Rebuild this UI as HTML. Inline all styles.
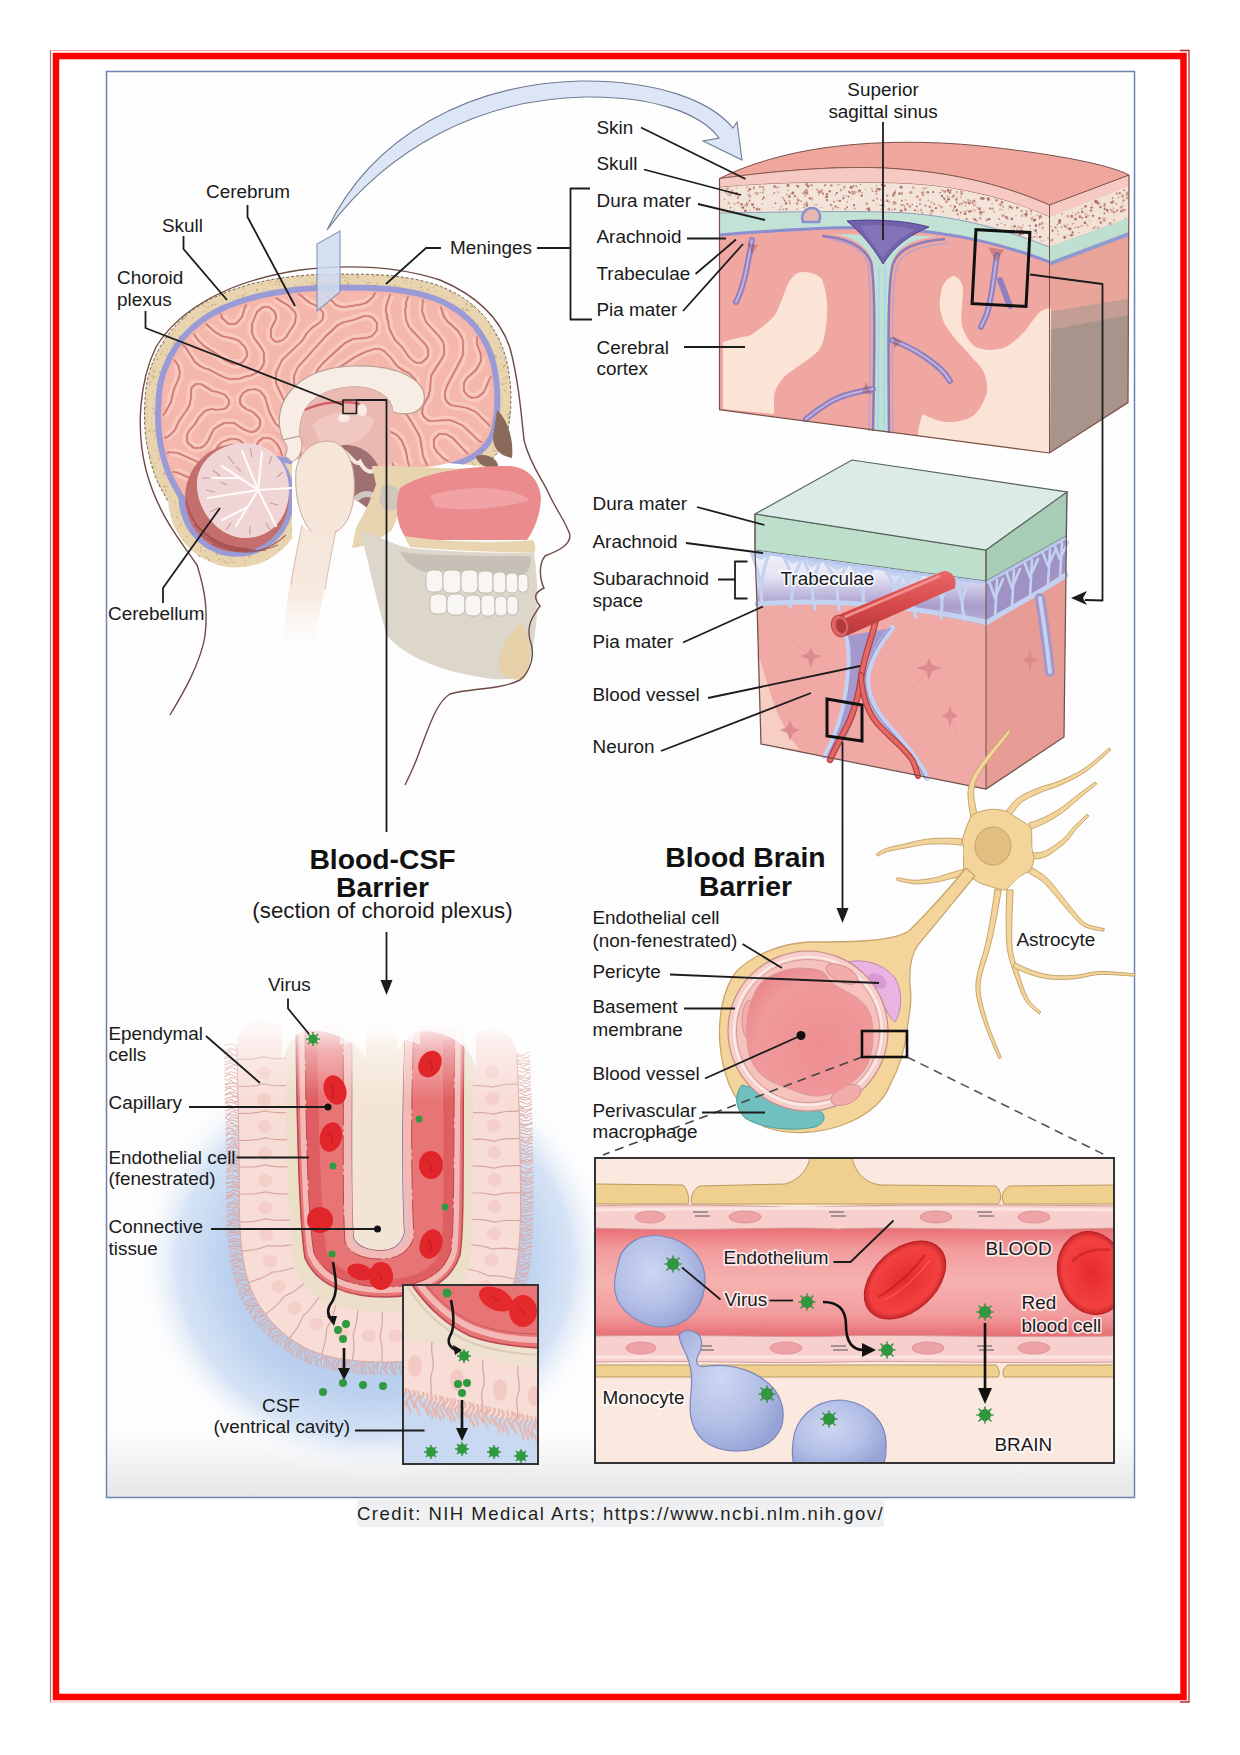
<!DOCTYPE html>
<html><head><meta charset="utf-8">
<style>
html,body{margin:0;padding:0;background:#fff;width:1240px;height:1755px;overflow:hidden}
svg{position:absolute;left:0;top:0}
.l{font-family:"Liberation Sans",sans-serif;font-size:18.9px;fill:#1a1a1a}
.b{font-family:"Liberation Sans",sans-serif;font-weight:bold;font-size:28.3px;fill:#111}
.ln{stroke:#1a1a1a;stroke-width:2;fill:none}
.h{paint-order:stroke;stroke:#fff;stroke-width:3.5px;stroke-opacity:0.75;stroke-linejoin:round}
.cr{position:absolute;left:357px;top:1500px;height:27px;background:#eef0f2;font-family:"Liberation Sans",sans-serif;font-size:18.5px;letter-spacing:1.47px;color:#1e1e1e;line-height:27px;white-space:nowrap}
</style></head><body>
<svg width="1240" height="1755" viewBox="0 0 1240 1755">
<defs>
<linearGradient id="bgG" x1="0" y1="0" x2="0" y2="1">
<stop offset="0" stop-color="#fefefe"/><stop offset="0.955" stop-color="#fdfdfd"/><stop offset="1" stop-color="#e6e6e6"/>
</linearGradient>
</defs>
<!-- frame -->
<path d="M50.5,50.5 L1180,50.5" stroke="#eea0a0" stroke-width="1.2" fill="none"/>
<path d="M1180,50.5 L1189,50.5 L1189,1702 L1180,1702" stroke="#b02a2a" stroke-width="1.3" fill="none"/>
<path d="M50.5,50.5 L50.5,1702" stroke="#a87474" stroke-width="1.2" fill="none"/>
<path d="M50.5,1702 L1180,1702" stroke="#f2c0c0" stroke-width="1" fill="none"/>
<rect x="56" y="56" width="1127.5" height="1641" fill="none" stroke="#f00" stroke-width="6.5"/>
<!-- image box -->
<rect x="106.5" y="71.5" width="1028" height="1426" fill="url(#bgG)" stroke="#6a84b0" stroke-width="1.5"/>
<g id="art">
<!-- head -->
<g id="head">
<path d="M168.2,501.9 L169.0,509.1 L170.5,515.8 L172.6,522.4 L175.3,528.7 L179.3,535.8 L183.2,541.3 L187.7,546.5 L192.7,551.2 L198.4,555.6 L204.2,559.1 L210.3,562.1 L216.6,564.5 L223.2,566.2 L229.9,567.2 L236.7,567.5 L243.5,567.1 L250.2,566.1 L258.0,563.9 L264.3,561.4 L270.7,558.1 L276.3,554.3 L282.6,549.2 L287.6,544.0 L292.0,538.3 L292.0,455.0 L300.0,452.0 L398.0,458.0 L482.9,466.3 L492.5,458.4 L497.1,453.2 L501.1,447.4 L504.0,441.9 L506.6,434.8 L509.5,420.7 L510.7,408.2 L510.9,397.5 L510.5,386.6 L509.4,375.8 L507.6,365.3 L505.0,354.8 L501.6,344.9 L498.5,338.0 L490.8,324.8 L481.5,313.2 L472.4,304.7 L459.8,295.7 L448.1,289.4 L435.8,284.6 L418.8,279.9 L400.4,276.7 L380.2,274.8 L345.3,274.0 L315.6,274.5 L295.3,276.1 L270.5,279.7 L250.9,284.0 L231.9,289.9 L214.0,297.4 L202.0,304.0 L190.3,312.1 L180.1,321.0 L171.1,330.8 L163.6,341.1 L157.0,352.6 L151.7,365.1 L147.9,377.6 L145.4,393.6 L144.4,413.4 L145.0,429.8 L147.0,446.1 L150.5,461.9 L155.3,476.6 L158.8,484.5 Z" fill="#e8d5b0"/>
<g fill="#b89868" opacity="0.6"><circle cx="466.4" cy="304.0" r="1.0"/><circle cx="206.4" cy="557.0" r="0.9"/><circle cx="175.6" cy="330.8" r="0.6"/><circle cx="163.5" cy="473.5" r="0.7"/><circle cx="151.6" cy="428.9" r="0.6"/><circle cx="283.9" cy="540.9" r="0.7"/><circle cx="154.3" cy="431.6" r="1.0"/><circle cx="186.7" cy="536.4" r="0.7"/><circle cx="167.9" cy="336.3" r="1.0"/><circle cx="369.4" cy="282.4" r="1.0"/><circle cx="162.0" cy="345.7" r="0.7"/><circle cx="170.6" cy="496.8" r="0.8"/><circle cx="468.2" cy="310.1" r="0.6"/><circle cx="502.9" cy="427.3" r="0.6"/><circle cx="283.6" cy="285.8" r="0.7"/><circle cx="433.7" cy="287.4" r="0.6"/><circle cx="204.0" cy="305.7" r="0.9"/><circle cx="263.5" cy="290.2" r="0.6"/><circle cx="291.7" cy="530.1" r="0.8"/><circle cx="320.6" cy="275.1" r="1.0"/><circle cx="498.5" cy="425.6" r="1.1"/><circle cx="155.3" cy="462.9" r="0.5"/><circle cx="198.3" cy="555.3" r="0.9"/><circle cx="153.9" cy="371.6" r="1.1"/><circle cx="265.2" cy="288.9" r="0.6"/><circle cx="490.9" cy="327.2" r="0.7"/><circle cx="498.8" cy="367.7" r="0.6"/><circle cx="358.6" cy="275.0" r="0.7"/><circle cx="436.5" cy="290.2" r="0.6"/><circle cx="494.9" cy="356.1" r="1.0"/><circle cx="182.9" cy="319.4" r="0.8"/><circle cx="153.4" cy="370.4" r="0.9"/><circle cx="177.0" cy="334.5" r="0.5"/><circle cx="201.3" cy="547.4" r="1.0"/><circle cx="420.9" cy="287.0" r="0.9"/><circle cx="154.5" cy="364.1" r="0.6"/><circle cx="500.6" cy="415.0" r="1.1"/><circle cx="203.2" cy="311.7" r="0.7"/><circle cx="230.5" cy="559.8" r="0.8"/><circle cx="467.7" cy="310.3" r="1.0"/><circle cx="422.3" cy="289.4" r="0.5"/><circle cx="410.9" cy="283.1" r="0.7"/><circle cx="489.2" cy="459.7" r="0.7"/><circle cx="175.8" cy="505.7" r="0.6"/><circle cx="479.5" cy="312.0" r="1.0"/><circle cx="193.1" cy="317.8" r="0.9"/><circle cx="405.8" cy="281.0" r="0.7"/><circle cx="499.5" cy="347.4" r="0.9"/><circle cx="227.3" cy="562.9" r="0.9"/><circle cx="501.8" cy="350.5" r="0.7"/><circle cx="151.5" cy="418.0" r="0.5"/><circle cx="174.8" cy="342.2" r="0.6"/><circle cx="147.2" cy="399.5" r="0.7"/><circle cx="497.1" cy="439.4" r="1.1"/><circle cx="494.1" cy="450.7" r="1.0"/><circle cx="363.0" cy="281.1" r="0.6"/><circle cx="462.6" cy="308.7" r="0.9"/><circle cx="149.9" cy="455.6" r="1.0"/><circle cx="153.3" cy="408.5" r="1.0"/><circle cx="269.6" cy="283.5" r="0.8"/><circle cx="146.7" cy="407.1" r="1.0"/><circle cx="166.0" cy="354.9" r="1.0"/><circle cx="178.9" cy="519.6" r="0.6"/><circle cx="365.6" cy="275.8" r="0.7"/><circle cx="348.2" cy="281.6" r="0.7"/><circle cx="450.2" cy="291.9" r="0.9"/><circle cx="213.7" cy="560.2" r="0.5"/><circle cx="181.0" cy="524.7" r="0.7"/><circle cx="164.2" cy="486.9" r="0.9"/><circle cx="224.2" cy="561.5" r="1.0"/><circle cx="472.4" cy="462.9" r="0.9"/><circle cx="285.6" cy="283.8" r="0.7"/><circle cx="510.4" cy="386.0" r="1.0"/><circle cx="172.5" cy="334.1" r="0.6"/><circle cx="232.1" cy="562.1" r="0.9"/><circle cx="208.2" cy="306.7" r="0.7"/><circle cx="504.6" cy="391.0" r="0.9"/><circle cx="331.1" cy="280.2" r="1.0"/><circle cx="376.5" cy="283.2" r="0.9"/><circle cx="226.6" cy="557.7" r="0.6"/><circle cx="267.3" cy="559.5" r="0.8"/><circle cx="402.3" cy="277.9" r="0.7"/><circle cx="242.7" cy="295.8" r="1.1"/><circle cx="482.5" cy="458.3" r="0.8"/><circle cx="221.8" cy="300.6" r="0.5"/><circle cx="502.6" cy="369.7" r="0.6"/><circle cx="238.0" cy="296.2" r="0.6"/><circle cx="502.9" cy="421.4" r="0.7"/><circle cx="159.8" cy="486.3" r="1.0"/><circle cx="505.6" cy="383.1" r="0.9"/><circle cx="164.1" cy="473.8" r="1.1"/><circle cx="345.3" cy="280.4" r="0.9"/><circle cx="490.1" cy="333.4" r="0.7"/><circle cx="244.7" cy="293.8" r="0.9"/><circle cx="283.8" cy="532.6" r="0.6"/><circle cx="306.9" cy="281.3" r="0.8"/><circle cx="149.8" cy="382.8" r="0.7"/><circle cx="249.4" cy="556.8" r="1.0"/><circle cx="208.2" cy="302.9" r="0.6"/><circle cx="262.0" cy="284.1" r="0.9"/><circle cx="179.7" cy="336.3" r="1.0"/><circle cx="496.0" cy="356.9" r="1.0"/><circle cx="405.2" cy="278.7" r="0.5"/><circle cx="503.7" cy="379.3" r="0.8"/><circle cx="165.5" cy="490.3" r="0.9"/><circle cx="257.0" cy="289.6" r="1.1"/><circle cx="177.3" cy="528.6" r="0.5"/><circle cx="156.4" cy="469.1" r="0.7"/><circle cx="156.7" cy="450.7" r="0.8"/><circle cx="501.6" cy="398.4" r="0.7"/><circle cx="146.8" cy="414.1" r="0.7"/><circle cx="153.8" cy="466.2" r="1.0"/><circle cx="369.6" cy="283.2" r="0.6"/><circle cx="278.6" cy="549.8" r="0.8"/><circle cx="265.8" cy="551.2" r="0.5"/><circle cx="312.3" cy="283.2" r="0.8"/><circle cx="279.9" cy="281.9" r="0.8"/><circle cx="295.6" cy="285.2" r="0.8"/><circle cx="176.6" cy="517.0" r="0.9"/><circle cx="508.2" cy="417.5" r="0.9"/><circle cx="160.2" cy="471.5" r="0.6"/><circle cx="348.5" cy="284.0" r="0.5"/><circle cx="207.6" cy="307.6" r="0.6"/><circle cx="245.5" cy="561.1" r="0.7"/><circle cx="505.3" cy="428.8" r="0.5"/><circle cx="212.4" cy="305.1" r="1.0"/><circle cx="309.6" cy="277.3" r="0.6"/><circle cx="509.4" cy="414.1" r="1.1"/><circle cx="256.7" cy="290.7" r="0.9"/><circle cx="420.6" cy="283.5" r="0.6"/><circle cx="465.8" cy="307.9" r="0.6"/><circle cx="437.8" cy="286.1" r="0.7"/><circle cx="466.2" cy="310.3" r="0.7"/><circle cx="208.9" cy="559.9" r="1.1"/><circle cx="291.8" cy="537.6" r="0.7"/><circle cx="276.9" cy="281.7" r="0.9"/><circle cx="151.4" cy="382.0" r="0.8"/><circle cx="374.8" cy="276.3" r="0.6"/><circle cx="179.5" cy="526.3" r="0.9"/><circle cx="215.2" cy="304.5" r="0.9"/><circle cx="312.4" cy="275.2" r="0.5"/><circle cx="491.6" cy="327.6" r="0.9"/><circle cx="477.9" cy="325.0" r="1.0"/><circle cx="200.6" cy="550.6" r="0.9"/><circle cx="447.6" cy="297.7" r="0.6"/><circle cx="191.1" cy="325.0" r="0.8"/><circle cx="472.9" cy="306.2" r="1.0"/><circle cx="368.1" cy="279.6" r="0.5"/><circle cx="482.0" cy="454.8" r="1.0"/><circle cx="275.4" cy="284.1" r="0.8"/><circle cx="173.4" cy="343.6" r="1.0"/><circle cx="310.2" cy="282.9" r="0.5"/><circle cx="166.7" cy="486.4" r="0.8"/><circle cx="165.3" cy="485.7" r="0.6"/><circle cx="501.0" cy="364.4" r="0.7"/><circle cx="154.6" cy="437.7" r="0.7"/><circle cx="151.6" cy="423.7" r="0.6"/><circle cx="154.2" cy="412.8" r="0.9"/><circle cx="331.9" cy="276.2" r="0.5"/><circle cx="274.8" cy="542.3" r="0.7"/><circle cx="500.7" cy="357.9" r="0.7"/><circle cx="496.1" cy="335.0" r="1.0"/><circle cx="174.8" cy="502.1" r="0.8"/><circle cx="356.8" cy="276.7" r="1.1"/><circle cx="244.6" cy="563.9" r="0.6"/><circle cx="373.4" cy="276.8" r="0.7"/><circle cx="390.0" cy="285.4" r="0.7"/><circle cx="279.5" cy="284.8" r="0.9"/><circle cx="250.2" cy="284.5" r="0.6"/><circle cx="349.5" cy="279.3" r="0.7"/><circle cx="150.2" cy="384.7" r="0.8"/><circle cx="156.6" cy="376.6" r="0.8"/><circle cx="411.5" cy="287.7" r="0.7"/><circle cx="278.2" cy="279.6" r="0.8"/><circle cx="154.7" cy="398.7" r="0.7"/><circle cx="146.5" cy="407.3" r="0.7"/><circle cx="152.5" cy="391.9" r="0.6"/><circle cx="504.5" cy="360.0" r="0.7"/><circle cx="346.8" cy="276.8" r="0.6"/><circle cx="348.1" cy="283.7" r="1.1"/><circle cx="153.2" cy="467.4" r="0.9"/><circle cx="270.5" cy="281.0" r="1.0"/><circle cx="162.4" cy="351.8" r="0.7"/><circle cx="508.7" cy="394.7" r="0.6"/><circle cx="155.4" cy="435.2" r="0.8"/><circle cx="428.1" cy="289.5" r="0.9"/><circle cx="504.3" cy="365.4" r="1.0"/><circle cx="463.5" cy="309.0" r="0.6"/><circle cx="151.1" cy="367.3" r="0.8"/><circle cx="454.0" cy="297.7" r="0.7"/><circle cx="492.6" cy="457.4" r="0.5"/><circle cx="164.1" cy="343.0" r="1.0"/><circle cx="358.5" cy="277.6" r="1.0"/><circle cx="218.9" cy="559.4" r="0.8"/><circle cx="206.0" cy="311.1" r="0.7"/><circle cx="494.2" cy="443.5" r="0.6"/><circle cx="156.3" cy="384.3" r="0.9"/><circle cx="149.2" cy="431.0" r="0.9"/><circle cx="503.5" cy="366.9" r="0.9"/><circle cx="171.2" cy="516.1" r="0.6"/><circle cx="147.7" cy="445.4" r="0.6"/><circle cx="154.2" cy="450.0" r="0.8"/><circle cx="205.1" cy="550.6" r="0.8"/><circle cx="177.6" cy="512.0" r="0.7"/><circle cx="471.3" cy="306.2" r="1.0"/><circle cx="216.8" cy="554.4" r="1.0"/><circle cx="352.1" cy="277.3" r="0.6"/><circle cx="222.9" cy="559.0" r="0.6"/><circle cx="145.2" cy="409.6" r="0.9"/><circle cx="483.0" cy="464.7" r="0.8"/><circle cx="500.8" cy="370.7" r="0.7"/><circle cx="243.8" cy="289.1" r="0.8"/><circle cx="220.1" cy="559.7" r="0.7"/><circle cx="153.4" cy="377.4" r="1.1"/><circle cx="344.0" cy="277.1" r="1.0"/><circle cx="149.7" cy="441.3" r="0.5"/><circle cx="158.8" cy="459.2" r="0.9"/><circle cx="158.4" cy="455.9" r="0.8"/><circle cx="474.4" cy="464.7" r="1.0"/><circle cx="315.5" cy="284.3" r="1.1"/><circle cx="183.0" cy="539.8" r="0.7"/><circle cx="145.9" cy="420.6" r="0.9"/><circle cx="158.9" cy="484.2" r="1.0"/><circle cx="492.9" cy="447.0" r="0.6"/><circle cx="220.3" cy="564.7" r="0.5"/><circle cx="234.6" cy="562.4" r="0.6"/><circle cx="502.4" cy="384.2" r="1.1"/><circle cx="301.7" cy="277.1" r="1.0"/><circle cx="503.2" cy="434.6" r="0.5"/><circle cx="154.2" cy="377.4" r="0.7"/><circle cx="508.2" cy="422.6" r="0.6"/><circle cx="499.4" cy="423.3" r="0.8"/><circle cx="466.7" cy="310.2" r="1.1"/><circle cx="275.6" cy="543.0" r="0.5"/><circle cx="328.6" cy="277.1" r="0.6"/><circle cx="394.9" cy="285.3" r="1.1"/><circle cx="178.5" cy="323.7" r="0.7"/><circle cx="388.5" cy="276.8" r="0.9"/><circle cx="339.1" cy="282.8" r="0.8"/><circle cx="502.3" cy="420.6" r="0.6"/><circle cx="167.0" cy="348.9" r="0.6"/><circle cx="366.9" cy="283.3" r="0.9"/><circle cx="289.1" cy="523.4" r="0.6"/><circle cx="157.6" cy="359.4" r="0.9"/><circle cx="507.4" cy="414.4" r="0.8"/><circle cx="153.1" cy="375.7" r="0.6"/><circle cx="199.7" cy="556.4" r="1.0"/><circle cx="346.8" cy="278.0" r="0.7"/><circle cx="506.5" cy="377.2" r="1.0"/><circle cx="184.5" cy="317.7" r="1.0"/><circle cx="151.2" cy="375.7" r="0.7"/><circle cx="503.5" cy="420.0" r="0.8"/><circle cx="161.0" cy="353.9" r="1.0"/><circle cx="420.9" cy="289.6" r="0.6"/><circle cx="411.6" cy="278.7" r="0.6"/><circle cx="398.5" cy="287.0" r="0.7"/><circle cx="272.8" cy="545.2" r="0.7"/><circle cx="159.2" cy="372.4" r="0.8"/><circle cx="452.6" cy="294.1" r="0.9"/><circle cx="500.0" cy="416.3" r="0.9"/></g>
<path d="M178.5,498.4 L178.9,504.4 L180.2,511.5 L184.1,522.6 L187.4,529.0 L190.7,533.8 L198.6,542.4 L204.1,546.8 L209.0,549.8 L219.7,554.4 L226.5,556.1 L232.1,556.8 L243.6,556.6 L250.6,555.2 L257.4,553.0 L263.9,549.9 L269.9,546.0 L275.5,541.4 L280.4,536.2 L284.7,530.3 L288.4,523.8 L292.0,514.4 L292.0,479.6 L288.9,471.4 L284.4,463.1 L292.0,464.5 L292.0,455.0 L300.0,452.0 L398.0,458.0 L463.9,464.5 L470.1,461.8 L475.5,458.7 L480.5,455.1 L486.6,449.4 L490.2,444.9 L493.4,439.6 L495.7,434.5 L498.6,422.5 L500.0,410.5 L500.4,400.8 L500.2,390.5 L499.4,380.4 L497.3,367.6 L495.1,358.1 L491.8,348.7 L489.0,342.4 L482.2,330.9 L473.7,320.3 L463.2,310.8 L454.1,304.6 L440.4,297.5 L428.9,293.4 L416.3,290.2 L398.8,287.0 L374.8,285.0 L345.2,284.5 L320.9,284.7 L296.6,286.5 L272.3,290.0 L253.5,294.2 L235.6,299.8 L218.7,306.7 L207.4,313.0 L197.0,320.2 L187.5,328.4 L179.3,337.3 L172.3,346.9 L166.3,357.6 L160.3,372.0 L157.4,383.3 L155.8,394.9 L154.9,413.7 L155.5,429.2 L157.4,444.6 L160.7,459.1 L165.2,472.9 L169.7,482.8 Z" fill="#9a9bd6"/>
<path d="M195.0,505.0 L193.1,505.0 L191.0,504.0 L188.9,502.2 L182.5,493.5 L173.5,477.0 L170.8,470.8 L167.4,460.9 L163.3,443.5 L161.5,428.7 L160.9,413.7 L161.8,395.4 L163.3,384.5 L166.0,374.0 L171.7,360.2 L177.3,350.2 L184.0,341.0 L191.8,332.6 L203.8,322.6 L214.0,316.0 L229.3,308.6 L246.2,302.5 L264.0,297.8 L287.6,293.7 L306.8,291.6 L330.8,290.5 L364.7,290.7 L388.9,292.0 L402.4,293.7 L419.2,297.0 L434.5,301.6 L444.7,306.1 L456.7,313.5 L467.0,322.0 L473.5,329.2 L480.7,339.7 L485.0,348.0 L487.4,353.7 L490.1,362.6 L492.0,371.8 L493.4,381.1 L494.2,390.9 L494.4,400.7 L493.7,412.9 L491.6,427.1 L490.1,432.3 L488.0,437.0 L485.4,441.3 L480.5,447.1 L476.7,450.5 L470.0,455.0 L462.0,458.8 L452.9,461.8 L440.0,465.0 L426.4,467.3 L415.7,468.4 L401.5,469.1 L370.0,468.0 L349.6,470.2 L343.4,470.3 L332.5,468.7 L303.6,460.9 L293.4,458.6 L267.0,454.5 L251.9,451.6 L242.9,451.4 L234.1,454.0 L225.2,458.6 L216.9,465.0 L212.0,470.0 L207.9,476.9 L200.0,498.4 L196.8,503.9 Z" fill="#f5b6ab"/>
<g fill="none" stroke="#fbd5ca" stroke-width="3" stroke-linecap="round" stroke-linejoin="round" opacity="0.65">
<path d="M374,439 L375,438 L381,438 L385,440 L389,444 L392,450 L395,462 L396,464"/>
<path d="M369,463 L367,458 L367,447 L369,443 L374,439"/>
<path d="M229,437 L230,436 L239,437 L244,440 L248,446"/>
<path d="M216,459 L213,455 L213,449 L215,445 L220,440 L226,437 L229,437"/>
<path d="M390,406 L391,405 L401,406 L409,413 L421,432 L424,441 L426,456 L429,462"/>
<path d="M406,464 L406,463 L400,443 L395,437 L384,432 L379,425 L379,416 L381,412 L386,407 L390,406"/>
<path d="M196,387 L194,390 L194,398 L193,399 L192,407 L184,418 L177,432 L168,440 L168,440"/>
<path d="M170,450 L178,450 L202,461 L208,466"/>
<path d="M198,489 L196,487 L189,481 L178,476"/>
<path d="M254,447 L254,444 L256,440 L262,435 L269,435 L275,438 L279,442 L283,449 L284,452"/>
<path d="M298,454 L298,452 L294,445 L273,425 L267,414 L264,402 L261,396 L258,393 L251,392 L245,395 L243,398 L244,404 L248,407 L255,410 L261,416 L263,420 L263,426 L258,433 L252,435 L247,434 L244,433 L234,426 L228,425 L227,426 L224,426 L217,430 L214,434 L209,445 L203,450 L194,451 L190,449 L185,444 L184,442 L184,435 L187,429 L193,422 L197,415 L203,409 L207,407 L221,407 L225,405 L226,403 L226,400 L223,397 L212,394 L201,387 L196,387"/>
<path d="M166,406 L168,402 L170,393 L177,374 L176,367 L175,365"/>
<path d="M373,347 L374,346 L380,346 L386,349 L393,356 L399,364 L411,371 L418,378 L419,381 L419,391 L417,395 L412,400 L410,401 L401,401 L399,400 L392,393 L385,380 L379,374 L374,372 L370,372 L363,375 L356,383 L345,393 L342,393 L341,394 L335,393 L330,389 L328,385 L328,377 L330,373 L338,365 L353,355 L367,348 L373,347"/>
<path d="M446,312 L449,319 L460,329 L464,335 L466,341 L466,354 L463,363 L450,386 L448,392 L448,398 L450,401 L454,403 L463,404 L475,408 L488,420"/>
<path d="M489,387 L486,394 L479,400 L476,400 L475,401 L469,400 L463,395 L461,391 L461,383 L463,379 L466,375 L474,368 L478,361 L478,355 L474,343 L474,338"/>
<path d="M306,297 L312,301 L319,304 L326,312 L326,319 L325,321 L320,326 L315,329 L309,335 L304,343 L284,362 L279,373 L279,383 L289,405 L297,417 L313,433 L325,438 L337,439 L340,438 L344,434 L344,428 L341,425 L324,425 L321,424 L314,420 L308,414 L297,398 L292,387 L291,376 L294,368 L310,349 L325,333 L337,322 L361,314 L368,313 L375,316 L380,323 L379,333 L373,339 L366,340 L365,341 L357,341 L347,345 L336,354 L324,366 L317,377 L317,386 L320,392 L327,399 L340,405 L348,405 L351,403 L357,393 L364,386 L368,384 L374,384 L378,386 L383,392 L383,400 L382,403 L369,416 L367,420 L367,428 L366,429 L365,437 L359,446 L357,451 L357,460 L358,464"/>
<path d="M441,460 L435,454 L431,447 L431,439 L433,435 L439,431 L446,431 L456,437 L461,443 L469,450"/>
<path d="M477,443 L477,443 L464,430 L458,426 L451,423 L429,424 L425,422 L420,416 L419,409 L421,403 L423,401 L427,392 L427,383 L428,382 L429,373 L433,366 L439,359 L442,351 L442,348 L439,341 L424,324 L420,315 L420,302"/>
<path d="M410,300 L409,302 L409,307 L408,308 L408,315 L411,325 L428,343 L431,349 L431,356 L429,360 L424,365 L421,366 L415,365 L407,359 L400,349 L393,342 L387,331 L387,328 L384,319 L383,308 L384,307 L384,302 L386,297"/>
<path d="M377,296 L370,304 L363,307 L359,307 L353,309 L347,309 L346,310 L342,310 L334,307 L323,296"/>
<path d="M210,324 L217,330 L225,334 L235,336 L241,339 L247,345 L250,352 L250,355 L249,356 L249,359 L245,364 L239,367 L234,367 L224,363 L202,348 L196,342 L193,338"/>
<path d="M187,345 L188,346 L194,356 L198,361 L202,364 L229,376 L239,376 L240,375 L250,373 L256,370 L261,363 L261,353 L253,342 L249,333 L249,324 L255,310 L259,306 L263,304 L269,304 L276,309 L278,312 L279,318 L278,319 L278,322 L274,329 L273,334 L274,337 L277,339 L281,338 L284,335 L293,320 L293,315 L287,308 L278,303 L275,301"/>
<path d="M249,307 L247,310 L244,319 L239,325 L235,327 L229,327 L225,325 L220,320 L219,319"/>
<path d="M342,465 L342,463 L339,457 L335,453 L331,451 L322,451"/>
<path d="M375,445 L376,444 L381,444 L386,450 L389,462 L390,464"/>
<path d="M375,463 L372,455 L372,450 L375,445"/>
<path d="M228,443 L229,442 L236,442 L240,444 L242,447"/>
<path d="M221,456 L219,454 L219,450 L224,444 L228,443"/>
<path d="M390,412 L391,411 L398,411 L405,417 L417,437 L421,459 L423,463"/>
<path d="M411,464 L411,460 L410,459 L408,448 L403,437 L396,431 L389,428 L384,422 L384,419 L386,415 L390,412"/>
<path d="M195,381 L193,382 L189,387 L187,404 L178,417 L172,429 L167,434"/>
<path d="M171,455 L174,455 L181,457 L196,464 L205,471"/>
<path d="M200,484 L192,476 L180,470 L176,470"/>
<path d="M259,448 L260,445 L264,441 L269,441 L275,446 L277,451"/>
<path d="M304,456 L304,452 L303,449 L298,441 L277,421 L272,411 L268,397 L266,393 L261,388 L259,387 L248,387 L242,390 L237,397 L237,404 L239,407 L244,411 L251,414 L257,420 L257,425 L253,429 L247,428 L234,420 L224,420 L217,423 L209,431 L206,439 L202,444 L200,445 L195,445 L190,441 L190,435 L191,433 L206,414 L211,412 L224,412 L228,410 L232,405 L232,399 L226,392 L215,389 L204,382 L195,381"/>
<path d="M166,416 L167,415 L173,404 L177,389 L182,378 L182,367 L178,360 L178,360"/>
<path d="M372,353 L373,352 L380,352 L382,353 L389,360 L394,367 L402,373 L408,376 L413,381 L414,388 L413,391 L409,395 L406,396 L402,395 L396,389 L390,377 L382,369 L377,367 L367,367 L362,369 L342,388 L338,388 L334,385 L333,379 L338,372 L359,358 L370,353 L372,353"/>
<path d="M439,309 L439,312 L442,319 L445,323 L451,328 L458,336 L460,340 L461,350 L460,351 L459,358 L451,373 L449,375 L444,386 L442,392 L443,401 L447,406 L451,408 L464,410 L474,414 L487,427"/>
<path d="M488,377 L486,379 L482,390 L476,395 L470,394 L467,391 L466,388 L467,383 L469,380 L478,372 L483,364 L484,358"/>
<path d="M299,297 L305,303 L315,308 L320,313 L320,318 L316,322 L311,325 L305,331 L300,339 L280,358 L275,367 L273,373 L273,383 L275,389 L290,417 L294,422 L312,439 L318,442 L321,442 L326,444 L332,444 L333,445 L340,444 L344,442 L348,438 L350,434 L350,427 L348,423 L344,420 L341,419 L331,419 L330,420 L324,419 L318,416 L312,410 L304,399 L299,390 L297,384 L297,375 L300,369 L328,338 L340,327 L364,319 L369,319 L371,320 L374,324 L374,330 L370,334 L353,336 L346,339 L339,344 L330,352 L316,367 L312,374 L312,377 L311,378 L311,386 L315,395 L323,403 L337,410 L340,410 L341,411 L351,410 L357,405 L363,394 L368,390 L374,390 L378,395 L377,400 L364,413 L362,417 L361,420 L361,430 L359,436 L356,440 L351,451 L351,460 L353,465"/>
<path d="M448,458 L445,456 L437,447 L436,442 L440,437 L446,437 L448,438 L463,453"/>
<path d="M481,438 L468,426 L454,418 L441,417 L440,418 L433,419 L428,417 L425,413 L426,406 L431,398 L433,391 L433,380 L434,379 L434,376 L445,360 L445,358 L447,355 L447,345 L444,338 L428,320 L425,312 L425,304 L425,304"/>
<path d="M404,299 L403,303 L403,319 L404,320 L404,323 L409,332 L425,349 L425,356 L421,360 L417,360 L410,354 L404,345 L395,335 L392,328 L390,315 L389,314 L389,306 L392,297"/>
<path d="M370,296 L367,299 L363,301 L350,303 L349,304 L341,304 L338,303 L331,296"/>
<path d="M206,327 L216,336 L222,339 L237,343 L244,351 L244,356 L243,358 L239,361 L230,360 L206,344 L200,338 L197,334"/>
<path d="M184,350 L184,350 L193,364 L201,370 L203,370 L229,382 L238,382 L239,381 L243,381 L247,379 L250,379 L260,374 L265,368 L267,363 L267,353 L265,350 L265,348 L260,342 L255,333 L255,324 L259,314 L264,310 L269,310 L272,313 L273,319 L268,330 L268,338 L269,340 L274,344 L281,344 L288,339 L296,327 L299,320 L298,312 L290,303 L284,300 L283,299"/>
<path d="M242,309 L241,312 L238,318 L234,321 L229,321 L225,317 L225,316"/>
</g>
<g fill="none" stroke="#cf7a74" stroke-width="1.7" stroke-linecap="round" stroke-linejoin="round">
<path d="M323,454 L318,458 L318,463"/>
<path d="M340,468 L339,463 L337,459 L331,454 L323,454"/>
<path d="M375,442 L376,441 L381,441 L383,442 L387,446 L389,450 L392,462 L394,467"/>
<path d="M373,466 L369,453 L371,445 L375,442"/>
<path d="M228,440 L229,439 L236,439 L239,440 L244,444 L246,448 L246,449"/>
<path d="M220,459 L217,456 L216,450 L218,446 L222,442 L228,440"/>
<path d="M390,409 L391,408 L398,408 L402,410 L407,415 L411,421 L420,437 L423,456 L427,465"/>
<path d="M409,467 L409,464 L408,463 L406,451 L402,441 L397,435 L385,429 L381,422 L382,416 L384,413 L387,410 L390,409"/>
<path d="M196,384 L192,387 L191,390 L191,400 L190,401 L190,404 L187,410 L179,421 L175,430 L169,436 L165,438 L165,438"/>
<path d="M167,453 L168,453 L169,452 L178,453 L200,463 L209,471"/>
<path d="M201,489 L198,485 L190,478 L176,472 L173,472"/>
<path d="M257,450 L257,444 L259,441 L263,438 L269,438 L273,440 L277,444 L280,449 L282,455"/>
<path d="M302,458 L302,458 L301,457 L300,449 L296,443 L275,423 L269,411 L265,397 L260,391 L255,389 L248,390 L243,393 L240,398 L240,403 L242,406 L246,409 L253,412 L259,418 L260,420 L260,426 L257,430 L253,432 L250,432 L243,429 L234,423 L224,423 L214,429 L208,441 L204,446 L200,448 L194,448 L188,443 L187,441 L187,435 L189,431 L195,424 L199,417 L205,411 L211,409 L214,409 L215,410 L224,409 L226,408 L229,404 L229,400 L225,395 L218,392 L212,391 L201,384 L196,384"/>
<path d="M163,415 L165,413 L171,402 L174,389 L179,378 L180,371 L179,370 L179,367 L176,362 L174,360"/>
<path d="M372,350 L373,349 L380,349 L384,351 L391,358 L397,366 L404,371 L409,373 L415,379 L417,384 L417,387 L415,393 L411,397 L409,398 L402,398 L400,397 L394,391 L388,379 L381,372 L373,369 L367,370 L361,373 L346,389 L342,391 L338,391 L332,387 L330,382 L331,377 L340,367 L355,357 L365,352 L372,350"/>
<path d="M441,307 L441,308 L444,317 L447,321 L458,331 L462,338 L463,341 L463,355 L447,386 L445,392 L445,398 L447,402 L451,405 L467,408 L476,412 L490,426"/>
<path d="M491,377 L490,378 L484,392 L478,397 L472,398 L468,396 L464,391 L464,383 L465,381 L467,378 L476,370 L481,361 L481,355 L477,344 L477,337"/>
<path d="M299,294 L300,295 L310,303 L317,306 L323,312 L323,318 L322,320 L318,324 L313,327 L307,333 L302,341 L282,360 L276,373 L276,383 L288,409 L296,420 L314,437 L322,440 L331,441 L332,442 L340,441 L346,436 L347,434 L347,427 L345,424 L341,422 L324,422 L321,421 L316,418 L310,412 L299,396 L294,384 L294,376 L298,367 L326,336 L338,325 L344,322 L354,320 L364,316 L369,316 L373,318 L377,323 L377,330 L372,336 L367,338 L353,339 L345,343 L323,363 L318,369 L314,377 L314,386 L318,394 L328,403 L340,408 L348,408 L352,406 L362,391 L368,387 L374,387 L376,388 L380,393 L381,396 L379,402 L365,417 L363,434 L354,451 L354,460 L356,466 L357,467"/>
<path d="M448,461 L443,458 L437,452 L434,447 L434,439 L439,434 L446,434 L453,438 L464,450 L468,454"/>
<path d="M482,442 L479,441 L462,425 L450,420 L429,421 L424,417 L422,413 L423,406 L429,395 L429,392 L430,391 L431,376 L444,355 L444,345 L443,342 L439,336 L426,322 L422,311 L423,300"/>
<path d="M408,297 L406,302 L406,308 L405,309 L406,320 L409,327 L426,345 L428,349 L428,356 L427,358 L421,363 L417,363 L413,361 L409,357 L402,347 L395,340 L389,328 L388,320 L387,319 L387,314 L386,313 L386,307 L390,295 L390,294"/>
<path d="M375,293 L373,297 L366,303 L359,305 L355,305 L354,306 L349,306 L348,307 L341,307 L336,305 L324,293"/>
<path d="M206,324 L206,324 L215,332 L222,336 L235,339 L239,341 L245,347 L247,352 L247,356 L243,362 L239,364 L233,364 L226,361 L220,356 L204,346 L198,340 L194,334"/>
<path d="M183,345 L186,348 L195,362 L200,366 L206,369 L208,369 L223,377 L229,379 L239,379 L247,376 L250,376 L258,372 L261,369 L264,363 L264,353 L261,347 L254,338 L252,333 L252,324 L257,312 L263,307 L269,307 L274,311 L276,315 L276,319 L271,329 L271,337 L274,341 L277,342 L283,340 L286,337 L295,323 L296,315 L295,312 L289,306 L276,298 L276,298"/>
<path d="M246,305 L245,307 L242,317 L237,323 L235,324 L229,324 L222,318 L221,314"/>
</g>
<path d="M484.2,465.5 L491.8,459.1 L497.1,453.2 L502.3,445.2 L505.4,438.3 L507.7,430.6 L509.5,420.7 L510.7,407.8 L510.9,393.5 L510.2,382.6 L508.3,369.1 L506.0,358.4 L502.7,347.8 L498.5,338.0 L492.9,328.0 L486.2,318.6 L478.7,310.4 L472.4,304.7 L463.2,297.9 L456.2,293.6 L448.6,289.7 L440.6,286.3 L432.1,283.4 L413.9,278.9 L390.6,275.5 L365.1,274.2 L325.4,274.1 L310.3,274.8 L295.3,276.1 L270.5,279.7 L250.5,284.1 L227.7,291.5 L210.2,299.3 L202.0,304.0 L194.4,309.0 L187.2,314.6 L180.5,320.5 L174.4,326.9 L168.7,333.7 L160.9,345.4 L156.8,353.1 L153.2,361.1 L150.2,369.2 L147.9,377.6 L146.3,385.9 L145.1,397.7 L144.5,409.7 L144.6,421.9 L145.4,434.3 L147.0,446.1 L151.6,465.8 L155.3,476.6 L158.5,483.9 L168.1,501.6" fill="none" stroke="#7d6455" stroke-width="1" stroke-dasharray="3 2"/>
<!-- corpus callosum -->
<path d="M283,440 C268,400 300,368 352,366 C398,364 428,380 424,402 C421,414 405,416 393,412 C392,396 373,385 349,387 C317,390 298,407 300,436 Z" fill="#f7ede4" stroke="#b89c90" stroke-width="1.2"/>
<!-- fornix -->
<path d="M300,436 C305,448 300,458 292,462 L285,456 C288,450 288,445 283,440 Z" fill="#f7ede4" stroke="#b89c90" stroke-width="1"/>
<!-- thalamus region -->
<path d="M300,436 C298,407 317,390 349,387 C373,385 392,396 393,412 C386,430 394,450 398,462 L360,466 C345,462 330,458 312,462 Z" fill="#e9b9b2"/>
<path d="M312,425 C330,408 362,408 374,420 C370,442 342,450 320,442 Z" fill="#f2cac4" opacity="0.8"/>
<path d="M305,410 C320,402 345,400 360,404" stroke="#d6606a" stroke-width="2.5" fill="none"/>
<ellipse cx="344" cy="418" rx="6" ry="4" fill="#f8ece4"/>
<ellipse cx="362" cy="410" rx="5" ry="6" fill="#f8ece4"/>
<!-- dark ventricle / midbrain region -->
<path d="M330,448 C350,440 372,448 380,470 C384,490 380,505 372,510 C360,505 350,495 342,480 C336,470 332,460 330,448 Z" fill="#9e7070"/>
<path d="M345,452 C352,458 356,466 360,462 C364,470 370,474 374,470" stroke="#f3e6dc" stroke-width="4" fill="none" stroke-linecap="round"/>
<path d="M355,500 C362,492 372,492 378,500" stroke="#cfc8c2" stroke-width="6" fill="none"/>
<!-- brainstem -->
<defs><linearGradient id="cordG" gradientUnits="userSpaceOnUse" x1="0" y1="530" x2="0" y2="645">
<stop offset="0" stop-color="#f6e6da" stop-opacity="1"/><stop offset="0.55" stop-color="#f6e6da" stop-opacity="0.85"/><stop offset="1" stop-color="#f8eee8" stop-opacity="0"/></linearGradient></defs>
<path d="M296,470 C300,448 318,438 334,442 C350,448 356,470 354,495 C352,515 346,526 336,532 C328,536 318,536 312,532 C302,522 294,500 296,470 Z" fill="#f6e6da" stroke="#c9a898" stroke-width="1"/>
<path d="M302,525 C310,534 325,536 336,530 C330,560 322,600 314,645 L282,645 C286,600 294,560 302,525 Z" fill="url(#cordG)"/>
<path d="M336,530 C332,550 328,570 325,590 M302,525 C298,545 294,565 291,585" fill="none" stroke="#d9bcae" stroke-width="1"/>
<!-- cerebellum -->
<ellipse cx="237" cy="498" rx="52" ry="54" fill="#c46e6e"/>
<g stroke="#9c4a4c" stroke-width="1.1" fill="none" opacity="0.8">
<path d="M186,500 C192,528 212,546 242,551"/><path d="M189,512 C198,533 220,547 248,549"/><path d="M194,524 C208,540 230,550 256,550"/><path d="M200,534 C215,546 240,553 266,550"/><path d="M212,544 C230,552 255,555 278,545"/><path d="M230,550 C250,556 270,550 286,535"/>
</g>
<path d="M197,488 C195,462 218,443 246,443 C274,444 290,466 289,492 C288,518 272,537 247,538 C222,539 199,515 197,488 Z" fill="#efd5d6"/>
<g stroke="#fffaf6" stroke-width="2.2" fill="none" stroke-linecap="round">
<path d="M292,488 L258,490 L222,466"/><path d="M258,490 L236,526"/><path d="M258,490 L262,452"/><path d="M258,490 L208,498"/><path d="M258,490 L276,526"/><path d="M258,490 L242,451"/><path d="M240,478 L212,478"/><path d="M246,508 L222,520"/>
</g>
<g stroke="#c99ea1" stroke-width="1.1" fill="none">
<path d="M213,470 l7,6 M228,456 l6,8 M250,448 l2,9 M272,456 l-3,8 M283,472 l-6,5 M206,490 l9,2 M210,512 l8,-4 M226,530 l5,-7 M250,535 l0,-9 M270,530 l-4,-7 M220,482 l7,3 M236,466 l5,6 M278,505 l-8,-2 M202,478 l8,0"/>
</g>
<!-- skull base beige near brainstem/sphenoid -->
<path d="M372,466 L402,466 L440,468 L520,470 L524,482 L440,478 L410,482 L402,505 L392,530 L370,545 L352,548 L356,528 L368,505 L376,485 Z" fill="#e8d5b0"/>
<path d="M382,486 C395,482 404,490 400,505 C394,515 382,512 379,500 Z" fill="#cfc7bd"/>
<!-- frontal sinus dark -->
<path d="M497,410 C508,420 514,440 512,458 C500,456 490,448 494,430 Z" fill="#8a6a5a"/>
<path d="M476,456 C488,452 500,460 498,469 C486,469 476,463 476,456 Z" fill="#8a6a5a"/>
<!-- nasal cavity pink -->
<path d="M400,488 C420,474 460,466 510,466 C530,468 540,482 541,499 C540,516 534,530 527,540 L408,540 C398,530 393,508 400,488 Z" fill="#eb8b8e"/>
<path d="M430,495 C470,484 510,486 530,500 C505,508 465,512 435,507 Z" fill="#f3a8aa" opacity="0.8"/>
<!-- palate beige -->
<path d="M404,536 C450,543 500,543 533,540 C536,545 536,550 534,553 C500,552 450,551 410,547 Z" fill="#e8d5b0"/>
<!-- jaw gray -->
<path d="M360,530 C378,536 392,544 408,548 C460,553 510,553 534,553 C541,600 536,640 528,668 C520,681 500,681 480,677 C440,671 405,656 387,636 C378,605 370,570 360,530 Z" fill="#ddd6cb"/>
<path d="M400,552 C430,556 480,556 530,556 C532,566 528,574 520,576 C480,572 450,570 425,572 C412,568 404,560 400,552 Z" fill="#bdb6ad" opacity="0.7"/>
<!-- chin bone beige -->
<path d="M522,622 C532,645 532,665 524,679 C506,682 494,673 500,655 C505,640 513,630 522,622 Z" fill="#e5d0a8"/>
<!-- teeth -->
<g fill="#f7f6f2" stroke="#b8b0a5" stroke-width="0.8">
<rect x="426" y="570" width="17" height="22" rx="6"/><rect x="443" y="570" width="18" height="23" rx="6"/><rect x="461" y="570" width="17" height="23" rx="6"/><rect x="478" y="571" width="15" height="22" rx="5"/><rect x="493" y="572" width="13" height="21" rx="5"/><rect x="506" y="573" width="12" height="20" rx="5"/><rect x="518" y="574" width="10" height="18" rx="4"/>
<rect x="430" y="594" width="17" height="20" rx="6"/><rect x="447" y="594" width="18" height="21" rx="6"/><rect x="465" y="595" width="16" height="21" rx="6"/><rect x="481" y="595" width="14" height="21" rx="5"/><rect x="495" y="596" width="12" height="20" rx="5"/><rect x="507" y="596" width="11" height="19" rx="5"/>
</g>
<!-- skin outline -->
<path d="M170,715 C182,695 200,665 205,636 C208,610 205,590 197,565 C180,540 158,515 146,470 C136,430 139,382 156,347 C182,305 235,280 300,270 C350,264 400,267 440,280 C478,296 500,318 510,348 C518,378 521,410 524,440 C530,465 543,480 548,492 C556,510 566,522 570,535 C570,545 560,550 545,556 C538,565 540,580 544,588 C536,592 532,596 540,606 C534,615 526,624 530,640 C536,655 530,672 520,680 C500,690 470,688 450,694 C436,702 428,730 420,750 C415,765 410,775 405,785" fill="none" stroke="#6e4b42" stroke-width="1.4"/>
<!-- transparent plane -->
<path d="M317,244 L340,231 L340,292 L317,311 Z" fill="#cfdcf2" stroke="#7d8db0" stroke-width="1.2" opacity="0.85"/>
<!-- curved arrow (top) -->
<path d="M327,230 C372,135 470,84 580,81 C655,80 710,100 733,128 L737,122 L742,160 L703,141 L719,138 C700,112 650,96 585,97 C480,99 388,148 327,230 Z" fill="#dde6f6" stroke="#6f7b92" stroke-width="1.1"/>

</g>
<!-- topblock -->
<g id="topblock">
<!-- right side face -->
<path d="M1049,205 L1129,175 L1128,402.6 L1049,453 Z" fill="#a9948c"/>
<path d="M1049,205 L1129,175 L1129,299 L1049,312 Z" fill="#e9a49a"/>
<path d="M1049,312 L1129,299 L1129,315 L1049,330 Z" fill="#c9a097" opacity="0.8"/>
<path d="M1049,205 L1129,175 L1129,186 L1049,217 Z" fill="#f6c9c2"/>
<path d="M1049,217 L1129,186 L1129,218 L1049,247 Z" fill="#f2e2d6"/>
<path d="M1049,247 L1129,218 L1129,232 L1049,262 Z" fill="#bde0d0"/>
<path d="M1049,262 L1129,232 L1129,236 L1049,266 Z" fill="#8e9ad0"/>
<!-- front face cortex base (pink) -->
<path d="M719.5,178.6 C780,170 840,166 884,168 C960,172 1010,188 1049.5,205 L1049.5,453 L719.5,409.7 Z" fill="#f1a7a1"/>
<!-- white matter blobs -->
<path d="M723,342 C735,338 745,337 751,335 C765,325 775,318 778,309 C784,295 786,288 789,282 C794,274 798,272 803,272 C812,272 818,275 822,279 C828,295 828,312 826,326 C824,340 822,348 816,353 C806,362 795,368 786,375 C778,383 775,390 774,397 L774,414 L723,409 Z" fill="#fbe3d6"/>
<path d="M942,287 C946,280 950,276 954,276 C960,278 963,284 963,290 C963,302 960,315 962,326 C966,338 972,346 978,348 C988,351 996,350 1003,348 C1012,345 1018,338 1025,331 C1032,322 1036,315 1041,311 C1045,309 1048,308 1051,308 L1050,454 L918,436 C918,430 920,420 923,414 C930,418 940,422 948,422 C958,422 966,420 973,416 C980,410 985,400 987,392 C988,380 984,370 978,364 C970,355 962,346 956,340 C950,332 945,326 943,320 C940,312 939,305 940,298 Z" fill="#fbe3d6"/>
<!-- top surface -->
<path d="M719.5,178.6 C740,168 770,158 800,152 C860,140 930,140 990,147 C1060,155 1110,165 1129,175 L1049.5,205 C1010,188 960,172 884,168 C840,166 780,170 719.5,178.6 Z" fill="#eea69d" stroke="#7a5048" stroke-width="1"/>
<!-- skin band front -->
<path d="M719.5,178.6 C780,170 840,166 884,168 C960,172 1010,188 1049.5,205 L1049.5,217 C1010,200 960,184 884,183 C840,182 780,182 719.5,187.4 Z" fill="#f6c9c2" stroke="#7a5048" stroke-width="0.8"/>
<!-- skull speckled -->
<path d="M719.5,187.4 C780,182 840,182 884,183 C960,184 1010,200 1049.5,217 L1049.5,247 C1010,232 960,214 884,212 C840,211 780,212 719.5,213 Z" fill="#f3e4d9"/>
<g opacity="0.85"><circle cx="976.4" cy="220.8" r="1.2" fill="#c98a80"/><circle cx="859.5" cy="190.8" r="1.5" fill="#b06a62"/><circle cx="942.0" cy="196.0" r="1.2" fill="#9c5a55"/><circle cx="949.5" cy="197.5" r="0.8" fill="#d4a090"/><circle cx="861.7" cy="195.6" r="1.3" fill="#b06a62"/><circle cx="957.7" cy="214.3" r="1.1" fill="#b06a62"/><circle cx="846.6" cy="196.3" r="0.8" fill="#c98a80"/><circle cx="811.3" cy="184.9" r="0.8" fill="#9c5a55"/><circle cx="1022.2" cy="227.3" r="1.1" fill="#d4a090"/><circle cx="988.5" cy="200.0" r="1.2" fill="#c98a80"/><circle cx="1039.0" cy="227.1" r="0.7" fill="#c98a80"/><circle cx="752.5" cy="204.6" r="1.4" fill="#9c5a55"/><circle cx="735.5" cy="194.6" r="0.9" fill="#d4a090"/><circle cx="966.7" cy="219.0" r="0.9" fill="#9c5a55"/><circle cx="779.7" cy="209.6" r="0.8" fill="#b06a62"/><circle cx="725.9" cy="192.2" r="1.2" fill="#d4a090"/><circle cx="1021.5" cy="231.0" r="1.2" fill="#9c5a55"/><circle cx="965.5" cy="205.7" r="0.7" fill="#b06a62"/><circle cx="913.1" cy="187.5" r="1.3" fill="#d4a090"/><circle cx="1029.8" cy="225.7" r="0.9" fill="#9c5a55"/><circle cx="964.3" cy="211.6" r="1.1" fill="#d4a090"/><circle cx="843.4" cy="198.4" r="1.1" fill="#9c5a55"/><circle cx="783.0" cy="209.4" r="1.1" fill="#d4a090"/><circle cx="812.0" cy="185.5" r="1.0" fill="#c98a80"/><circle cx="917.2" cy="196.4" r="1.5" fill="#c98a80"/><circle cx="806.6" cy="201.8" r="0.7" fill="#d4a090"/><circle cx="817.1" cy="208.9" r="0.6" fill="#c98a80"/><circle cx="849.0" cy="191.7" r="1.0" fill="#b06a62"/><circle cx="730.6" cy="207.6" r="0.9" fill="#b06a62"/><circle cx="944.0" cy="198.2" r="1.0" fill="#9c5a55"/><circle cx="1026.1" cy="215.6" r="1.2" fill="#b06a62"/><circle cx="980.1" cy="218.2" r="1.3" fill="#c98a80"/><circle cx="812.6" cy="198.1" r="0.8" fill="#c98a80"/><circle cx="746.8" cy="205.0" r="1.2" fill="#9c5a55"/><circle cx="811.8" cy="199.8" r="0.8" fill="#b06a62"/><circle cx="968.3" cy="200.0" r="1.1" fill="#c98a80"/><circle cx="1017.0" cy="229.4" r="0.9" fill="#c98a80"/><circle cx="806.5" cy="192.9" r="1.4" fill="#9c5a55"/><circle cx="817.4" cy="189.7" r="1.3" fill="#d4a090"/><circle cx="816.3" cy="205.6" r="0.6" fill="#d4a090"/><circle cx="753.9" cy="187.9" r="1.3" fill="#c98a80"/><circle cx="873.4" cy="200.5" r="1.1" fill="#b06a62"/><circle cx="902.4" cy="205.1" r="0.8" fill="#b06a62"/><circle cx="1026.8" cy="212.4" r="1.0" fill="#d4a090"/><circle cx="933.1" cy="192.1" r="1.1" fill="#9c5a55"/><circle cx="905.6" cy="200.0" r="0.9" fill="#d4a090"/><circle cx="959.6" cy="217.8" r="0.6" fill="#c98a80"/><circle cx="822.0" cy="190.1" r="1.1" fill="#c98a80"/><circle cx="774.6" cy="186.5" r="1.3" fill="#9c5a55"/><circle cx="1031.7" cy="238.1" r="1.3" fill="#d4a090"/><circle cx="724.5" cy="199.5" r="0.6" fill="#9c5a55"/><circle cx="840.0" cy="200.9" r="0.9" fill="#9c5a55"/><circle cx="939.9" cy="192.6" r="0.9" fill="#b06a62"/><circle cx="797.0" cy="203.6" r="1.3" fill="#c98a80"/><circle cx="738.0" cy="197.0" r="1.2" fill="#c98a80"/><circle cx="774.3" cy="193.1" r="1.1" fill="#c98a80"/><circle cx="965.2" cy="213.8" r="1.2" fill="#9c5a55"/><circle cx="814.7" cy="204.6" r="0.7" fill="#b06a62"/><circle cx="941.7" cy="189.6" r="0.8" fill="#d4a090"/><circle cx="1018.9" cy="226.9" r="1.4" fill="#d4a090"/><circle cx="895.0" cy="203.1" r="1.5" fill="#b06a62"/><circle cx="894.4" cy="193.3" r="1.3" fill="#9c5a55"/><circle cx="907.4" cy="204.0" r="1.2" fill="#c98a80"/><circle cx="853.7" cy="185.9" r="1.0" fill="#b06a62"/><circle cx="916.8" cy="206.4" r="0.9" fill="#9c5a55"/><circle cx="805.6" cy="190.0" r="1.0" fill="#d4a090"/><circle cx="959.5" cy="205.3" r="0.8" fill="#d4a090"/><circle cx="989.4" cy="219.0" r="1.1" fill="#9c5a55"/><circle cx="960.6" cy="212.6" r="1.1" fill="#b06a62"/><circle cx="760.1" cy="186.8" r="1.2" fill="#c98a80"/><circle cx="1022.0" cy="234.7" r="0.7" fill="#d4a090"/><circle cx="901.2" cy="205.0" r="0.9" fill="#c98a80"/><circle cx="781.2" cy="206.5" r="1.1" fill="#d4a090"/><circle cx="739.5" cy="202.2" r="0.6" fill="#d4a090"/><circle cx="881.6" cy="205.3" r="1.1" fill="#9c5a55"/><circle cx="927.9" cy="192.2" r="1.2" fill="#9c5a55"/><circle cx="979.6" cy="208.8" r="1.5" fill="#9c5a55"/><circle cx="894.5" cy="202.4" r="1.4" fill="#d4a090"/><circle cx="909.6" cy="192.8" r="1.0" fill="#d4a090"/><circle cx="880.9" cy="200.0" r="0.7" fill="#b06a62"/><circle cx="969.3" cy="203.0" r="1.5" fill="#b06a62"/><circle cx="847.2" cy="201.8" r="0.7" fill="#9c5a55"/><circle cx="790.5" cy="194.1" r="0.7" fill="#b06a62"/><circle cx="920.1" cy="199.7" r="1.2" fill="#c98a80"/><circle cx="883.5" cy="205.6" r="1.5" fill="#d4a090"/><circle cx="903.7" cy="205.1" r="0.9" fill="#d4a090"/><circle cx="1034.8" cy="220.0" r="1.4" fill="#9c5a55"/><circle cx="980.4" cy="197.3" r="0.6" fill="#c98a80"/><circle cx="877.4" cy="188.6" r="0.8" fill="#9c5a55"/><circle cx="819.3" cy="192.1" r="1.5" fill="#b06a62"/><circle cx="964.7" cy="202.7" r="0.6" fill="#b06a62"/><circle cx="919.9" cy="204.1" r="1.0" fill="#c98a80"/><circle cx="972.6" cy="203.0" r="1.1" fill="#b06a62"/><circle cx="759.4" cy="209.5" r="0.9" fill="#9c5a55"/><circle cx="957.5" cy="197.1" r="0.6" fill="#b06a62"/><circle cx="1000.0" cy="204.6" r="1.4" fill="#d4a090"/><circle cx="795.0" cy="196.1" r="1.2" fill="#b06a62"/><circle cx="806.6" cy="184.4" r="1.4" fill="#b06a62"/><circle cx="827.0" cy="200.1" r="1.1" fill="#9c5a55"/><circle cx="797.5" cy="197.9" r="0.7" fill="#d4a090"/><circle cx="810.0" cy="198.2" r="1.3" fill="#b06a62"/><circle cx="1044.7" cy="240.2" r="0.8" fill="#d4a090"/><circle cx="726.8" cy="188.8" r="1.3" fill="#c98a80"/><circle cx="942.8" cy="190.7" r="0.8" fill="#9c5a55"/><circle cx="977.0" cy="207.4" r="1.0" fill="#d4a090"/><circle cx="748.3" cy="191.1" r="1.1" fill="#d4a090"/><circle cx="934.2" cy="204.1" r="1.1" fill="#c98a80"/><circle cx="960.9" cy="197.1" r="1.0" fill="#d4a090"/><circle cx="962.2" cy="203.4" r="1.2" fill="#c98a80"/><circle cx="859.0" cy="191.8" r="0.9" fill="#c98a80"/><circle cx="1022.1" cy="215.8" r="1.1" fill="#c98a80"/><circle cx="975.9" cy="202.7" r="0.6" fill="#c98a80"/><circle cx="952.4" cy="197.1" r="0.8" fill="#9c5a55"/><circle cx="956.6" cy="210.3" r="1.5" fill="#b06a62"/><circle cx="789.3" cy="196.5" r="1.3" fill="#9c5a55"/><circle cx="821.0" cy="207.6" r="0.6" fill="#9c5a55"/><circle cx="983.6" cy="212.0" r="1.3" fill="#d4a090"/><circle cx="949.9" cy="192.6" r="1.4" fill="#b06a62"/><circle cx="1042.7" cy="227.8" r="1.3" fill="#c98a80"/><circle cx="921.1" cy="204.2" r="0.7" fill="#d4a090"/><circle cx="798.3" cy="200.1" r="1.2" fill="#b06a62"/><circle cx="973.9" cy="205.4" r="1.0" fill="#d4a090"/><circle cx="1019.6" cy="232.3" r="0.7" fill="#c98a80"/><circle cx="816.8" cy="204.8" r="0.9" fill="#d4a090"/><circle cx="730.0" cy="194.1" r="1.2" fill="#b06a62"/><circle cx="737.9" cy="197.9" r="1.2" fill="#c98a80"/><circle cx="944.7" cy="199.1" r="0.9" fill="#b06a62"/><circle cx="838.2" cy="184.5" r="0.6" fill="#b06a62"/><circle cx="970.3" cy="201.1" r="1.1" fill="#d4a090"/><circle cx="835.6" cy="206.6" r="1.4" fill="#c98a80"/><circle cx="950.6" cy="205.9" r="0.8" fill="#b06a62"/><circle cx="827.0" cy="194.3" r="1.2" fill="#b06a62"/><circle cx="834.0" cy="201.7" r="0.9" fill="#b06a62"/><circle cx="980.7" cy="212.6" r="1.5" fill="#9c5a55"/><circle cx="1034.6" cy="236.5" r="0.7" fill="#b06a62"/><circle cx="806.8" cy="203.4" r="1.4" fill="#c98a80"/><circle cx="745.4" cy="210.8" r="1.3" fill="#9c5a55"/><circle cx="1021.6" cy="211.0" r="1.3" fill="#c98a80"/><circle cx="893.5" cy="203.7" r="1.2" fill="#d4a090"/><circle cx="887.3" cy="200.8" r="1.2" fill="#b06a62"/><circle cx="1011.9" cy="208.2" r="1.2" fill="#d4a090"/><circle cx="867.0" cy="203.7" r="1.2" fill="#b06a62"/><circle cx="956.3" cy="199.5" r="1.3" fill="#b06a62"/><circle cx="1042.1" cy="223.4" r="1.4" fill="#c98a80"/><circle cx="987.0" cy="220.0" r="1.4" fill="#c98a80"/><circle cx="893.2" cy="195.4" r="1.2" fill="#9c5a55"/><circle cx="882.1" cy="184.7" r="1.2" fill="#9c5a55"/><circle cx="989.2" cy="219.2" r="1.1" fill="#9c5a55"/><circle cx="923.0" cy="194.9" r="1.0" fill="#b06a62"/><circle cx="844.1" cy="189.0" r="0.8" fill="#d4a090"/><circle cx="961.6" cy="193.9" r="1.3" fill="#c98a80"/><circle cx="1020.8" cy="228.7" r="0.7" fill="#9c5a55"/><circle cx="805.3" cy="190.8" r="1.4" fill="#d4a090"/><circle cx="1047.9" cy="238.0" r="0.7" fill="#b06a62"/><circle cx="1031.0" cy="211.1" r="1.3" fill="#c98a80"/><circle cx="734.0" cy="193.2" r="0.8" fill="#d4a090"/><circle cx="956.9" cy="202.5" r="1.2" fill="#d4a090"/><circle cx="763.0" cy="187.2" r="1.2" fill="#c98a80"/><circle cx="948.4" cy="199.3" r="1.2" fill="#9c5a55"/><circle cx="909.8" cy="206.4" r="1.4" fill="#c98a80"/><circle cx="788.0" cy="185.6" r="1.4" fill="#9c5a55"/><circle cx="1012.2" cy="218.3" r="0.9" fill="#b06a62"/><circle cx="953.1" cy="210.7" r="0.9" fill="#b06a62"/><circle cx="790.4" cy="203.8" r="0.6" fill="#9c5a55"/><circle cx="776.4" cy="187.3" r="1.3" fill="#d4a090"/><circle cx="831.0" cy="205.0" r="1.3" fill="#c98a80"/><circle cx="845.4" cy="209.1" r="1.4" fill="#d4a090"/><circle cx="823.1" cy="193.7" r="1.1" fill="#b06a62"/><circle cx="981.5" cy="198.5" r="1.3" fill="#9c5a55"/><circle cx="1030.4" cy="228.9" r="0.6" fill="#d4a090"/><circle cx="748.6" cy="189.9" r="0.8" fill="#c98a80"/><circle cx="1035.6" cy="230.6" r="1.3" fill="#9c5a55"/><circle cx="742.8" cy="207.6" r="1.4" fill="#9c5a55"/><circle cx="825.1" cy="185.3" r="1.1" fill="#b06a62"/><circle cx="851.2" cy="187.3" r="1.5" fill="#9c5a55"/><circle cx="992.1" cy="203.8" r="0.8" fill="#c98a80"/><circle cx="741.8" cy="204.3" r="1.3" fill="#b06a62"/><circle cx="888.9" cy="209.2" r="1.4" fill="#c98a80"/><circle cx="786.4" cy="209.2" r="1.1" fill="#b06a62"/><circle cx="732.1" cy="190.9" r="1.4" fill="#d4a090"/><circle cx="989.9" cy="208.6" r="1.1" fill="#b06a62"/><circle cx="772.2" cy="195.6" r="0.6" fill="#d4a090"/><circle cx="980.2" cy="213.9" r="0.8" fill="#d4a090"/><circle cx="862.1" cy="192.4" r="0.7" fill="#b06a62"/><circle cx="1024.4" cy="214.2" r="0.8" fill="#b06a62"/><circle cx="1041.4" cy="241.1" r="0.9" fill="#d4a090"/><circle cx="749.7" cy="196.3" r="1.5" fill="#d4a090"/><circle cx="970.0" cy="211.5" r="1.2" fill="#b06a62"/><circle cx="821.1" cy="191.7" r="1.5" fill="#c98a80"/><circle cx="835.5" cy="194.6" r="0.7" fill="#9c5a55"/><circle cx="981.1" cy="214.5" r="0.9" fill="#c98a80"/><circle cx="854.5" cy="192.5" r="1.2" fill="#b06a62"/><circle cx="914.9" cy="210.3" r="1.0" fill="#9c5a55"/><circle cx="905.8" cy="210.6" r="0.7" fill="#9c5a55"/><circle cx="904.4" cy="206.8" r="0.7" fill="#b06a62"/><circle cx="966.3" cy="202.6" r="1.4" fill="#c98a80"/><circle cx="1039.6" cy="218.8" r="0.7" fill="#9c5a55"/><circle cx="943.1" cy="211.5" r="0.9" fill="#c98a80"/><circle cx="992.5" cy="208.6" r="1.3" fill="#c98a80"/><circle cx="883.6" cy="195.3" r="0.7" fill="#c98a80"/><circle cx="762.1" cy="203.6" r="0.7" fill="#b06a62"/><circle cx="1029.7" cy="236.7" r="1.2" fill="#b06a62"/><circle cx="1008.5" cy="209.1" r="0.6" fill="#c98a80"/><circle cx="905.2" cy="209.2" r="1.2" fill="#b06a62"/><circle cx="1001.2" cy="205.0" r="1.3" fill="#c98a80"/><circle cx="847.1" cy="207.2" r="1.0" fill="#b06a62"/><circle cx="893.9" cy="202.2" r="0.7" fill="#9c5a55"/><circle cx="923.9" cy="188.5" r="1.2" fill="#d4a090"/><circle cx="749.7" cy="210.5" r="0.7" fill="#d4a090"/><circle cx="889.2" cy="201.8" r="1.1" fill="#d4a090"/><circle cx="730.2" cy="195.0" r="1.4" fill="#d4a090"/><circle cx="818.8" cy="194.4" r="0.9" fill="#d4a090"/><circle cx="733.8" cy="210.6" r="0.7" fill="#b06a62"/><circle cx="1036.0" cy="225.6" r="1.3" fill="#9c5a55"/><circle cx="1014.5" cy="226.3" r="1.4" fill="#b06a62"/><circle cx="980.3" cy="208.1" r="1.1" fill="#d4a090"/><circle cx="762.8" cy="192.3" r="0.9" fill="#b06a62"/><circle cx="941.5" cy="207.1" r="1.3" fill="#c98a80"/><circle cx="879.3" cy="204.9" r="0.7" fill="#d4a090"/><circle cx="844.4" cy="187.0" r="1.2" fill="#c98a80"/><circle cx="749.5" cy="200.5" r="0.9" fill="#b06a62"/><circle cx="838.5" cy="184.7" r="1.0" fill="#d4a090"/><circle cx="792.8" cy="193.0" r="1.4" fill="#9c5a55"/><circle cx="787.7" cy="190.2" r="0.8" fill="#b06a62"/><circle cx="971.1" cy="210.9" r="1.2" fill="#c98a80"/><circle cx="923.1" cy="192.6" r="1.3" fill="#d4a090"/><circle cx="801.2" cy="201.2" r="1.0" fill="#c98a80"/><circle cx="839.9" cy="200.9" r="0.9" fill="#9c5a55"/><circle cx="932.2" cy="210.7" r="1.5" fill="#9c5a55"/><circle cx="886.9" cy="195.8" r="0.9" fill="#d4a090"/><circle cx="939.1" cy="205.5" r="0.7" fill="#9c5a55"/><circle cx="789.5" cy="203.2" r="0.7" fill="#c98a80"/><circle cx="894.8" cy="209.2" r="0.9" fill="#9c5a55"/><circle cx="1012.1" cy="207.6" r="0.9" fill="#9c5a55"/><circle cx="810.9" cy="208.1" r="0.7" fill="#c98a80"/><circle cx="866.6" cy="203.6" r="1.4" fill="#d4a090"/><circle cx="722.8" cy="210.5" r="1.1" fill="#b06a62"/><circle cx="959.9" cy="204.2" r="1.1" fill="#c98a80"/><circle cx="778.6" cy="187.6" r="0.6" fill="#9c5a55"/><circle cx="930.8" cy="213.7" r="1.3" fill="#d4a090"/><circle cx="829.7" cy="191.3" r="1.2" fill="#b06a62"/><circle cx="764.0" cy="189.9" r="1.1" fill="#d4a090"/><circle cx="871.7" cy="188.7" r="0.8" fill="#c98a80"/><circle cx="974.9" cy="219.4" r="1.2" fill="#9c5a55"/><circle cx="1026.3" cy="213.9" r="1.2" fill="#9c5a55"/><circle cx="759.6" cy="209.1" r="0.8" fill="#b06a62"/><circle cx="826.6" cy="196.9" r="1.4" fill="#9c5a55"/><circle cx="865.6" cy="189.5" r="0.7" fill="#d4a090"/><circle cx="806.8" cy="190.6" r="1.4" fill="#c98a80"/><circle cx="1033.9" cy="220.6" r="1.0" fill="#9c5a55"/><circle cx="762.7" cy="199.2" r="0.8" fill="#9c5a55"/><circle cx="728.4" cy="188.5" r="0.9" fill="#d4a090"/><circle cx="853.0" cy="193.7" r="1.4" fill="#c98a80"/><circle cx="736.4" cy="193.5" r="1.5" fill="#9c5a55"/><circle cx="1011.7" cy="227.1" r="0.6" fill="#9c5a55"/><circle cx="734.7" cy="203.9" r="1.0" fill="#d4a090"/><circle cx="968.9" cy="211.6" r="1.0" fill="#b06a62"/><circle cx="804.1" cy="204.4" r="1.2" fill="#d4a090"/><circle cx="797.3" cy="209.0" r="0.7" fill="#b06a62"/><circle cx="947.4" cy="196.3" r="0.8" fill="#9c5a55"/><circle cx="1013.2" cy="230.8" r="1.3" fill="#9c5a55"/><circle cx="945.4" cy="200.6" r="0.6" fill="#c98a80"/><circle cx="1010.0" cy="206.8" r="1.4" fill="#b06a62"/><circle cx="901.6" cy="193.5" r="1.5" fill="#c98a80"/><circle cx="740.8" cy="204.8" r="0.7" fill="#9c5a55"/><circle cx="1031.8" cy="220.0" r="0.8" fill="#b06a62"/><circle cx="788.0" cy="185.2" r="1.3" fill="#9c5a55"/><circle cx="876.7" cy="189.0" r="0.7" fill="#9c5a55"/><circle cx="1003.1" cy="215.6" r="1.5" fill="#c98a80"/><circle cx="1007.8" cy="219.0" r="1.0" fill="#c98a80"/><circle cx="988.3" cy="198.7" r="1.5" fill="#9c5a55"/><circle cx="886.5" cy="195.5" r="0.6" fill="#d4a090"/><circle cx="837.6" cy="200.5" r="1.0" fill="#d4a090"/><circle cx="798.8" cy="201.1" r="0.6" fill="#b06a62"/><circle cx="899.3" cy="193.5" r="1.3" fill="#b06a62"/><circle cx="810.5" cy="208.9" r="1.2" fill="#c98a80"/><circle cx="1000.2" cy="209.5" r="1.1" fill="#d4a090"/><circle cx="953.9" cy="196.0" r="1.2" fill="#c98a80"/><circle cx="973.7" cy="218.6" r="0.8" fill="#c98a80"/><circle cx="1001.2" cy="223.6" r="0.6" fill="#9c5a55"/><circle cx="798.0" cy="186.5" r="1.2" fill="#9c5a55"/><circle cx="757.9" cy="194.2" r="0.6" fill="#b06a62"/><circle cx="869.0" cy="210.0" r="1.3" fill="#9c5a55"/><circle cx="950.7" cy="190.4" r="0.9" fill="#9c5a55"/><circle cx="806.9" cy="205.5" r="1.4" fill="#b06a62"/><circle cx="1036.7" cy="236.7" r="1.0" fill="#d4a090"/><circle cx="892.2" cy="209.9" r="0.6" fill="#9c5a55"/><circle cx="956.8" cy="192.2" r="1.2" fill="#d4a090"/><circle cx="789.3" cy="201.5" r="1.3" fill="#d4a090"/><circle cx="926.1" cy="188.0" r="0.9" fill="#d4a090"/><circle cx="972.9" cy="200.9" r="1.0" fill="#c98a80"/><circle cx="746.7" cy="203.0" r="0.9" fill="#c98a80"/><circle cx="925.4" cy="205.6" r="1.1" fill="#b06a62"/><circle cx="856.4" cy="186.3" r="0.9" fill="#b06a62"/><circle cx="728.7" cy="203.1" r="1.4" fill="#d4a090"/><circle cx="763.8" cy="197.6" r="1.1" fill="#9c5a55"/><circle cx="974.4" cy="200.9" r="1.0" fill="#9c5a55"/><circle cx="1039.6" cy="224.4" r="1.1" fill="#b06a62"/><circle cx="737.9" cy="202.7" r="1.2" fill="#c98a80"/><circle cx="895.1" cy="191.0" r="0.9" fill="#c98a80"/><circle cx="808.1" cy="186.2" r="1.4" fill="#b06a62"/><circle cx="1023.2" cy="232.5" r="0.7" fill="#b06a62"/><circle cx="1023.0" cy="233.3" r="1.3" fill="#9c5a55"/><circle cx="1029.4" cy="237.3" r="1.2" fill="#d4a090"/><circle cx="997.4" cy="224.7" r="1.0" fill="#b06a62"/><circle cx="836.9" cy="193.0" r="1.0" fill="#9c5a55"/><circle cx="932.4" cy="211.2" r="1.2" fill="#d4a090"/><circle cx="787.9" cy="185.9" r="0.9" fill="#c98a80"/><circle cx="1032.8" cy="217.3" r="0.9" fill="#d4a090"/><circle cx="872.5" cy="191.1" r="0.8" fill="#b06a62"/><circle cx="1019.9" cy="234.3" r="1.4" fill="#9c5a55"/><circle cx="868.5" cy="208.7" r="1.4" fill="#9c5a55"/><circle cx="756.4" cy="193.3" r="1.3" fill="#9c5a55"/><circle cx="778.1" cy="192.1" r="0.7" fill="#9c5a55"/><circle cx="911.0" cy="192.4" r="1.5" fill="#c98a80"/><circle cx="880.8" cy="209.3" r="0.9" fill="#d4a090"/><circle cx="833.1" cy="208.8" r="1.3" fill="#d4a090"/><circle cx="1034.1" cy="236.9" r="0.7" fill="#b06a62"/><circle cx="866.2" cy="208.9" r="0.7" fill="#c98a80"/><circle cx="936.0" cy="208.2" r="1.1" fill="#9c5a55"/><circle cx="747.1" cy="187.4" r="1.1" fill="#d4a090"/><circle cx="745.7" cy="205.4" r="1.4" fill="#d4a090"/><circle cx="756.0" cy="193.1" r="1.5" fill="#d4a090"/><circle cx="854.6" cy="208.4" r="0.8" fill="#b06a62"/><circle cx="884.7" cy="201.5" r="0.8" fill="#d4a090"/><circle cx="930.6" cy="211.3" r="0.6" fill="#c98a80"/><circle cx="983.3" cy="198.6" r="1.4" fill="#9c5a55"/><circle cx="996.4" cy="200.2" r="1.3" fill="#b06a62"/><circle cx="753.9" cy="207.6" r="1.0" fill="#9c5a55"/><circle cx="877.0" cy="198.5" r="1.3" fill="#d4a090"/><circle cx="1002.0" cy="202.2" r="1.3" fill="#b06a62"/><circle cx="736.6" cy="188.1" r="0.8" fill="#d4a090"/><circle cx="999.1" cy="219.1" r="0.8" fill="#9c5a55"/><circle cx="917.7" cy="211.0" r="0.8" fill="#c98a80"/><circle cx="948.6" cy="199.0" r="1.0" fill="#9c5a55"/><circle cx="840.7" cy="190.6" r="0.9" fill="#d4a090"/><circle cx="974.6" cy="210.4" r="1.2" fill="#d4a090"/><circle cx="946.5" cy="201.7" r="1.4" fill="#c98a80"/><circle cx="849.9" cy="192.7" r="0.9" fill="#9c5a55"/><circle cx="851.6" cy="199.2" r="0.7" fill="#d4a090"/><circle cx="1031.3" cy="213.7" r="0.8" fill="#c98a80"/><circle cx="805.2" cy="196.0" r="1.0" fill="#c98a80"/><circle cx="966.7" cy="210.6" r="0.7" fill="#9c5a55"/><circle cx="782.9" cy="197.8" r="0.8" fill="#9c5a55"/><circle cx="803.7" cy="193.0" r="1.5" fill="#c98a80"/><circle cx="727.9" cy="194.4" r="0.9" fill="#c98a80"/><circle cx="974.8" cy="205.0" r="1.2" fill="#d4a090"/><circle cx="1029.0" cy="233.0" r="1.1" fill="#c98a80"/><circle cx="1041.6" cy="217.2" r="1.1" fill="#d4a090"/><circle cx="784.8" cy="200.8" r="1.0" fill="#b06a62"/><circle cx="748.5" cy="202.8" r="0.8" fill="#c98a80"/><circle cx="920.9" cy="210.1" r="1.3" fill="#d4a090"/><circle cx="843.9" cy="196.0" r="0.7" fill="#b06a62"/><circle cx="901.1" cy="187.2" r="1.4" fill="#9c5a55"/><circle cx="1003.4" cy="207.0" r="0.8" fill="#9c5a55"/><circle cx="954.9" cy="206.7" r="1.2" fill="#9c5a55"/><circle cx="964.8" cy="214.0" r="0.8" fill="#9c5a55"/><circle cx="922.2" cy="212.7" r="1.0" fill="#c98a80"/><circle cx="757.0" cy="208.9" r="1.5" fill="#b06a62"/><circle cx="913.2" cy="187.8" r="1.2" fill="#d4a090"/><circle cx="749.9" cy="189.3" r="1.4" fill="#b06a62"/><circle cx="922.2" cy="193.0" r="1.4" fill="#c98a80"/><circle cx="994.2" cy="211.7" r="1.0" fill="#d4a090"/><circle cx="1006.4" cy="217.2" r="1.5" fill="#b06a62"/><circle cx="1040.9" cy="215.2" r="0.8" fill="#c98a80"/><circle cx="804.1" cy="207.5" r="1.0" fill="#c98a80"/><circle cx="961.5" cy="191.8" r="1.3" fill="#c98a80"/><circle cx="848.6" cy="196.6" r="0.9" fill="#9c5a55"/><circle cx="786.7" cy="194.4" r="0.9" fill="#c98a80"/><circle cx="807.4" cy="194.0" r="1.0" fill="#c98a80"/><circle cx="876.6" cy="193.9" r="0.9" fill="#c98a80"/><circle cx="1036.8" cy="232.8" r="0.9" fill="#d4a090"/><circle cx="876.3" cy="191.2" r="1.4" fill="#c98a80"/><circle cx="901.8" cy="200.6" r="0.9" fill="#9c5a55"/><circle cx="876.4" cy="204.3" r="0.8" fill="#d4a090"/><circle cx="760.1" cy="192.6" r="0.7" fill="#b06a62"/><circle cx="1026.5" cy="210.8" r="1.0" fill="#c98a80"/><circle cx="1040.1" cy="237.0" r="1.3" fill="#9c5a55"/><circle cx="797.0" cy="185.7" r="1.0" fill="#d4a090"/><circle cx="953.4" cy="195.3" r="0.9" fill="#b06a62"/><circle cx="1023.3" cy="224.7" r="0.8" fill="#d4a090"/><circle cx="1037.2" cy="215.5" r="1.0" fill="#d4a090"/><circle cx="931.7" cy="202.6" r="1.1" fill="#d4a090"/><circle cx="879.5" cy="189.3" r="1.4" fill="#9c5a55"/><circle cx="854.5" cy="193.1" r="1.3" fill="#d4a090"/><circle cx="929.8" cy="206.9" r="1.4" fill="#c98a80"/><circle cx="855.7" cy="191.9" r="1.2" fill="#d4a090"/><circle cx="948.1" cy="190.4" r="1.3" fill="#9c5a55"/><circle cx="887.3" cy="195.4" r="1.2" fill="#c98a80"/><circle cx="974.2" cy="198.9" r="0.7" fill="#d4a090"/><circle cx="884.7" cy="185.8" r="1.3" fill="#b06a62"/><circle cx="1035.3" cy="233.6" r="0.6" fill="#c98a80"/><circle cx="783.9" cy="199.2" r="0.8" fill="#c98a80"/><circle cx="831.4" cy="185.4" r="1.2" fill="#b06a62"/><circle cx="1040.0" cy="216.7" r="1.4" fill="#b06a62"/><circle cx="786.0" cy="203.5" r="1.2" fill="#9c5a55"/><circle cx="876.4" cy="185.5" r="0.7" fill="#c98a80"/><circle cx="1016.0" cy="215.7" r="0.7" fill="#d4a090"/><circle cx="838.1" cy="207.5" r="1.1" fill="#c98a80"/><circle cx="1017.3" cy="207.6" r="1.3" fill="#b06a62"/><circle cx="841.0" cy="190.0" r="1.1" fill="#c98a80"/><circle cx="852.5" cy="191.8" r="1.2" fill="#c98a80"/><circle cx="1006.0" cy="217.6" r="0.6" fill="#d4a090"/><circle cx="796.7" cy="185.6" r="0.7" fill="#9c5a55"/><circle cx="775.4" cy="203.2" r="1.0" fill="#b06a62"/><circle cx="1011.8" cy="218.9" r="1.2" fill="#9c5a55"/><circle cx="853.9" cy="205.2" r="1.1" fill="#9c5a55"/><circle cx="1004.9" cy="225.1" r="1.2" fill="#d4a090"/><circle cx="912.3" cy="204.5" r="0.8" fill="#9c5a55"/><circle cx="963.7" cy="201.3" r="0.7" fill="#b06a62"/><circle cx="901.2" cy="210.7" r="1.5" fill="#b06a62"/><circle cx="953.9" cy="208.4" r="1.0" fill="#d4a090"/><circle cx="928.3" cy="200.3" r="0.9" fill="#c98a80"/><circle cx="732.3" cy="193.0" r="0.9" fill="#b06a62"/><circle cx="772.7" cy="207.8" r="0.8" fill="#d4a090"/><circle cx="944.9" cy="191.5" r="1.5" fill="#c98a80"/><circle cx="749.0" cy="194.9" r="1.4" fill="#d4a090"/><circle cx="1002.8" cy="209.9" r="0.7" fill="#c98a80"/><circle cx="860.6" cy="184.6" r="0.6" fill="#9c5a55"/><circle cx="1031.7" cy="218.4" r="1.4" fill="#d4a090"/><circle cx="1085.0" cy="222.8" r="1.4" fill="#9c5a55"/><circle cx="1098.4" cy="203.5" r="1.4" fill="#b06a62"/><circle cx="1110.8" cy="209.5" r="0.8" fill="#9c5a55"/><circle cx="1071.7" cy="216.7" r="1.4" fill="#c98a80"/><circle cx="1119.9" cy="193.2" r="1.0" fill="#9c5a55"/><circle cx="1072.8" cy="223.7" r="1.0" fill="#c98a80"/><circle cx="1121.4" cy="211.3" r="1.4" fill="#b06a62"/><circle cx="1104.3" cy="220.6" r="1.2" fill="#b06a62"/><circle cx="1096.9" cy="201.9" r="1.1" fill="#c98a80"/><circle cx="1089.7" cy="220.9" r="0.8" fill="#d4a090"/><circle cx="1093.9" cy="228.1" r="1.1" fill="#c98a80"/><circle cx="1107.0" cy="210.1" r="1.4" fill="#9c5a55"/><circle cx="1068.3" cy="228.3" r="0.8" fill="#9c5a55"/><circle cx="1100.8" cy="222.6" r="1.3" fill="#b06a62"/><circle cx="1097.3" cy="201.3" r="0.7" fill="#c98a80"/><circle cx="1108.1" cy="212.1" r="1.0" fill="#d4a090"/><circle cx="1113.1" cy="201.4" r="1.3" fill="#c98a80"/><circle cx="1103.7" cy="218.7" r="1.4" fill="#d4a090"/><circle cx="1057.8" cy="231.1" r="0.7" fill="#9c5a55"/><circle cx="1052.4" cy="239.8" r="1.4" fill="#d4a090"/><circle cx="1086.3" cy="216.9" r="1.3" fill="#b06a62"/><circle cx="1127.1" cy="198.1" r="1.2" fill="#c98a80"/><circle cx="1085.5" cy="213.7" r="0.9" fill="#c98a80"/><circle cx="1082.2" cy="211.9" r="1.2" fill="#9c5a55"/><circle cx="1106.1" cy="218.5" r="0.7" fill="#c98a80"/><circle cx="1090.9" cy="210.6" r="1.2" fill="#9c5a55"/><circle cx="1098.5" cy="203.6" r="0.9" fill="#d4a090"/><circle cx="1064.6" cy="236.9" r="1.1" fill="#9c5a55"/><circle cx="1088.0" cy="215.6" r="1.2" fill="#d4a090"/><circle cx="1110.1" cy="223.5" r="1.5" fill="#c98a80"/><circle cx="1104.3" cy="205.5" r="1.0" fill="#b06a62"/><circle cx="1125.3" cy="218.4" r="0.7" fill="#c98a80"/><circle cx="1112.6" cy="202.5" r="0.9" fill="#9c5a55"/><circle cx="1095.6" cy="201.2" r="1.5" fill="#9c5a55"/><circle cx="1078.3" cy="212.6" r="1.0" fill="#c98a80"/><circle cx="1104.4" cy="213.4" r="0.9" fill="#9c5a55"/><circle cx="1104.6" cy="209.1" r="1.1" fill="#9c5a55"/><circle cx="1122.5" cy="206.1" r="0.9" fill="#c98a80"/><circle cx="1070.5" cy="228.8" r="1.4" fill="#c98a80"/><circle cx="1065.5" cy="226.6" r="1.2" fill="#b06a62"/><circle cx="1078.7" cy="226.8" r="1.0" fill="#d4a090"/><circle cx="1093.0" cy="215.7" r="1.3" fill="#b06a62"/><circle cx="1057.2" cy="224.8" r="0.8" fill="#b06a62"/><circle cx="1117.0" cy="193.6" r="1.5" fill="#d4a090"/><circle cx="1095.5" cy="226.8" r="1.0" fill="#d4a090"/><circle cx="1077.8" cy="227.2" r="0.8" fill="#9c5a55"/><circle cx="1064.2" cy="225.3" r="0.9" fill="#c98a80"/><circle cx="1098.3" cy="227.9" r="1.3" fill="#d4a090"/><circle cx="1124.2" cy="190.3" r="0.9" fill="#b06a62"/><circle cx="1051.4" cy="226.5" r="0.6" fill="#9c5a55"/><circle cx="1111.8" cy="210.8" r="1.4" fill="#d4a090"/><circle cx="1072.9" cy="212.8" r="0.8" fill="#d4a090"/><circle cx="1096.6" cy="202.2" r="1.5" fill="#9c5a55"/><circle cx="1061.7" cy="227.2" r="0.8" fill="#9c5a55"/><circle cx="1091.8" cy="204.1" r="0.8" fill="#c98a80"/><circle cx="1075.5" cy="219.0" r="1.5" fill="#b06a62"/><circle cx="1093.6" cy="227.8" r="0.9" fill="#d4a090"/><circle cx="1126.9" cy="193.4" r="0.9" fill="#9c5a55"/><circle cx="1113.4" cy="208.1" r="0.7" fill="#9c5a55"/><circle cx="1055.3" cy="227.5" r="1.0" fill="#b06a62"/><circle cx="1100.5" cy="207.0" r="1.2" fill="#9c5a55"/><circle cx="1067.6" cy="224.7" r="0.9" fill="#d4a090"/><circle cx="1075.2" cy="227.3" r="0.9" fill="#c98a80"/><circle cx="1067.8" cy="216.3" r="1.3" fill="#c98a80"/><circle cx="1064.7" cy="237.7" r="1.4" fill="#b06a62"/><circle cx="1078.3" cy="213.3" r="0.6" fill="#c98a80"/><circle cx="1098.4" cy="200.7" r="0.6" fill="#d4a090"/><circle cx="1078.8" cy="232.6" r="0.8" fill="#d4a090"/><circle cx="1114.1" cy="212.0" r="1.5" fill="#c98a80"/><circle cx="1071.8" cy="216.0" r="1.3" fill="#b06a62"/><circle cx="1111.2" cy="202.5" r="1.1" fill="#9c5a55"/><circle cx="1087.5" cy="225.4" r="1.2" fill="#d4a090"/><circle cx="1092.9" cy="228.6" r="0.6" fill="#d4a090"/><circle cx="1124.6" cy="210.2" r="1.3" fill="#c98a80"/><circle cx="1067.6" cy="235.0" r="0.8" fill="#d4a090"/><circle cx="1059.4" cy="222.7" r="1.4" fill="#b06a62"/><circle cx="1104.6" cy="204.0" r="1.0" fill="#b06a62"/><circle cx="1122.5" cy="196.3" r="1.3" fill="#c98a80"/><circle cx="1127.2" cy="195.1" r="1.3" fill="#d4a090"/><circle cx="1085.6" cy="206.4" r="1.4" fill="#b06a62"/><circle cx="1071.4" cy="235.3" r="1.3" fill="#9c5a55"/><circle cx="1081.7" cy="225.9" r="1.2" fill="#d4a090"/><circle cx="1091.6" cy="207.6" r="1.2" fill="#9c5a55"/><circle cx="1056.8" cy="228.3" r="0.8" fill="#d4a090"/><circle cx="1075.7" cy="214.4" r="0.8" fill="#b06a62"/><circle cx="1116.2" cy="203.8" r="0.8" fill="#9c5a55"/><circle cx="1127.4" cy="192.3" r="0.7" fill="#c98a80"/><circle cx="1051.0" cy="240.5" r="1.2" fill="#d4a090"/><circle cx="1117.3" cy="210.5" r="1.3" fill="#c98a80"/><circle cx="1082.2" cy="218.0" r="1.1" fill="#b06a62"/><circle cx="1058.4" cy="234.6" r="0.7" fill="#c98a80"/><circle cx="1123.6" cy="200.3" r="1.0" fill="#9c5a55"/><circle cx="1112.6" cy="198.2" r="0.9" fill="#b06a62"/><circle cx="1072.6" cy="232.3" r="1.1" fill="#9c5a55"/><circle cx="1114.0" cy="220.1" r="1.2" fill="#d4a090"/><circle cx="1072.9" cy="234.5" r="1.0" fill="#c98a80"/><circle cx="1062.2" cy="214.0" r="1.1" fill="#d4a090"/><circle cx="1122.5" cy="202.7" r="0.6" fill="#c98a80"/><circle cx="1099.4" cy="218.3" r="1.3" fill="#b06a62"/><circle cx="1079.9" cy="216.7" r="1.4" fill="#b06a62"/><circle cx="1104.7" cy="206.8" r="1.0" fill="#c98a80"/><circle cx="1059.8" cy="220.4" r="1.5" fill="#9c5a55"/><circle cx="1121.1" cy="207.3" r="1.2" fill="#c98a80"/><circle cx="1122.6" cy="195.8" r="1.4" fill="#c98a80"/><circle cx="1123.1" cy="209.6" r="1.2" fill="#c98a80"/><circle cx="1082.0" cy="208.9" r="1.1" fill="#d4a090"/><circle cx="1069.6" cy="228.9" r="1.4" fill="#b06a62"/><circle cx="1052.6" cy="230.7" r="1.1" fill="#9c5a55"/><circle cx="1113.8" cy="213.1" r="0.7" fill="#d4a090"/><circle cx="1118.6" cy="197.2" r="0.9" fill="#d4a090"/></g>
<!-- dura teal -->
<path d="M719.5,213 C780,212 840,211 884,212 C960,214 1010,232 1049.5,247 L1049.5,262 C1010,247 960,232 884,228 C840,226 780,230 719.5,235 Z" fill="#c1e2d4" stroke="#7e8fb8" stroke-width="0.8"/>
<path d="M803,222 C800,214 806,208 812,208 C818,208 822,214 819,222 Z" fill="#e8b8b0" stroke="#8a8fd0" stroke-width="2.5"/>
<!-- arachnoid blue/purple line -->
<path d="M719.5,235 C780,230 840,226 884,228 C960,232 1010,247 1049.5,262" fill="none" stroke="#8d8ed0" stroke-width="3"/>
<!-- falx -->
<path d="M832,234 C850,236 866,244 872,260 C876,280 876,330 874,431 L889,433 C888,330 888,280 892,262 C898,246 912,240 936,236 Z" fill="#bfe0d6"/>
<path d="M822,236 C846,238 864,246 871,262 C875,282 875,330 873,431" fill="none" stroke="#8b7cba" stroke-width="2.5"/>
<path d="M889,433 C888,330 888,280 893,264 C899,248 915,242 945,239" fill="none" stroke="#8b7cba" stroke-width="2.5"/>
<path d="M828,239 C848,241 862,250 868,264 C871,282 871,330 869,431" fill="none" stroke="#b59fcf" stroke-width="2" opacity="0.7"/>
<path d="M893,433 C892,330 892,282 897,266 C903,252 918,246 948,243" fill="none" stroke="#b59fcf" stroke-width="2" opacity="0.7"/>
<path d="M879,268 L878,431 M885,268 L884,431" stroke="#a9d3e6" stroke-width="1.4" fill="none"/>
<!-- sinus -->
<path d="M847,221 C870,219 905,220 929,227 C910,235 895,245 883,264 C872,245 860,232 847,221 Z" fill="#7262ac" stroke="#524090" stroke-width="1"/>
<path d="M860,226 C880,224 900,226 915,230 C900,238 890,246 883,258 Z" fill="#8f80c0" opacity="0.6"/>
<!-- meningeal dips -->
<g fill="none" stroke="#8f80c0" stroke-width="6" stroke-linecap="round">
<path d="M752,240 C748,260 745,285 736,302"/>
<path d="M873,389 C855,392 840,396 830,402 C820,408 812,414 806,419"/>
<path d="M892,340 C905,345 915,350 925,357 C938,366 945,372 950,381"/>
<path d="M997,255 C994,275 992,295 988,310 C986,318 983,322 981,327"/>
<path d="M1000,280 C1006,295 1008,302 1010,306"/>
</g>
<g fill="none" stroke="#c6b0dc" stroke-width="2" stroke-linecap="round">
<path d="M752,240 C748,260 745,285 736,302"/>
<path d="M873,389 C855,392 840,396 830,402 C820,408 812,414 806,419"/>
<path d="M892,340 C905,345 915,350 925,357 C938,366 945,372 950,381"/>
<path d="M997,255 C994,275 992,295 988,310 C986,318 983,322 981,327"/>
</g>
<g fill="#8a4040" opacity="0.35">
<path d="M866,382 L872,394 L862,393 Z"/><path d="M893,336 L894,348 L902,342 Z"/><path d="M747,243 L758,245 L752,254 Z"/><path d="M988,247 L1004,250 L996,262 Z"/>
</g>
<!-- outlines -->
<path d="M719.5,178.6 L719.5,409.7 L1049.5,453 L1128,402.6 L1129,175" fill="none" stroke="#7a5048" stroke-width="1.2"/>
<path d="M1049.5,205 L1049.5,453" fill="none" stroke="#7a5048" stroke-width="1"/>
<!-- small box -->
<rect x="974" y="231" width="54" height="74" fill="none" stroke="#111" stroke-width="3" transform="rotate(3 1000 268)"/>
</g>

<!-- midblock -->
<g id="midblock">
<defs>
<linearGradient id="mbSub" x1="0" y1="0" x2="0" y2="1">
<stop offset="0" stop-color="#f2f3fb"/><stop offset="0.35" stop-color="#e4e4f4"/><stop offset="0.75" stop-color="#a89ccb"/><stop offset="1" stop-color="#b9b3dc"/>
</linearGradient>
<linearGradient id="mbVes" x1="0" y1="0" x2="0" y2="1">
<stop offset="0" stop-color="#e86868"/><stop offset="0.5" stop-color="#d84a4a"/><stop offset="1" stop-color="#b83838"/>
</linearGradient>
</defs>
<!-- front face pink -->
<path d="M757,605 C820,600 900,605 986,620 L986,789 L761,744 Z" fill="#f0a9a4"/>
<path d="M757,650 C770,690 775,720 800,750 L761,744 Z" fill="#f8d7cc" opacity="0.8"/>
<!-- right face pink -->
<path d="M986,620 C1010,605 1040,590 1066,572 L1064,737 L986,789 Z" fill="#e89c96"/>
<!-- subarachnoid space front -->
<path d="M755,550 L986,581 L986,625 C900,606 820,600 757,605 Z" fill="url(#mbSub)"/>
<path d="M986,581 L1066,536 L1066,572 C1040,590 1010,605 986,625 Z" fill="#a092c4"/>
<!-- trabeculae network -->
<g fill="none" stroke="#c3d2f1" stroke-width="3.2" stroke-linecap="round">
<path d="M762,604 Q761,595 761,586 M761,586 Q758,570 752,554 M761,586 Q763,570 769,554 M790,607 Q793,595 793,583 M793,583 Q791,570 784,558 M793,583 Q796,570 802,558 M815,609 Q812,598 812,587 M812,587 Q810,573 804,561 M812,587 Q815,573 820,561 M839,610 Q837,598 837,586 M837,586 Q834,575 826,564 M837,586 Q840,575 848,564 M865,612 Q863,603 863,593 M863,593 Q860,580 853,568 M863,593 Q866,580 873,568 M892,615 Q895,603 895,592 M895,592 Q893,581 886,571 M895,592 Q898,581 904,571 M916,617 Q912,605 912,594 M912,594 Q910,584 903,575 M912,594 Q915,584 921,575 M941,618 Q942,609 942,599 M942,599 Q939,588 932,578 M942,599 Q945,588 952,578 M965,620 Q962,611 962,601 M962,601 Q960,591 955,581 M962,601 Q964,591 970,581"/>
<path d="M995,617 L997,580 M995,598 L989,581 M995,598 L1003,579 M1012,607 L1014,570 M1012,588 L1006,571 M1012,588 L1020,569 M1030,596 L1032,560 M1030,577 L1024,561 M1030,577 L1038,559 M1048,584 L1050,550 M1048,566 L1042,551 M1048,566 L1056,549 M1060,577 L1062,543 M1060,559 L1054,544 M1060,559 L1068,542" stroke-width="2.6"/>
<path d="M757,604 C820,599 900,604 986,622" stroke-width="5"/>
<path d="M986,623 C1010,608 1040,593 1066,575" stroke-width="5"/>
</g>
<path d="M749,553 L772,554 L761,560 Z M781,557 L805,558 L793,564 Z M801,560 L823,561 L812,567 Z M823,563 L851,564 L837,570 Z M850,567 L876,568 L863,574 Z M883,570 L907,571 L895,577 Z M900,574 L924,575 L912,581 Z M929,577 L955,578 L942,584 Z M952,580 L973,581 L962,587 Z" fill="#c3d2f1"/>
<!-- dura front band -->
<path d="M755,514 L986,550 L986,581 L755,550 Z" fill="#bfdfcd" stroke="#6e7f78" stroke-width="1"/>
<!-- dura right face -->
<path d="M986,550 L1067,492 L1066,536 L986,581 Z" fill="#a8cdb6" stroke="#6e7f78" stroke-width="1"/>
<!-- dura top -->
<path d="M755,514 L852,460 L1067,492 L986,550 Z" fill="#dcebe5" stroke="#55625c" stroke-width="1.2"/>
<!-- arachnoid line under dura -->
<path d="M755,552 L986,583 L1066,538" fill="none" stroke="#b9c8ee" stroke-width="3"/>
<!-- blood vessels (pia blue sheath) -->
<path d="M846,636 C850,650 849,665 846,690 C843,712 836,735 826,757 L832,760 C850,735 858,712 862,690 C864,672 866,660 876,648 C882,640 888,634 892,628 Z" fill="#a498cc"/>
<g fill="none" stroke-linecap="round">
<path d="M846,636 C850,650 849,665 846,690 C843,712 836,735 824,757" stroke="#c3d1f2" stroke-width="4"/>
<path d="M892,628 C882,640 872,655 868,672 C865,690 872,708 888,726 C902,742 915,755 927,778" stroke="#c3d1f2" stroke-width="6"/>
<path d="M892,628 C882,640 872,655 868,672 C865,690 872,708 888,726 C902,742 915,755 927,778" stroke="#9d90c6" stroke-width="1.5" transform="translate(-2 0)"/>
<path d="M1040,598 C1045,630 1048,655 1050,672" stroke="#a497c8" stroke-width="10"/>
<path d="M1040,598 C1045,630 1048,655 1050,672" stroke="#c3d1f2" stroke-width="4"/>
<path d="M876,618 C874,632 866,650 862,672 C859,695 853,715 846,728 C840,740 834,750 830,760" stroke="#b8403f" stroke-width="6.5"/>
<path d="M876,618 C874,632 866,650 862,672 C859,695 853,715 846,728 C840,740 834,750 830,760" stroke="#e56766" stroke-width="4"/>
<path d="M861,675 C862,695 868,712 877,723 C890,738 905,748 913,761 C916,768 917,772 918,776" stroke="#b8403f" stroke-width="6"/>
<path d="M861,675 C862,695 868,712 877,723 C890,738 905,748 913,761 C916,768 917,772 918,776" stroke="#e56766" stroke-width="3.6"/>
</g>
<!-- horizontal vessel -->
<path d="M836,616 L941,572 C950,568 958,578 955,588 L846,636 Z" fill="url(#mbVes)"/>
<path d="M840,619 L940,576" stroke="#f29090" stroke-width="2.5" fill="none"/>
<ellipse cx="840" cy="626" rx="8.5" ry="11" fill="#e06464" stroke="#b84444" stroke-width="1" transform="rotate(-15 840 626)"/>
<ellipse cx="841" cy="626" rx="5" ry="7.5" fill="#b33a3c" transform="rotate(-15 841 626)"/>
<!-- neurons (faint) -->
<g fill="#d88288" opacity="0.75">
<path d="M811,648 L814,654 L822,656 L814,659 L811,668 L808,659 L800,656 L808,653 Z"/>
<path d="M929,658 L932,665 L942,668 L932,671 L929,680 L926,671 L916,668 L926,665 Z"/>
<path d="M950,705 L952,712 L958,716 L952,719 L950,728 L948,719 L942,716 L948,712 Z"/>
<path d="M1030,650 L1032,657 L1038,660 L1032,663 L1030,672 L1028,663 L1022,660 L1028,657 Z"/>
<path d="M790,720 L793,727 L800,730 L793,733 L790,741 L787,733 L780,730 L787,727 Z"/>
</g>
<g stroke="#e6999c" stroke-width="1" fill="none" opacity="0.7"><path d="M929,668 L905,700 M811,656 L790,640 M950,716 L960,740"/></g>
<!-- outlines -->
<path d="M755,514 L755,550 L757,605 L761,744 L986,789 L1064,737 L1066,572 L1067,492" fill="none" stroke="#6a4f4a" stroke-width="1.2"/>
<path d="M986,550 L986,789" stroke="#6a4f4a" stroke-width="1" fill="none"/>
<!-- small box -->
<path d="M827,699 L862,705 L862,741 L827,736 Z" fill="none" stroke="#111" stroke-width="3"/>
</g>

<!-- choroid -->
<g id="choroid">
<defs>
<radialGradient id="csfG" cx="375" cy="1262" r="240" gradientUnits="userSpaceOnUse" gradientTransform="translate(375 1262) scale(1 0.9) translate(-375 -1262)">
<stop offset="0" stop-color="#b7ceee"/><stop offset="0.6" stop-color="#bad0ee"/><stop offset="0.82" stop-color="#d6e3f5"/><stop offset="1" stop-color="#ffffff" stop-opacity="0"/>
</radialGradient>
<linearGradient id="capL" x1="0" y1="0" x2="1" y2="0">
<stop offset="0" stop-color="#f2b0ac"/><stop offset="0.5" stop-color="#e6686b"/><stop offset="1" stop-color="#f0a0a0"/>
</linearGradient>
<linearGradient id="fadeTop" x1="0" y1="0" x2="0" y2="1">
<stop offset="0" stop-color="#fefefe" stop-opacity="1"/><stop offset="0.3" stop-color="#fefefe" stop-opacity="0.9"/><stop offset="0.55" stop-color="#fefefe" stop-opacity="0.45"/><stop offset="1" stop-color="#fefefe" stop-opacity="0"/>
</linearGradient>
</defs>
<!-- CSF glow -->
<ellipse cx="375" cy="1262" rx="240" ry="216" fill="url(#csfG)"/>
<path d="M237.1,1050.6 L237.2,1057.1 L237.4,1064.7 L237.5,1073.3 L237.7,1082.6 L237.9,1092.4 L238.1,1102.5 L238.3,1112.7 L238.5,1122.8 L238.6,1132.7 L238.8,1142.0 L239.0,1150.5 L239.1,1158.5 L239.2,1166.5 L239.2,1174.5 L239.2,1182.6 L239.2,1190.5 L239.2,1190.6 L239.3,1198.5 L239.3,1198.6 L239.3,1206.2 L239.3,1206.5 L239.4,1213.9 L239.5,1214.2 L239.7,1221.4 L239.7,1221.8 L240.0,1228.6 L240.0,1229.2 L240.5,1235.7 L240.5,1236.4 L241.1,1242.5 L241.2,1243.0 L241.8,1248.7 L241.9,1249.0 L242.6,1254.3 L242.6,1254.7 L243.3,1259.6 L243.4,1260.2 L244.2,1264.8 L244.4,1265.6 L245.2,1269.9 L245.4,1270.8 L246.4,1274.9 L246.7,1276.0 L247.8,1279.9 L248.1,1281.0 L249.4,1284.8 L249.8,1286.1 L251.2,1289.7 L251.8,1291.0 L253.4,1294.6 L254.0,1295.8 L255.8,1299.4 L256.5,1300.5 L258.5,1304.1 L259.2,1305.2 L261.5,1308.7 L262.2,1309.7 L264.7,1313.2 L265.4,1314.1 L268.1,1317.6 L268.8,1318.5 L271.7,1321.8 L272.5,1322.7 L275.6,1325.9 L276.4,1326.7 L279.6,1329.8 L280.5,1330.7 L283.9,1333.6 L284.9,1334.4 L288.4,1337.2 L289.5,1338.0 L293.1,1340.6 L294.3,1341.3 L298.1,1343.8 L299.3,1344.5 L303.2,1346.7 L304.5,1347.4 L308.6,1349.4 L310.1,1350.0 L314.3,1351.8 L315.8,1352.4 L320.3,1353.9 L321.6,1354.3 L326.4,1355.7 L327.5,1356.0 L332.4,1357.1 L333.4,1357.4 L338.5,1358.4 L339.4,1358.5 L344.5,1359.4 L345.3,1359.5 L350.6,1360.2 L351.2,1360.2 L356.5,1360.8 L357.1,1360.8 L362.4,1361.3 L363.0,1361.3 L368.2,1361.6 L368.7,1361.6 L373.9,1361.9 L374.3,1361.9 L379.4,1362.0 L379.8,1362.0 L384.9,1362.0 L385.3,1362.0 L390.5,1362.0 L391.0,1362.0 L396.3,1361.8 L396.8,1361.8 L402.1,1361.5 L402.7,1361.5 L408.0,1361.1 L408.6,1361.0 L413.9,1360.5 L414.6,1360.4 L419.8,1359.7 L420.6,1359.6 L425.7,1358.8 L426.7,1358.6 L431.6,1357.6 L432.7,1357.3 L437.4,1356.2 L438.6,1355.8 L443.2,1354.5 L444.6,1354.0 L448.9,1352.4 L450.2,1351.9 L454.4,1350.1 L455.5,1349.6 L459.5,1347.6 L460.6,1347.1 L464.6,1344.9 L465.6,1344.3 L469.4,1342.0 L470.5,1341.3 L474.1,1338.8 L475.2,1338.0 L478.6,1335.4 L479.7,1334.6 L483.0,1331.8 L484.0,1330.9 L487.1,1328.0 L488.1,1327.0 L491.1,1324.0 L492.0,1322.9 L494.8,1319.7 L495.7,1318.6 L498.3,1315.3 L499.2,1314.1 L501.5,1310.6 L502.3,1309.4 L504.4,1305.9 L505.1,1304.6 L506.9,1301.2 L507.6,1299.7 L509.2,1296.2 L509.8,1294.8 L511.1,1291.2 L511.6,1289.8 L512.8,1286.1 L513.1,1284.8 L514.1,1280.9 L514.4,1279.8 L515.2,1275.7 L515.4,1274.8 L516.2,1270.4 L516.3,1269.7 L517.0,1265.0 L517.0,1264.4 L517.6,1259.4 L517.7,1259.0 L518.3,1253.6 L518.3,1253.4 L518.9,1247.6 L518.9,1247.1 L519.4,1240.7 L519.5,1240.1 L519.9,1233.2 L519.9,1232.7 L520.2,1225.3 L520.2,1225.0 L520.4,1217.2 L520.4,1216.9 L520.5,1208.9 L520.5,1208.6 L520.5,1200.3 L520.5,1200.2 L520.5,1191.7 L520.5,1191.6 L520.4,1183.1 L520.4,1183.0 L520.3,1174.5 L520.3,1174.4 L520.2,1166.0 L520.1,1157.7 L520.0,1149.7 L520.0,1149.6 L519.9,1141.4 L519.9,1141.2 L519.7,1132.5 L519.7,1132.4 L519.5,1123.3 L519.4,1123.2 L519.2,1114.0 L519.2,1114.0 L518.9,1104.7 L518.9,1104.7 L518.5,1095.6 L518.5,1095.6 L518.2,1086.9 L518.2,1086.9 L517.9,1078.6 L517.6,1071.1 L517.4,1064.3 L517.1,1058.7 L517.0,1054.1 L516.8,1051.6 L516.3,1049.1 L515.6,1046.6 L514.7,1044.2 L513.5,1042.0 L512.1,1039.8 L510.5,1037.8 L508.7,1036.0 L506.8,1034.3 L504.7,1032.9 L502.5,1031.7 L500.1,1030.7 L497.7,1029.9 L495.2,1029.3 L492.7,1029.1 L490.1,1029.0 L487.6,1029.2 L485.1,1029.7 L482.6,1030.4 L480.2,1031.3 L478.0,1032.5 L475.8,1033.9 L473.8,1035.5 L472.0,1037.3 L470.3,1039.2 L468.9,1041.3 L467.7,1043.5 L466.7,1045.9 L465.9,1048.3 L465.3,1050.8 L465.1,1053.3 L465.0,1055.9 L465.2,1060.5 L465.2,1060.6 L465.4,1066.3 L465.4,1066.3 L465.7,1073.1 L465.9,1080.6 L466.3,1088.8 L466.6,1097.5 L466.9,1106.5 L467.2,1115.6 L467.5,1124.8 L467.7,1133.7 L467.9,1142.2 L468.0,1150.3 L468.1,1158.4 L468.1,1158.4 L468.2,1166.7 L468.3,1175.1 L468.4,1183.5 L468.5,1192.0 L468.5,1200.2 L468.5,1208.3 L468.4,1216.1 L468.2,1223.5 L467.9,1230.5 L467.6,1236.8 L467.1,1242.7 L466.6,1248.2 L466.0,1253.3 L465.5,1257.9 L464.9,1261.9 L464.3,1265.4 L463.6,1268.5 L462.9,1271.2 L462.2,1273.6 L461.4,1275.7 L460.5,1277.8 L459.4,1279.8 L458.1,1282.0 L456.6,1284.1 L455.0,1286.2 L453.2,1288.3 L451.2,1290.4 L449.0,1292.4 L446.7,1294.4 L444.3,1296.2 L441.7,1298.0 L439.0,1299.6 L436.2,1301.2 L433.3,1302.6 L430.4,1303.8 L427.5,1304.9 L424.3,1305.8 L420.7,1306.7 L416.8,1307.5 L412.6,1308.2 L408.2,1308.8 L403.7,1309.3 L399.1,1309.6 L394.4,1309.8 L389.7,1310.0 L385.0,1310.0 L380.4,1310.0 L375.8,1309.9 L371.1,1309.7 L366.3,1309.4 L361.6,1309.0 L357.0,1308.6 L352.5,1308.0 L348.1,1307.3 L344.0,1306.4 L340.1,1305.5 L336.6,1304.5 L333.5,1303.4 L330.7,1302.3 L328.0,1301.0 L325.3,1299.5 L322.7,1297.8 L320.1,1296.0 L317.6,1294.0 L315.2,1291.9 L312.8,1289.6 L310.6,1287.3 L308.6,1284.9 L306.6,1282.4 L304.8,1279.9 L303.1,1277.4 L301.7,1274.9 L300.5,1272.5 L299.4,1270.2 L298.5,1267.8 L297.7,1265.3 L296.9,1262.4 L296.1,1259.3 L295.4,1255.8 L294.8,1251.8 L294.1,1247.4 L293.5,1242.5 L292.9,1237.2 L292.3,1231.8 L291.9,1225.9 L291.6,1219.6 L291.4,1212.8 L291.3,1205.7 L291.2,1198.2 L291.2,1190.5 L291.2,1182.5 L291.2,1174.5 L291.2,1174.4 L291.2,1166.2 L291.2,1166.1 L291.1,1157.9 L291.1,1157.7 L291.0,1149.6 L291.0,1149.5 L290.8,1140.9 L290.6,1131.6 L290.4,1121.8 L290.3,1111.7 L290.1,1101.5 L289.9,1091.4 L289.7,1081.6 L289.5,1072.3 L289.4,1063.7 L289.2,1056.1 L289.1,1049.6 L289.0,1044.5 L288.8,1042.0 L288.4,1039.4 L287.7,1037.0 L286.8,1034.6 L285.7,1032.3 L284.3,1030.1 L282.8,1028.1 L281.0,1026.3 L279.1,1024.6 L277.0,1023.1 L274.8,1021.8 L272.5,1020.8 L270.1,1020.0 L267.6,1019.4 L265.1,1019.1 L262.5,1019.0 L260.0,1019.2 L257.4,1019.6 L255.0,1020.3 L252.6,1021.2 L250.3,1022.3 L248.1,1023.7 L246.1,1025.2 L244.3,1027.0 L242.6,1028.9 L241.1,1031.0 L239.8,1033.2 L238.8,1035.5 L238.0,1037.9 L237.4,1040.4 L237.1,1042.9 L237.0,1045.5 L237.1,1050.6 Z" fill="#f8dcd6"/>
<g fill="none" stroke="#dfa59e" stroke-width="1.1" opacity="0.85"><path d="M237.0,1046.6 L233.7,1044.3 L230.5,1044.0 L227.2,1044.6 L224.0,1046.0"/><path d="M237.1,1049.7 L233.8,1049.8 L230.6,1048.0 L227.3,1049.9 L224.1,1049.9"/><path d="M237.1,1052.2 L233.8,1049.1 L230.6,1050.1 L227.4,1052.1 L224.1,1052.4"/><path d="M237.2,1054.9 L233.9,1055.1 L230.6,1052.0 L227.4,1052.5 L224.2,1054.4"/><path d="M237.2,1057.1 L233.9,1054.4 L230.7,1054.8 L227.5,1057.3 L224.2,1056.7"/><path d="M237.3,1059.3 L234.0,1059.6 L230.7,1056.4 L227.5,1057.7 L224.3,1059.1"/><path d="M237.3,1061.6 L234.1,1061.5 L230.8,1059.9 L227.6,1061.5 L224.3,1062.3"/><path d="M237.4,1064.7 L234.1,1064.6 L230.8,1062.7 L227.6,1063.8 L224.4,1065.5"/><path d="M237.4,1066.2 L234.1,1064.7 L230.9,1065.9 L227.7,1067.6 L224.4,1067.8"/><path d="M237.5,1071.0 L234.2,1068.0 L230.9,1068.0 L227.7,1068.5 L224.5,1071.0"/><path d="M237.5,1073.9 L234.3,1072.8 L231.0,1071.6 L227.8,1073.2 L224.5,1073.2"/><path d="M237.6,1077.0 L234.3,1076.3 L231.0,1074.6 L227.8,1074.4 L224.6,1077.2"/><path d="M237.7,1080.1 L234.4,1077.9 L231.1,1077.3 L227.9,1080.4 L224.6,1079.2"/><path d="M237.7,1082.8 L234.5,1083.3 L231.2,1080.5 L228.0,1083.3 L224.7,1083.5"/><path d="M237.8,1086.2 L234.5,1083.1 L231.2,1083.4 L228.0,1084.2 L224.7,1084.9"/><path d="M237.8,1088.8 L234.5,1085.9 L231.3,1086.9 L228.0,1086.6 L224.8,1087.8"/><path d="M237.8,1090.7 L234.6,1091.2 L231.3,1088.4 L228.1,1088.4 L224.8,1090.9"/><path d="M237.9,1093.6 L234.6,1093.0 L231.4,1091.9 L228.1,1093.0 L224.9,1094.8"/><path d="M237.9,1096.1 L234.7,1096.4 L231.4,1093.8 L228.2,1093.9 L224.9,1095.5"/><path d="M238.0,1099.1 L234.7,1096.3 L231.5,1097.1 L228.2,1097.7 L225.0,1099.5"/><path d="M238.1,1101.6 L234.8,1101.6 L231.5,1099.7 L228.3,1100.3 L225.1,1102.5"/><path d="M238.1,1105.4 L234.8,1103.1 L231.6,1102.5 L228.3,1102.4 L225.1,1104.2"/><path d="M238.2,1107.1 L234.9,1107.5 L231.6,1106.1 L228.4,1105.1 L225.2,1108.0"/><path d="M238.2,1110.8 L235.0,1110.2 L231.7,1108.0 L228.5,1110.3 L225.2,1110.8"/><path d="M238.3,1114.2 L235.0,1112.0 L231.7,1111.5 L228.5,1114.2 L225.3,1114.0"/><path d="M238.4,1117.6 L235.1,1115.2 L231.8,1114.5 L228.6,1115.3 L225.4,1117.8"/><path d="M238.4,1118.5 L235.1,1118.3 L231.8,1116.8 L228.6,1119.7 L225.4,1118.6"/><path d="M238.5,1122.7 L235.2,1120.8 L231.9,1119.9 L228.7,1121.3 L225.5,1123.0"/><path d="M238.5,1125.5 L235.3,1125.2 L231.9,1122.4 L228.7,1124.8 L225.5,1125.0"/><path d="M238.6,1128.6 L235.3,1125.8 L232.0,1126.2 L228.8,1127.1 L225.6,1128.7"/><path d="M238.6,1129.6 L235.4,1130.8 L232.1,1128.8 L228.8,1128.3 L225.6,1131.2"/><path d="M238.6,1132.4 L235.4,1133.5 L232.1,1130.8 L228.9,1132.1 L225.7,1133.9"/><path d="M238.7,1136.0 L235.4,1135.0 L232.2,1134.3 L228.9,1133.7 L225.7,1136.4"/><path d="M238.8,1138.2 L235.5,1138.3 L232.2,1137.0 L229.0,1139.0 L225.8,1139.0"/><path d="M238.8,1139.7 L235.6,1141.3 L232.3,1138.9 L229.0,1139.4 L225.8,1141.5"/><path d="M238.9,1143.8 L235.6,1144.3 L232.3,1141.7 L229.1,1144.8 L225.9,1143.8"/><path d="M239.0,1147.8 L235.6,1145.3 L232.4,1145.1 L229.2,1147.0 L226.0,1148.2"/><path d="M239.0,1149.8 L235.7,1147.4 L232.4,1147.2 L229.2,1148.2 L226.0,1149.4"/><path d="M239.0,1152.1 L235.8,1151.9 L232.5,1150.0 L229.3,1150.7 L226.0,1151.8"/><path d="M239.1,1154.9 L235.8,1155.5 L232.5,1152.3 L229.3,1153.6 L226.1,1154.2"/><path d="M239.1,1156.8 L235.9,1157.8 L232.6,1154.9 L229.4,1157.9 L226.1,1157.0"/><path d="M239.1,1160.0 L235.9,1160.6 L232.6,1158.7 L229.4,1160.5 L226.1,1160.5"/><path d="M239.2,1163.1 L235.9,1162.7 L232.6,1160.8 L229.4,1163.1 L226.2,1161.9"/><path d="M239.2,1165.1 L235.9,1164.9 L232.7,1163.1 L229.4,1165.2 L226.2,1165.3"/><path d="M239.2,1168.5 L235.9,1167.6 L232.7,1165.5 L229.4,1168.1 L226.2,1168.3"/><path d="M239.2,1170.0 L236.0,1170.4 L232.7,1169.2 L229.5,1169.6 L226.2,1171.3"/><path d="M239.2,1174.2 L236.0,1171.4 L232.7,1171.5 L229.5,1171.7 L226.2,1173.4"/><path d="M239.2,1175.8 L236.0,1176.9 L232.7,1174.3 L229.5,1175.2 L226.2,1177.0"/><path d="M239.2,1179.3 L236.0,1178.7 L232.7,1177.6 L229.5,1177.8 L226.2,1179.7"/><path d="M239.2,1182.5 L236.0,1182.9 L232.7,1181.1 L229.5,1182.9 L226.2,1182.8"/><path d="M239.2,1185.3 L236.0,1185.1 L232.7,1182.3 L229.5,1182.2 L226.2,1184.1"/><path d="M239.2,1187.0 L236.0,1184.9 L232.7,1185.1 L229.5,1187.4 L226.2,1186.2"/><path d="M239.2,1188.7 L236.0,1186.9 L232.7,1187.4 L229.5,1186.8 L226.2,1189.0"/><path d="M239.2,1192.0 L236.0,1190.6 L232.7,1190.0 L229.5,1192.5 L226.2,1192.4"/><path d="M239.2,1195.4 L236.0,1194.9 L232.7,1192.5 L229.5,1195.4 L226.2,1195.4"/><path d="M239.2,1197.1 L236.0,1195.4 L232.7,1194.5 L229.5,1196.7 L226.2,1197.3"/><path d="M239.3,1200.2 L236.0,1200.2 L232.7,1197.1 L229.5,1197.3 L226.3,1199.8"/><path d="M239.3,1203.5 L236.0,1203.1 L232.8,1200.6 L229.5,1203.6 L226.3,1202.7"/><path d="M239.3,1206.4 L236.1,1204.8 L232.8,1203.5 L229.5,1203.6 L226.3,1206.6"/><path d="M239.4,1209.4 L236.1,1206.9 L232.8,1207.6 L229.6,1206.7 L226.4,1208.3"/><path d="M239.4,1211.5 L236.2,1212.0 L232.9,1209.2 L229.6,1210.7 L226.4,1210.8"/><path d="M239.5,1214.0 L236.2,1214.4 L232.9,1211.9 L229.7,1214.6 L226.4,1213.8"/><path d="M239.5,1215.9 L236.3,1216.5 L233.0,1214.2 L229.7,1215.2 L226.5,1217.3"/><path d="M239.6,1219.4 L236.3,1219.0 L233.1,1217.8 L229.9,1220.4 L226.6,1219.8"/><path d="M239.7,1221.9 L236.4,1220.5 L233.1,1220.2 L230.0,1222.9 L226.7,1221.6"/><path d="M239.8,1224.9 L236.5,1223.4 L233.2,1222.5 L230.0,1224.0 L226.8,1225.5"/><path d="M239.9,1227.3 L236.6,1225.7 L233.4,1225.7 L230.1,1224.9 L226.9,1227.0"/><path d="M240.1,1229.7 L236.8,1228.9 L233.5,1228.0 L230.3,1229.8 L227.1,1230.1"/><path d="M240.2,1231.2 L237.0,1232.3 L233.6,1229.7 L230.4,1231.0 L227.3,1232.9"/><path d="M240.4,1234.3 L237.0,1231.9 L233.7,1232.4 L230.5,1232.2 L227.4,1235.5"/><path d="M240.5,1235.8 L237.1,1234.2 L233.9,1234.9 L230.7,1235.5 L227.6,1237.4"/><path d="M240.8,1239.4 L237.6,1239.7 L234.2,1238.3 L231.0,1239.5 L227.8,1240.0"/><path d="M241.1,1242.8 L237.7,1241.2 L234.5,1241.1 L231.2,1241.1 L228.1,1242.5"/><path d="M241.4,1245.1 L238.2,1245.3 L234.6,1243.1 L231.7,1245.6 L228.5,1246.5"/><path d="M241.7,1247.1 L238.3,1246.4 L235.1,1246.6 L231.7,1245.8 L228.7,1248.5"/><path d="M242.1,1250.7 L238.7,1249.5 L235.2,1248.4 L232.0,1248.9 L229.2,1252.4"/><path d="M242.5,1253.8 L239.1,1253.2 L235.7,1251.8 L232.8,1255.1 L229.4,1254.2"/><path d="M242.7,1255.2 L239.3,1254.7 L236.1,1254.8 L233.0,1256.3 L229.8,1256.9"/><path d="M243.3,1259.1 L240.1,1259.6 L236.4,1257.0 L233.6,1260.5 L230.2,1259.8"/><path d="M243.4,1260.2 L240.0,1259.6 L236.8,1260.1 L233.5,1259.9 L230.7,1262.8"/><path d="M244.0,1263.7 L240.4,1261.7 L237.3,1262.7 L234.1,1263.6 L231.1,1265.1"/><path d="M244.4,1265.7 L241.1,1265.6 L237.7,1265.4 L234.5,1265.9 L231.6,1268.0"/><path d="M244.9,1268.2 L241.7,1268.9 L237.9,1266.6 L234.9,1268.2 L232.1,1270.4"/><path d="M245.4,1270.8 L241.9,1269.8 L238.5,1269.7 L235.8,1272.3 L232.7,1273.4"/><path d="M246.0,1273.4 L242.8,1274.0 L239.1,1272.5 L236.0,1273.4 L233.3,1276.1"/><path d="M246.7,1276.2 L243.6,1277.1 L239.8,1275.2 L237.0,1277.4 L234.2,1279.8"/><path d="M247.5,1278.8 L244.4,1279.9 L240.7,1278.7 L237.6,1279.8 L235.0,1282.5"/><path d="M248.1,1281.1 L244.3,1279.8 L241.1,1280.4 L238.0,1281.4 L235.8,1285.1"/><path d="M249.0,1283.8 L246.0,1285.0 L242.2,1283.8 L238.9,1284.2 L236.7,1287.8"/><path d="M249.9,1286.4 L246.1,1285.3 L243.3,1287.0 L240.2,1288.1 L237.7,1290.8"/><path d="M250.3,1287.3 L247.8,1290.0 L243.7,1288.2 L241.1,1290.6 L238.7,1293.3"/><path d="M251.6,1290.7 L247.8,1290.0 L244.7,1290.9 L242.5,1294.1 L239.1,1294.4"/><path d="M252.7,1293.1 L248.6,1291.8 L245.5,1292.8 L243.6,1296.7 L240.8,1298.2"/><path d="M253.1,1294.0 L250.0,1294.9 L246.4,1294.9 L243.6,1296.7 L241.4,1299.7"/><path d="M254.9,1297.7 L251.5,1298.1 L248.4,1299.2 L246.1,1301.9 L243.5,1303.8"/><path d="M255.9,1299.5 L252.5,1300.0 L249.4,1301.2 L247.4,1304.3 L244.1,1305.1"/><path d="M256.9,1301.4 L254.5,1303.6 L250.6,1303.3 L248.8,1306.8 L245.8,1308.0"/><path d="M258.4,1303.9 L255.7,1305.8 L251.8,1305.5 L248.5,1306.3 L247.3,1310.7"/><path d="M259.5,1305.6 L255.7,1305.7 L252.8,1307.2 L251.1,1310.6 L249.0,1313.3"/><path d="M261.0,1308.0 L258.0,1309.3 L254.1,1309.3 L251.4,1311.1 L250.1,1315.1"/><path d="M262.6,1310.3 L259.4,1311.3 L255.6,1311.6 L254.4,1315.6 L252.0,1317.9"/><path d="M264.0,1312.2 L259.5,1311.6 L257.7,1314.6 L255.0,1316.4 L253.4,1319.7"/><path d="M264.9,1313.5 L262.0,1315.1 L259.2,1316.7 L255.9,1317.7 L255.0,1322.0"/><path d="M267.0,1316.2 L262.5,1315.7 L260.3,1318.2 L259.3,1322.2 L256.6,1324.1"/><path d="M268.9,1318.6 L264.7,1318.5 L262.4,1320.8 L261.2,1324.5 L258.3,1326.1"/><path d="M270.3,1320.1 L266.8,1321.1 L264.9,1323.8 L261.9,1325.3 L260.5,1328.7"/><path d="M272.6,1322.8 L269.2,1323.9 L266.3,1325.5 L264.1,1328.0 L262.6,1331.1"/><path d="M274.7,1325.0 L270.7,1325.4 L268.8,1328.2 L266.0,1330.0 L264.6,1333.2"/><path d="M275.8,1326.1 L273.4,1328.3 L269.8,1329.3 L269.1,1333.2 L266.4,1335.1"/><path d="M277.9,1328.1 L273.7,1328.6 L271.2,1330.8 L270.2,1334.3 L268.7,1337.4"/><path d="M280.0,1330.2 L277.3,1332.1 L273.3,1332.8 L272.9,1336.9 L270.9,1339.5"/><path d="M281.2,1331.2 L279.4,1334.0 L276.3,1335.6 L273.1,1337.1 L272.5,1340.9"/><path d="M284.2,1333.8 L280.8,1335.2 L278.1,1337.2 L275.7,1339.4 L275.7,1343.7"/><path d="M285.9,1335.2 L283.1,1337.1 L280.7,1339.4 L277.9,1341.3 L277.3,1345.0"/><path d="M288.2,1337.0 L286.8,1340.0 L282.8,1341.0 L280.3,1343.2 L280.3,1347.4"/><path d="M291.1,1339.1 L288.1,1341.0 L285.3,1343.0 L285.4,1347.0 L283.2,1349.5"/><path d="M292.8,1340.4 L289.8,1342.2 L286.8,1344.1 L286.4,1347.8 L284.8,1350.6"/><path d="M293.9,1341.1 L291.2,1343.2 L288.7,1345.5 L288.4,1349.1 L287.3,1352.3"/><path d="M296.9,1343.0 L295.1,1345.7 L291.9,1347.6 L289.6,1349.9 L289.9,1354.0"/><path d="M299.5,1344.6 L297.4,1347.1 L294.5,1349.2 L292.3,1351.7 L292.9,1355.8"/><path d="M300.6,1345.2 L300.2,1348.7 L297.2,1350.8 L296.7,1354.2 L295.4,1357.2"/><path d="M304.3,1347.3 L301.6,1349.5 L299.2,1351.9 L297.9,1354.9 L297.3,1358.3"/><path d="M305.6,1347.9 L304.1,1350.8 L301.3,1353.0 L300.8,1356.4 L300.9,1360.1"/><path d="M308.6,1349.3 L305.8,1351.7 L304.6,1354.7 L305.5,1358.7 L304.1,1361.6"/><path d="M310.5,1350.2 L309.4,1353.3 L307.6,1356.1 L305.5,1358.7 L306.8,1362.7"/><path d="M314.0,1351.6 L311.9,1354.3 L309.1,1356.7 L307.7,1359.6 L309.1,1363.7"/><path d="M315.5,1352.2 L315.1,1355.6 L311.9,1357.8 L310.8,1360.9 L312.1,1364.8"/><path d="M319.7,1353.7 L317.1,1356.2 L315.4,1359.1 L316.9,1363.0 L314.8,1365.7"/><path d="M322.3,1354.5 L321.4,1357.6 L318.4,1360.1 L316.5,1362.9 L318.2,1366.9"/><path d="M324.5,1355.1 L323.1,1358.1 L320.4,1360.7 L321.5,1364.4 L321.5,1367.8"/><path d="M327.9,1356.1 L324.8,1358.6 L324.7,1362.0 L324.7,1365.3 L323.8,1368.4"/><path d="M329.7,1356.5 L326.8,1359.1 L326.7,1362.5 L326.8,1365.8 L326.9,1369.2"/><path d="M331.4,1356.9 L330.2,1360.0 L328.2,1362.8 L330.1,1366.6 L329.6,1369.8"/><path d="M333.6,1357.4 L334.0,1360.8 L331.3,1363.6 L332.9,1367.2 L332.3,1370.4"/><path d="M337.1,1358.1 L334.8,1361.0 L333.2,1363.9 L335.2,1367.7 L334.1,1370.7"/><path d="M338.0,1358.3 L338.7,1361.7 L336.1,1364.5 L337.3,1368.1 L336.0,1371.1"/><path d="M341.1,1358.8 L339.3,1361.8 L337.6,1364.8 L339.5,1368.4 L339.0,1371.6"/><path d="M343.5,1359.2 L342.1,1362.3 L341.3,1365.4 L342.4,1368.9 L341.5,1372.0"/><path d="M346.5,1359.6 L346.8,1362.9 L343.3,1365.8 L342.8,1369.0 L344.3,1372.4"/><path d="M349.2,1360.0 L347.3,1363.0 L346.3,1366.2 L345.9,1369.4 L348.2,1373.0"/><path d="M351.9,1360.3 L349.4,1363.3 L349.8,1366.6 L348.5,1369.7 L349.9,1373.2"/><path d="M355.6,1360.7 L355.3,1363.9 L351.8,1366.8 L352.2,1370.1 L353.7,1373.6"/><path d="M358.2,1360.9 L357.8,1364.2 L354.9,1367.2 L354.9,1370.4 L356.6,1373.8"/><path d="M361.2,1361.2 L360.7,1364.4 L357.5,1367.4 L357.7,1370.7 L359.7,1374.1"/><path d="M363.5,1361.3 L362.2,1364.5 L360.8,1367.7 L361.8,1371.0 L362.5,1374.3"/><path d="M364.7,1361.4 L363.6,1364.6 L363.2,1367.8 L362.1,1371.0 L364.9,1374.4"/><path d="M366.9,1361.5 L366.2,1364.8 L364.9,1367.9 L366.0,1371.3 L367.0,1374.6"/><path d="M370.7,1361.7 L368.0,1364.9 L368.8,1368.2 L370.0,1371.5 L369.7,1374.7"/><path d="M372.6,1361.8 L373.5,1365.1 L370.8,1368.2 L371.9,1371.5 L373.2,1374.8"/><path d="M376.9,1361.9 L375.7,1365.2 L373.9,1368.4 L373.8,1371.6 L375.8,1374.9"/><path d="M379.2,1362.0 L377.0,1365.2 L377.3,1368.4 L377.3,1371.7 L378.9,1375.0"/><path d="M383.2,1362.0 L383.2,1365.3 L381.3,1368.5 L380.3,1371.8 L382.4,1375.0"/><path d="M385.3,1362.0 L385.6,1365.3 L383.5,1368.5 L385.6,1371.8 L386.1,1375.0"/><path d="M388.9,1362.0 L386.1,1365.3 L386.2,1368.5 L386.3,1371.8 L388.9,1375.0"/><path d="M391.5,1362.0 L390.6,1365.2 L389.5,1368.5 L392.3,1371.7 L392.1,1374.9"/><path d="M394.9,1361.9 L392.4,1365.2 L392.2,1368.4 L394.4,1371.6 L394.7,1374.9"/><path d="M397.1,1361.8 L395.8,1365.1 L395.5,1368.3 L394.7,1371.6 L396.7,1374.8"/><path d="M399.8,1361.6 L400.3,1364.9 L398.6,1368.2 L400.7,1371.4 L400.4,1374.6"/><path d="M402.8,1361.5 L402.5,1364.7 L401.4,1368.1 L402.6,1371.3 L403.8,1374.4"/><path d="M405.8,1361.2 L404.2,1364.6 L404.4,1367.9 L406.1,1371.0 L405.3,1374.3"/><path d="M408.2,1361.1 L406.0,1364.5 L406.8,1367.7 L407.5,1370.9 L409.2,1374.0"/><path d="M410.2,1360.9 L407.6,1364.4 L409.0,1367.5 L409.7,1370.7 L410.4,1373.9"/><path d="M412.1,1360.7 L413.3,1363.8 L411.8,1367.2 L414.5,1370.2 L414.4,1373.5"/><path d="M415.8,1360.3 L414.1,1363.7 L415.1,1366.9 L414.2,1370.3 L417.1,1373.2"/><path d="M417.9,1360.0 L415.8,1363.5 L416.4,1366.7 L419.5,1369.6 L419.7,1372.8"/><path d="M420.4,1359.6 L419.3,1363.1 L418.9,1366.4 L421.9,1369.3 L422.9,1372.4"/><path d="M422.8,1359.2 L424.5,1362.3 L422.9,1365.8 L424.9,1368.8 L425.5,1372.0"/><path d="M426.4,1358.7 L426.9,1361.9 L425.2,1365.4 L424.9,1368.8 L427.8,1371.6"/><path d="M427.4,1358.4 L427.1,1361.8 L426.8,1365.2 L429.7,1367.9 L430.0,1371.2"/><path d="M430.6,1357.8 L431.2,1361.0 L429.8,1364.6 L432.1,1367.4 L433.4,1370.5"/><path d="M432.5,1357.4 L432.8,1360.6 L432.6,1364.0 L432.9,1367.3 L435.9,1369.9"/><path d="M436.1,1356.5 L434.7,1360.2 L435.7,1363.3 L435.8,1366.6 L438.9,1369.2"/><path d="M438.0,1356.0 L438.6,1359.2 L437.6,1362.8 L441.0,1365.3 L442.0,1368.4"/><path d="M440.3,1355.3 L442.0,1358.2 L440.3,1362.1 L441.9,1365.0 L444.0,1367.8"/><path d="M443.1,1354.5 L444.5,1357.5 L442.4,1361.5 L445.6,1363.9 L447.0,1366.9"/><path d="M445.9,1353.5 L447.0,1356.6 L445.6,1360.5 L448.8,1362.8 L449.9,1365.9"/><path d="M449.1,1352.4 L447.5,1356.4 L448.7,1359.4 L449.6,1362.5 L453.6,1364.5"/><path d="M450.9,1351.6 L452.8,1354.3 L452.5,1358.0 L455.7,1360.2 L456.6,1363.3"/><path d="M453.3,1350.6 L454.2,1353.8 L454.9,1357.0 L454.9,1360.5 L458.6,1362.5"/><path d="M455.1,1349.8 L457.2,1352.4 L456.5,1356.3 L457.1,1359.6 L461.2,1361.3"/><path d="M458.2,1348.3 L458.6,1351.7 L459.8,1354.8 L462.8,1356.9 L463.2,1360.3"/><path d="M460.2,1347.3 L460.1,1351.0 L460.9,1354.2 L462.5,1357.1 L465.6,1359.1"/><path d="M462.0,1346.3 L462.0,1350.0 L463.9,1352.7 L467.6,1354.3 L469.4,1357.1"/><path d="M465.0,1344.7 L464.8,1348.5 L466.7,1351.2 L468.1,1354.1 L472.2,1355.5"/><path d="M467.4,1343.2 L468.6,1346.3 L469.4,1349.6 L471.2,1352.3 L473.8,1354.5"/><path d="M469.8,1341.7 L472.0,1344.2 L471.4,1348.4 L475.7,1349.5 L477.5,1352.2"/><path d="M471.9,1340.3 L473.9,1342.9 L473.4,1347.1 L475.5,1349.6 L478.8,1351.3"/><path d="M474.9,1338.3 L475.3,1342.0 L476.5,1345.1 L478.9,1347.4 L481.8,1349.3"/><path d="M476.8,1336.8 L478.7,1339.4 L478.3,1343.8 L480.2,1346.5 L484.3,1347.4"/><path d="M478.5,1335.5 L480.8,1337.9 L481.8,1341.2 L483.0,1344.4 L487.0,1345.4"/><path d="M481.0,1333.4 L481.1,1337.7 L483.2,1340.2 L487.0,1341.2 L489.2,1343.6"/><path d="M482.5,1332.2 L482.9,1336.1 L485.2,1338.4 L487.8,1340.5 L491.6,1341.6"/><path d="M485.0,1330.0 L486.8,1332.7 L487.9,1336.1 L489.6,1339.0 L493.2,1340.1"/><path d="M487.2,1327.9 L488.5,1331.2 L490.4,1333.8 L492.1,1336.7 L496.1,1337.4"/><path d="M487.6,1327.5 L491.0,1328.7 L491.0,1333.3 L493.3,1335.6 L497.0,1336.5"/><path d="M490.5,1324.6 L493.0,1326.7 L493.1,1331.2 L495.6,1333.3 L499.3,1334.1"/><path d="M491.9,1323.1 L493.9,1325.6 L495.2,1329.1 L497.5,1331.4 L501.6,1331.7"/><path d="M493.2,1321.6 L494.6,1324.9 L497.1,1326.9 L500.7,1327.7 L503.1,1330.0"/><path d="M494.9,1319.6 L498.1,1320.8 L499.5,1324.3 L502.5,1325.7 L505.3,1327.4"/><path d="M497.3,1316.5 L498.3,1320.6 L500.9,1322.5 L503.8,1324.0 L507.4,1324.8"/><path d="M498.9,1314.4 L501.5,1316.4 L502.7,1320.2 L506.8,1320.1 L509.0,1322.6"/><path d="M499.3,1313.8 L502.9,1314.4 L503.8,1318.7 L507.6,1319.0 L510.5,1320.6"/><path d="M501.9,1310.0 L503.9,1312.8 L505.8,1316.0 L509.1,1316.7 L512.5,1317.6"/><path d="M503.1,1308.0 L504.6,1311.9 L507.3,1313.7 L510.4,1314.8 L513.8,1315.4"/><path d="M504.5,1305.6 L506.5,1308.6 L509.0,1310.9 L512.8,1310.8 L515.7,1312.3"/><path d="M505.6,1303.6 L508.7,1304.8 L510.4,1308.4 L513.9,1308.9 L517.5,1308.9"/><path d="M507.4,1300.1 L509.2,1303.8 L512.1,1305.3 L514.9,1306.9 L519.0,1306.1"/><path d="M508.5,1297.8 L511.0,1300.1 L513.2,1303.1 L516.6,1303.5 L520.3,1303.3"/><path d="M509.2,1296.1 L511.5,1299.0 L514.3,1300.8 L517.9,1300.6 L521.2,1301.2"/><path d="M510.5,1292.9 L512.8,1295.9 L515.8,1297.1 L518.5,1299.2 L522.7,1297.4"/><path d="M511.2,1290.8 L513.6,1293.9 L516.5,1295.4 L519.5,1296.6 L523.2,1296.1"/><path d="M511.9,1288.8 L514.9,1290.0 L517.5,1292.8 L521.0,1292.5 L524.2,1293.0"/><path d="M512.8,1286.1 L516.0,1286.6 L518.2,1290.4 L522.0,1289.2 L525.3,1289.4"/><path d="M513.6,1282.9 L516.7,1283.9 L519.4,1286.3 L522.6,1286.9 L526.2,1286.3"/><path d="M514.0,1281.4 L517.4,1281.1 L520.1,1283.7 L523.7,1282.9 L526.7,1284.2"/><path d="M514.8,1278.0 L517.9,1278.8 L520.6,1281.6 L524.3,1280.2 L527.7,1279.8"/><path d="M515.3,1275.1 L518.1,1277.8 L521.5,1277.5 L525.0,1276.6 L528.2,1277.1"/><path d="M515.7,1272.9 L518.8,1274.4 L521.9,1275.5 L525.4,1274.5 L528.8,1273.9"/><path d="M516.2,1270.2 L519.1,1272.5 L522.3,1273.5 L525.6,1272.9 L529.1,1271.6"/><path d="M516.7,1266.6 L519.6,1269.7 L522.8,1270.3 L526.2,1269.1 L529.6,1268.4"/><path d="M517.0,1265.0 L520.0,1266.7 L523.1,1268.3 L526.5,1267.2 L529.9,1266.1"/><path d="M517.4,1261.7 L520.2,1264.9 L523.5,1265.5 L527.0,1263.4 L530.1,1264.8"/><path d="M517.6,1259.5 L520.6,1261.7 L523.9,1262.0 L527.1,1262.7 L530.6,1260.8"/><path d="M517.9,1257.1 L521.2,1256.6 L524.2,1259.6 L527.5,1259.2 L530.9,1257.7"/><path d="M518.3,1253.7 L521.5,1254.1 L524.4,1257.1 L527.9,1255.0 L531.2,1254.8"/><path d="M518.6,1250.7 L521.8,1251.0 L524.7,1254.5 L528.0,1254.8 L531.4,1252.8"/><path d="M518.8,1247.9 L521.8,1251.1 L525.1,1251.1 L528.4,1250.7 L531.7,1249.5"/><path d="M519.0,1245.7 L522.1,1248.6 L525.3,1248.9 L528.7,1247.6 L532.0,1246.3"/><path d="M519.2,1243.0 L522.5,1243.2 L525.5,1246.5 L528.7,1246.5 L532.1,1245.2"/><path d="M519.5,1240.0 L522.7,1240.3 L525.7,1243.3 L529.0,1243.4 L532.4,1242.1"/><path d="M519.6,1237.3 L522.8,1238.8 L526.0,1240.7 L529.3,1238.8 L532.6,1238.1"/><path d="M519.8,1234.7 L522.9,1236.8 L526.1,1237.2 L529.5,1235.1 L532.7,1236.0"/><path d="M519.9,1232.6 L523.0,1235.0 L526.3,1234.9 L529.6,1233.5 L532.9,1232.3"/><path d="M520.0,1229.3 L523.2,1231.3 L526.4,1232.0 L529.7,1230.1 L533.0,1231.0"/><path d="M520.1,1228.3 L523.3,1228.6 L526.5,1229.9 L529.8,1229.1 L533.1,1227.5"/><path d="M520.2,1225.1 L523.4,1224.8 L526.6,1228.1 L529.9,1226.0 L533.2,1225.3"/><path d="M520.2,1222.7 L523.5,1222.0 L526.7,1224.6 L529.9,1224.7 L533.2,1222.4"/><path d="M520.3,1218.9 L523.5,1221.7 L526.8,1221.8 L530.0,1220.9 L533.3,1219.9"/><path d="M520.4,1216.2 L523.6,1216.9 L526.8,1219.3 L530.1,1218.9 L533.4,1217.5"/><path d="M520.4,1214.1 L523.6,1216.1 L526.9,1215.4 L530.1,1215.6 L533.4,1213.3"/><path d="M520.5,1210.3 L523.7,1213.2 L526.9,1212.2 L530.2,1211.0 L533.4,1210.8"/><path d="M520.5,1207.9 L523.7,1210.7 L527.0,1210.7 L530.2,1207.7 L533.5,1208.0"/><path d="M520.5,1205.6 L523.7,1207.5 L527.0,1208.0 L530.2,1206.3 L533.5,1205.0"/><path d="M520.5,1203.4 L523.7,1204.0 L527.0,1204.7 L530.2,1202.9 L533.5,1202.8"/><path d="M520.5,1201.0 L523.7,1200.9 L527.0,1202.1 L530.2,1203.1 L533.5,1201.4"/><path d="M520.5,1198.1 L523.7,1199.5 L527.0,1199.8 L530.2,1198.2 L533.5,1197.6"/><path d="M520.5,1195.3 L523.7,1195.5 L527.0,1196.8 L530.2,1196.6 L533.5,1194.8"/><path d="M520.5,1191.7 L523.7,1194.4 L527.0,1193.4 L530.2,1193.1 L533.5,1191.5"/><path d="M520.5,1189.3 L523.7,1192.4 L527.0,1192.2 L530.2,1191.7 L533.5,1189.2"/><path d="M520.4,1186.5 L523.7,1188.7 L527.0,1188.8 L530.2,1188.2 L533.4,1186.4"/><path d="M520.4,1183.6 L523.7,1184.6 L526.9,1185.3 L530.2,1184.0 L533.4,1183.3"/><path d="M520.4,1180.1 L523.6,1181.8 L526.9,1183.0 L530.1,1181.9 L533.4,1181.3"/><path d="M520.3,1177.8 L523.6,1180.4 L526.9,1180.1 L530.1,1180.3 L533.3,1177.9"/><path d="M520.3,1175.5 L523.6,1177.6 L526.8,1177.9 L530.1,1177.9 L533.3,1175.4"/><path d="M520.3,1173.1 L523.5,1172.1 L526.8,1174.9 L530.0,1172.0 L533.3,1172.9"/><path d="M520.3,1170.2 L523.5,1172.1 L526.8,1172.1 L530.0,1170.9 L533.2,1169.3"/><path d="M520.2,1166.0 L523.5,1167.6 L526.7,1169.0 L530.0,1169.0 L533.2,1166.5"/><path d="M520.2,1163.5 L523.4,1162.8 L526.7,1165.2 L529.9,1164.3 L533.2,1162.9"/><path d="M520.1,1161.9 L523.4,1160.4 L526.7,1162.6 L529.9,1161.9 L533.1,1161.0"/><path d="M520.1,1159.4 L523.4,1161.1 L526.6,1159.6 L529.9,1160.8 L533.1,1158.2"/><path d="M520.1,1155.2 L523.3,1158.2 L526.6,1157.1 L529.8,1156.3 L533.1,1155.6"/><path d="M520.0,1153.0 L523.3,1153.6 L526.6,1154.4 L529.8,1154.1 L533.0,1152.7"/><path d="M520.0,1150.8 L523.3,1150.3 L526.5,1152.6 L529.8,1150.3 L533.0,1150.3"/><path d="M520.0,1146.4 L523.2,1149.4 L526.5,1149.0 L529.7,1146.5 L533.0,1147.4"/><path d="M519.9,1143.6 L523.2,1145.6 L526.4,1146.2 L529.7,1143.1 L532.9,1143.8"/><path d="M519.9,1140.8 L523.1,1141.8 L526.4,1143.2 L529.6,1140.7 L532.9,1140.3"/><path d="M519.8,1138.9 L523.1,1140.2 L526.4,1141.1 L529.6,1138.4 L532.8,1138.1"/><path d="M519.8,1135.6 L523.1,1137.8 L526.3,1137.3 L529.5,1137.2 L532.8,1135.9"/><path d="M519.7,1132.3 L523.0,1133.6 L526.2,1134.3 L529.5,1135.2 L532.7,1132.8"/><path d="M519.6,1129.9 L522.9,1130.1 L526.2,1131.7 L529.4,1131.0 L532.6,1129.9"/><path d="M519.5,1127.1 L522.8,1127.1 L526.1,1128.9 L529.4,1129.1 L532.6,1127.8"/><path d="M519.5,1124.2 L522.8,1125.3 L526.0,1125.9 L529.2,1124.1 L532.5,1123.9"/><path d="M519.4,1121.6 L522.7,1124.4 L526.0,1124.5 L529.2,1123.7 L532.4,1122.0"/><path d="M519.3,1118.1 L522.6,1120.4 L525.9,1121.0 L529.1,1120.2 L532.3,1118.3"/><path d="M519.2,1116.0 L522.5,1115.2 L525.8,1118.3 L529.0,1116.4 L532.2,1115.8"/><path d="M519.1,1113.1 L522.4,1114.1 L525.7,1115.7 L528.9,1114.1 L532.1,1112.8"/><path d="M519.0,1110.2 L522.3,1110.6 L525.6,1112.6 L528.8,1110.0 L532.0,1109.7"/><path d="M519.0,1108.4 L522.2,1108.4 L525.5,1109.8 L528.8,1110.2 L532.0,1107.6"/><path d="M518.9,1104.9 L522.2,1107.5 L525.4,1106.5 L528.7,1106.3 L531.9,1104.3"/><path d="M518.8,1101.8 L522.0,1101.9 L525.3,1103.8 L528.6,1104.0 L531.8,1101.5"/><path d="M518.7,1099.0 L521.9,1098.7 L525.2,1100.4 L528.4,1099.0 L531.7,1099.7"/><path d="M518.6,1097.3 L521.8,1097.0 L525.1,1097.5 L528.4,1098.2 L531.6,1096.8"/><path d="M518.5,1093.5 L521.7,1093.4 L525.1,1096.0 L528.3,1095.0 L531.5,1093.4"/><path d="M518.4,1091.1 L521.6,1090.5 L524.9,1092.3 L528.1,1090.1 L531.4,1090.5"/><path d="M518.3,1088.8 L521.6,1089.3 L524.8,1089.2 L528.0,1088.5 L531.3,1088.3"/><path d="M518.2,1085.1 L521.4,1084.6 L524.7,1087.3 L528.0,1086.2 L531.1,1084.2"/><path d="M518.0,1081.4 L521.3,1083.0 L524.6,1082.9 L527.8,1083.5 L531.0,1080.8"/><path d="M517.9,1078.4 L521.2,1079.6 L524.5,1081.1 L527.7,1079.9 L530.9,1077.9"/><path d="M517.8,1077.0 L521.1,1077.8 L524.4,1077.8 L527.7,1078.4 L530.8,1075.6"/><path d="M517.8,1074.6 L521.1,1076.1 L524.3,1075.7 L527.4,1072.9 L530.7,1073.3"/><path d="M517.6,1070.6 L520.9,1071.7 L524.2,1072.1 L527.3,1070.2 L530.6,1069.9"/><path d="M517.5,1067.5 L520.7,1067.0 L524.0,1068.9 L527.3,1069.9 L530.5,1066.7"/><path d="M517.3,1064.1 L520.6,1064.0 L523.9,1066.6 L527.1,1064.4 L530.4,1064.3"/><path d="M517.2,1061.3 L520.5,1062.6 L523.8,1063.5 L527.1,1064.1 L530.2,1061.0"/><path d="M517.2,1060.1 L520.4,1059.4 L523.7,1060.9 L527.0,1061.1 L530.2,1058.9"/><path d="M517.0,1056.0 L520.3,1056.3 L523.6,1058.4 L526.9,1057.4 L530.0,1055.4"/><path d="M517.0,1054.0 L520.3,1055.3 L523.5,1055.3 L526.7,1052.5 L529.9,1052.2"/></g>
<g fill="#f2c4be" opacity="0.55"><ellipse cx="263.5" cy="1072.5" rx="7" ry="6.5"/><ellipse cx="264.0" cy="1099.5" rx="7" ry="6.5"/><ellipse cx="264.5" cy="1126.5" rx="7" ry="6.5"/><ellipse cx="265.1" cy="1153.5" rx="7" ry="6.5"/><ellipse cx="265.2" cy="1180.5" rx="7" ry="6.5"/><ellipse cx="265.3" cy="1207.5" rx="7" ry="6.5"/><ellipse cx="266.5" cy="1234.5" rx="7" ry="6.5"/><ellipse cx="270.0" cy="1261.2" rx="7" ry="6.5"/><ellipse cx="278.5" cy="1286.7" rx="7" ry="6.5"/><ellipse cx="294.7" cy="1308.2" rx="7" ry="6.5"/><ellipse cx="316.3" cy="1324.2" rx="7" ry="6.5"/><ellipse cx="341.9" cy="1332.5" rx="7" ry="6.5"/><ellipse cx="368.7" cy="1335.6" rx="7" ry="6.5"/><ellipse cx="395.7" cy="1335.8" rx="7" ry="6.5"/><ellipse cx="422.5" cy="1332.9" rx="7" ry="6.5"/><ellipse cx="448.0" cy="1324.3" rx="7" ry="6.5"/><ellipse cx="469.8" cy="1308.6" rx="7" ry="6.5"/><ellipse cx="485.0" cy="1286.5" rx="7" ry="6.5"/><ellipse cx="491.3" cy="1260.3" rx="7" ry="6.5"/><ellipse cx="493.8" cy="1233.5" rx="7" ry="6.5"/><ellipse cx="494.5" cy="1206.5" rx="7" ry="6.5"/><ellipse cx="494.4" cy="1179.5" rx="7" ry="6.5"/><ellipse cx="494.0" cy="1152.5" rx="7" ry="6.5"/><ellipse cx="493.5" cy="1125.5" rx="7" ry="6.5"/><ellipse cx="492.6" cy="1098.5" rx="7" ry="6.5"/><ellipse cx="491.6" cy="1071.5" rx="7" ry="6.5"/></g>
<g fill="none" stroke="#d8a8a0" stroke-width="1.2"><path d="M289.3,1058.5 L282.8,1058.6 L276.3,1058.8 L269.7,1058.0 L263.2,1056.8 L256.7,1058.3 L250.3,1059.2 L243.8,1059.4 L237.3,1059.5"/><path d="M289.8,1085.5 L283.3,1085.6 L276.8,1085.7 L270.2,1085.0 L263.7,1083.8 L257.3,1085.3 L250.8,1086.2 L244.3,1086.4 L237.8,1086.5"/><path d="M290.3,1112.5 L283.8,1112.6 L277.3,1112.7 L270.8,1112.0 L264.2,1110.8 L257.8,1112.3 L251.3,1113.2 L244.8,1113.4 L238.3,1113.5"/><path d="M290.8,1139.5 L284.3,1139.6 L277.8,1139.7 L271.3,1139.0 L264.8,1137.8 L258.3,1139.3 L251.8,1140.2 L245.3,1140.4 L238.8,1140.5"/><path d="M291.2,1166.9 L284.7,1166.9 L278.2,1166.9 L271.7,1166.1 L265.2,1164.8 L258.7,1166.2 L252.2,1167.0 L245.7,1167.0 L239.2,1167.1"/><path d="M291.2,1193.9 L284.7,1193.9 L278.2,1193.9 L271.7,1193.1 L265.2,1191.8 L258.7,1193.2 L252.2,1194.0 L245.7,1194.0 L239.2,1194.1"/><path d="M291.6,1219.8 L285.2,1220.1 L278.7,1220.4 L272.1,1219.8 L265.6,1218.8 L259.1,1220.4 L252.7,1221.6 L246.2,1221.9 L239.7,1222.2"/><path d="M293.7,1244.5 L287.3,1245.4 L280.8,1246.2 L274.3,1246.2 L267.7,1245.7 L261.4,1247.9 L255.1,1249.5 L248.6,1250.4 L242.2,1251.2"/><path d="M297.9,1266.1 L291.8,1268.2 L285.6,1270.2 L279.2,1271.5 L272.6,1272.2 L266.8,1275.5 L260.9,1278.4 L254.8,1280.4 L248.6,1282.5"/><path d="M306.2,1282.0 L301.1,1286.0 L296.0,1290.0 L290.4,1293.4 L284.5,1296.3 L280.2,1301.4 L275.6,1306.1 L270.5,1310.1 L265.4,1314.2"/><path d="M319.9,1295.8 L316.2,1301.1 L312.4,1306.4 L308.0,1311.3 L303.1,1315.8 L300.4,1321.9 L297.4,1327.6 L293.6,1332.9 L289.8,1338.2"/><path d="M336.0,1304.3 L334.2,1310.6 L332.4,1316.8 L329.8,1322.8 L326.7,1328.7 L326.2,1335.3 L325.2,1341.8 L323.4,1348.1 L321.6,1354.3"/><path d="M357.9,1308.7 L357.3,1315.1 L356.6,1321.6 L355.1,1328.0 L353.1,1334.3 L353.7,1340.9 L353.9,1347.4 L353.2,1353.9 L352.5,1360.4"/><path d="M382.4,1310.0 L382.3,1316.5 L382.3,1323.0 L381.4,1329.5 L380.0,1336.0 L381.3,1342.5 L382.1,1349.0 L382.0,1355.5 L382.0,1362.0"/><path d="M406.5,1309.0 L407.2,1315.4 L407.8,1321.9 L407.7,1328.5 L407.0,1335.1 L409.0,1341.4 L410.5,1347.8 L411.1,1354.2 L411.8,1360.7"/><path d="M426.9,1305.1 L429.0,1311.2 L431.2,1317.4 L432.6,1323.8 L433.5,1330.3 L437.0,1336.0 L439.9,1341.8 L442.1,1348.0 L444.3,1354.1"/><path d="M443.8,1296.6 L447.7,1301.8 L451.6,1306.9 L454.9,1312.6 L457.8,1318.6 L462.8,1323.0 L467.4,1327.7 L471.3,1332.8 L475.2,1338.0"/><path d="M457.0,1283.6 L462.4,1287.3 L467.7,1290.9 L472.6,1295.3 L477.2,1300.1 L483.4,1302.6 L489.2,1305.6 L494.6,1309.2 L499.9,1312.9"/><path d="M463.7,1268.3 L470.0,1269.6 L476.4,1271.0 L482.6,1273.1 L488.7,1275.8 L495.3,1275.8 L501.8,1276.3 L508.2,1277.7 L514.5,1279.0"/><path d="M466.9,1244.4 L473.4,1245.0 L479.9,1245.6 L486.3,1247.1 L492.6,1249.1 L499.2,1248.4 L505.7,1248.2 L512.2,1248.8 L518.7,1249.5"/><path d="M468.3,1219.3 L474.8,1219.5 L481.3,1219.7 L487.8,1220.6 L494.2,1222.2 L500.8,1221.0 L507.3,1220.3 L513.8,1220.4 L520.3,1220.6"/><path d="M468.5,1193.0 L475.0,1193.0 L481.5,1193.0 L488.0,1193.8 L494.5,1195.2 L501.0,1193.8 L507.5,1192.9 L514.0,1192.9 L520.5,1192.9"/><path d="M468.2,1166.3 L474.7,1166.2 L481.2,1166.1 L487.7,1166.9 L494.2,1168.2 L500.7,1166.7 L507.2,1165.8 L513.7,1165.7 L520.2,1165.6"/><path d="M467.8,1139.5 L474.3,1139.4 L480.8,1139.2 L487.3,1139.9 L493.9,1141.2 L500.3,1139.7 L506.8,1138.7 L513.3,1138.6 L519.8,1138.4"/><path d="M467.1,1112.8 L473.6,1112.6 L480.1,1112.4 L486.6,1113.0 L493.2,1114.2 L499.6,1112.6 L506.1,1111.5 L512.6,1111.3 L519.1,1111.1"/><path d="M466.1,1086.0 L472.6,1085.7 L479.1,1085.5 L485.7,1086.1 L492.2,1087.2 L498.7,1085.6 L505.1,1084.5 L511.6,1084.2 L518.1,1084.0"/></g>
<path d="M237.0,1045.5 L237.1,1050.6 L237.2,1057.1 L237.4,1064.7 L237.5,1073.3 L237.7,1082.6 L237.9,1092.4 L238.1,1102.5 L238.3,1112.7 L238.5,1122.8 L238.6,1132.7 L238.8,1142.0 L239.0,1150.5 L239.1,1158.5 L239.2,1166.5 L239.2,1174.5 L239.2,1182.6 L239.2,1190.5 L239.2,1190.6 L239.3,1198.5 L239.3,1198.6 L239.3,1206.2 L239.3,1206.5 L239.4,1213.9 L239.5,1214.2 L239.7,1221.4 L239.7,1221.8 L240.0,1228.6 L240.0,1229.2 L240.5,1235.7 L240.5,1236.4 L241.1,1242.5 L241.2,1243.0 L241.8,1248.7 L241.9,1249.0 L242.6,1254.3 L242.6,1254.7 L243.3,1259.6 L243.4,1260.2 L244.2,1264.8 L244.4,1265.6 L245.2,1269.9 L245.4,1270.8 L246.4,1274.9 L246.7,1276.0 L247.8,1279.9 L248.1,1281.0 L249.4,1284.8 L249.8,1286.1 L251.2,1289.7 L251.8,1291.0 L253.4,1294.6 L254.0,1295.8 L255.8,1299.4 L256.5,1300.5 L258.5,1304.1 L259.2,1305.2 L261.5,1308.7 L262.2,1309.7 L264.7,1313.2 L265.4,1314.1 L268.1,1317.6 L268.8,1318.5 L271.7,1321.8 L272.5,1322.7 L275.6,1325.9 L276.4,1326.7 L279.6,1329.8 L280.5,1330.7 L283.9,1333.6 L284.9,1334.4 L288.4,1337.2 L289.5,1338.0 L293.1,1340.6 L294.3,1341.3 L298.1,1343.8 L299.3,1344.5 L303.2,1346.7 L304.5,1347.4 L308.6,1349.4 L310.1,1350.0 L314.3,1351.8 L315.8,1352.4 L320.3,1353.9 L321.6,1354.3 L326.4,1355.7 L327.5,1356.0 L332.4,1357.1 L333.4,1357.4 L338.5,1358.4 L339.4,1358.5 L344.5,1359.4 L345.3,1359.5 L350.6,1360.2 L351.2,1360.2 L356.5,1360.8 L357.1,1360.8 L362.4,1361.3 L363.0,1361.3 L368.2,1361.6 L368.7,1361.6 L373.9,1361.9 L374.3,1361.9 L379.4,1362.0 L379.8,1362.0 L384.9,1362.0 L385.3,1362.0 L390.5,1362.0 L391.0,1362.0 L396.3,1361.8 L396.8,1361.8 L402.1,1361.5 L402.7,1361.5 L408.0,1361.1 L408.6,1361.0 L413.9,1360.5 L414.6,1360.4 L419.8,1359.7 L420.6,1359.6 L425.7,1358.8 L426.7,1358.6 L431.6,1357.6 L432.7,1357.3 L437.4,1356.2 L438.6,1355.8 L443.2,1354.5 L444.6,1354.0 L448.9,1352.4 L450.2,1351.9 L454.4,1350.1 L455.5,1349.6 L459.5,1347.6 L460.6,1347.1 L464.6,1344.9 L465.6,1344.3 L469.4,1342.0 L470.5,1341.3 L474.1,1338.8 L475.2,1338.0 L478.6,1335.4 L479.7,1334.6 L483.0,1331.8 L484.0,1330.9 L487.1,1328.0 L488.1,1327.0 L491.1,1324.0 L492.0,1322.9 L494.8,1319.7 L495.7,1318.6 L498.3,1315.3 L499.2,1314.1 L501.5,1310.6 L502.3,1309.4 L504.4,1305.9 L505.1,1304.6 L506.9,1301.2 L507.6,1299.7 L509.2,1296.2 L509.8,1294.8 L511.1,1291.2 L511.6,1289.8 L512.8,1286.1 L513.1,1284.8 L514.1,1280.9 L514.4,1279.8 L515.2,1275.7 L515.4,1274.8 L516.2,1270.4 L516.3,1269.7 L517.0,1265.0 L517.0,1264.4 L517.6,1259.4 L517.7,1259.0 L518.3,1253.6 L518.3,1253.4 L518.9,1247.6 L518.9,1247.1 L519.4,1240.7 L519.5,1240.1 L519.9,1233.2 L519.9,1232.7 L520.2,1225.3 L520.2,1225.0 L520.4,1217.2 L520.4,1216.9 L520.5,1208.9 L520.5,1208.6 L520.5,1200.3 L520.5,1200.2 L520.5,1191.7 L520.5,1191.6 L520.4,1183.1 L520.4,1183.0 L520.3,1174.5 L520.3,1174.4 L520.2,1166.0 L520.1,1157.7 L520.0,1149.7 L520.0,1149.6 L519.9,1141.4 L519.9,1141.2 L519.7,1132.5 L519.7,1132.4 L519.5,1123.3 L519.4,1123.2 L519.2,1114.0 L519.2,1114.0 L518.9,1104.7 L518.9,1104.7 L518.5,1095.6 L518.5,1095.6 L518.2,1086.9 L518.2,1086.9 L517.9,1078.6 L517.6,1071.1 L517.4,1064.3 L517.1,1058.7 L517.0,1054.1" fill="none" stroke="#dcaaa2" stroke-width="1"/>
<!-- beige connective layer -->
<path d="M286,1040 C286,1140 288,1222 294,1268 C308,1302 345,1312 385,1312 C425,1312 460,1302 470,1264 C474,1222 472,1140 474,1040 L464,1040 C462,1140 465,1220 460,1255 C450,1285 420,1297 385,1297 C350,1297 318,1287 305,1260 C299,1220 297,1140 296,1040 Z" fill="#ecdfca"/>
<!-- capillary red U -->
<path d="M296,1020 C297,1140 299,1220 305,1258 C318,1287 350,1297 385,1297 C420,1297 450,1285 460,1255 C465,1220 462,1140 464,1025 L410,1025 C406,1120 408,1200 410,1235 C405,1250 395,1255 380,1255 C365,1255 352,1250 349,1240 C346,1200 348,1120 347,1015 Z" fill="#e87576"/>
<path d="M310,1040 C312,1140 314,1220 320,1255 C332,1278 358,1286 385,1286 C412,1286 440,1278 448,1250 C452,1220 450,1140 450,1040" fill="none" stroke="#d94f54" stroke-width="14" opacity="0.6"/>
<!-- endothelial cells outline -->
<path d="M296,1020 C297,1140 299,1220 305,1258 C318,1287 350,1297 385,1297 C420,1297 450,1285 460,1255 C465,1220 462,1140 464,1025" fill="none" stroke="#b8484c" stroke-width="1.5"/>
<path d="M302,1030 C303,1140 305,1220 311,1255 C323,1281 352,1290 385,1290 C418,1290 446,1280 454,1252 C458,1220 456,1140 458,1030" fill="none" stroke="#f3b9b6" stroke-width="6"/>
<path d="M305,1030 C306,1140 308,1220 314,1253 C326,1278 354,1287 385,1287 C416,1287 443,1277 451,1250 C455,1220 453,1140 455,1030" fill="none" stroke="#b8484c" stroke-width="1" stroke-dasharray="30 4 2 4"/>
<path d="M347,1015 C348,1120 346,1200 349,1240 C352,1250 365,1255 380,1255 C395,1255 405,1250 410,1235 C408,1200 406,1120 410,1025" fill="none" stroke="#f3b9b6" stroke-width="8"/>
<path d="M343,1015 C344,1120 342,1200 345,1242 C349,1254 364,1259 380,1259 C396,1259 409,1254 414,1237 C412,1200 410,1120 414,1025" fill="none" stroke="#b8484c" stroke-width="1" stroke-dasharray="30 4 2 4"/>
<path d="M352,1015 C353,1120 351,1200 354,1238 C358,1246 368,1250 380,1250 C392,1250 400,1246 404,1233 C402,1200 401,1120 405,1025" fill="none" stroke="#b8484c" stroke-width="1.3"/>
<!-- connective tissue center -->
<path d="M352,1015 C353,1120 351,1200 354,1238 C358,1246 368,1250 380,1250 C392,1250 400,1246 404,1233 C402,1200 401,1120 405,1025 Z" fill="#f3e5d5"/>
<!-- fade tops -->
<path d="M282,985 L366,985 L366,1058 C358,1046 350,1040 338,1036 C325,1031 312,1029 302,1032 C292,1036 287,1046 282,1062 Z" fill="#fefefe" opacity="0.85"/>
<path d="M398,985 L476,985 L476,1066 C470,1052 464,1044 452,1038 C440,1033 428,1030 418,1032 C408,1035 402,1042 398,1052 Z" fill="#fefefe" opacity="0.85"/>
<path d="M340,985 L420,985 L420,1045 C400,1036 370,1034 340,1045 Z" fill="#fefefe" opacity="0.6"/>
<rect x="215" y="990" width="345" height="110" fill="url(#fadeTop)"/>
<!-- RBCs -->
<g fill="#e0262a">
<ellipse cx="335" cy="1090" rx="11" ry="15" transform="rotate(-20 335 1090)"/>
<ellipse cx="331" cy="1137" rx="11" ry="15" transform="rotate(15 331 1137)"/>
<ellipse cx="320" cy="1220" rx="13" ry="13"/>
<ellipse cx="430" cy="1064" rx="11" ry="14" transform="rotate(30 430 1064)"/>
<ellipse cx="431" cy="1165" rx="12" ry="14"/>
<ellipse cx="431" cy="1244" rx="11" ry="15" transform="rotate(20 431 1244)"/>
<ellipse cx="360" cy="1272" rx="13" ry="8" transform="rotate(15 360 1272)"/>
<ellipse cx="381" cy="1276" rx="12" ry="14"/>
</g>
<g fill="none" stroke="#b81a20" stroke-width="1.5" opacity="0.6">
<path d="M330,1085 q5,6 2,14"/><path d="M328,1132 q6,5 3,12"/><path d="M428,1060 q6,5 3,11"/><path d="M428,1162 q5,5 2,10"/><path d="M428,1240 q5,6 2,10"/><path d="M378,1272 q5,4 3,9"/>
</g>
<!-- inset box -->
<defs><clipPath id="chInsClip"><rect x="403" y="1285" width="135" height="179"/></clipPath></defs>
<g clip-path="url(#chInsClip)">
<rect x="403" y="1285" width="135" height="179" fill="#c8d9f1"/>
<path d="M400,1282 L540,1282 L540,1380 C500,1372 440,1345 400,1335 Z" fill="#efe1d0"/>
<path d="M400,1336 C430,1340 470,1356 540,1370 L540,1421 C500,1418 470,1413 455,1410 C440,1404 420,1395 400,1390 Z" fill="#f8dcd6"/>
<g fill="none" stroke="#d8a8a0" stroke-width="1.3">
<path d="M432,1342 C430,1355 436,1362 432,1372 C428,1382 434,1390 430,1404"/>
<path d="M483,1360 C481,1372 487,1378 483,1388 C479,1396 485,1404 482,1414"/>
<path d="M518,1366 C516,1378 522,1384 518,1394 C514,1402 520,1410 517,1420"/>
</g>
<path d="M405.8,1389.0 L406.2,1391.8 L404.8,1394.5 L402.0,1397.3 L402.3,1400.0 L405.7,1402.8 L406.2,1405.5 M408.5,1390.0 L410.6,1393.7 L409.4,1397.5 L406.6,1401.3 L407.1,1405.0 L409.8,1408.8 L410.5,1412.6 M413.4,1391.0 L415.0,1393.7 L412.1,1396.5 L410.8,1399.3 L412.5,1402.0 L413.6,1404.8 L414.4,1407.6 M417.9,1391.9 L419.3,1395.7 L416.5,1399.4 L414.9,1403.2 L416.4,1407.0 L418.0,1410.8 L419.3,1414.6 M423.1,1392.8 L423.5,1395.2 L421.2,1397.5 L419.3,1399.9 L419.8,1402.3 L422.2,1404.6 L423.0,1407.0 M427.1,1393.8 L427.8,1397.3 L425.8,1400.9 L423.7,1404.4 L425.4,1408.0 L426.9,1411.5 L428.0,1415.1 M431.3,1394.8 L432.2,1398.7 L429.9,1402.6 L428.2,1406.5 L428.5,1410.4 L432.3,1414.3 L432.3,1418.2 M435.4,1395.6 L436.3,1399.1 L434.7,1402.6 L432.0,1406.1 L433.6,1409.5 L434.9,1413.0 L436.2,1416.5 M440.2,1396.6 L440.6,1400.4 L437.7,1404.2 L436.2,1408.0 L436.6,1411.8 L439.3,1415.6 L440.6,1419.4 M442.4,1397.3 L443.8,1400.8 L442.7,1404.3 L439.5,1407.7 L440.9,1411.2 L443.6,1414.7 L443.6,1418.2 M447.4,1398.1 L447.8,1400.8 L445.6,1403.4 L443.9,1406.1 L443.8,1408.8 L447.3,1411.4 L447.1,1414.1 M451.1,1399.0 L451.6,1402.6 L448.9,1406.3 L447.5,1410.0 L447.7,1413.6 L450.3,1417.3 L451.6,1420.9 M454.5,1399.7 L454.9,1403.3 L452.3,1406.9 L450.5,1410.5 L451.9,1414.0 L454.2,1417.6 L454.7,1421.2 M458.4,1400.6 L459.1,1403.4 L458.0,1406.1 L454.7,1408.8 L455.1,1411.6 L457.8,1414.3 L459.1,1417.1 M461.9,1401.3 L462.1,1403.9 L460.4,1406.4 L458.6,1408.9 L459.6,1411.5 L461.5,1414.0 L461.6,1416.6 M464.2,1402.2 L465.9,1404.7 L464.7,1407.1 L462.3,1409.6 L462.6,1412.0 L465.0,1414.5 L466.2,1417.0 M470.2,1403.1 L470.5,1406.2 L468.9,1409.4 L466.1,1412.5 L467.0,1415.6 L470.2,1418.7 L470.4,1421.8 M472.8,1404.0 L474.2,1407.8 L472.1,1411.6 L470.5,1415.4 L470.3,1419.2 L473.1,1423.0 L474.3,1426.8 M477.0,1404.9 L478.4,1408.2 L477.3,1411.5 L474.2,1414.8 L475.7,1418.1 L476.8,1421.4 L478.1,1424.7 M481.1,1405.8 L482.6,1408.5 L480.4,1411.2 L478.4,1413.9 L478.6,1416.6 L481.5,1419.3 L482.6,1422.0 M486.0,1406.8 L487.2,1410.1 L484.9,1413.5 L482.8,1416.8 L483.6,1420.2 L485.6,1423.5 L487.2,1426.9 M489.5,1407.5 L490.4,1410.2 L487.6,1412.8 L486.0,1415.5 L486.4,1418.2 L490.1,1420.9 L490.0,1423.5 M494.3,1408.5 L495.0,1411.2 L493.5,1413.8 L490.9,1416.5 L492.5,1419.1 L494.2,1421.8 L494.8,1424.4 M498.9,1409.5 L499.4,1413.2 L496.3,1417.0 L495.0,1420.8 L496.8,1424.5 L499.1,1428.3 L498.7,1432.1 M501.9,1410.5 L503.7,1413.9 L502.7,1417.3 L499.7,1420.7 L500.1,1424.1 L502.7,1427.5 L503.3,1430.9 M507.4,1411.4 L508.0,1415.3 L507.0,1419.1 L504.1,1422.9 L505.5,1426.8 L507.5,1430.6 L508.1,1434.4 M512.1,1412.4 L512.4,1415.1 L511.4,1417.8 L508.4,1420.5 L510.0,1423.2 L511.4,1425.9 L512.6,1428.6 M514.1,1413.1 L516.0,1416.4 L514.7,1419.6 L511.6,1422.8 L513.6,1426.1 L514.6,1429.3 L515.8,1432.6 M519.7,1414.0 L519.9,1416.5 L517.7,1418.9 L515.9,1421.4 L517.4,1423.8 L519.9,1426.3 L520.1,1428.7 M522.6,1414.8 L523.7,1418.8 L520.7,1422.8 L519.3,1426.7 L520.8,1430.7 L523.4,1434.7 L523.1,1438.7 M527.2,1415.7 L527.6,1419.7 L525.1,1423.7 L524.1,1427.7 L525.5,1431.7 L527.5,1435.7 L527.9,1439.7 M530.9,1416.7 L532.1,1420.2 L529.9,1423.7 L528.1,1427.2 L528.5,1430.7 L531.5,1434.2 L531.6,1437.7 M535.6,1417.5 L535.6,1421.3 L533.7,1425.2 L532.0,1429.0 L532.0,1432.8 L535.4,1436.6 L535.8,1440.4 M538.9,1418.2 L539.0,1420.8 L536.3,1423.4 L535.1,1425.9 L535.7,1428.5 L538.6,1431.1 L539.1,1433.7" fill="none" stroke="#e6b8b2" stroke-width="2.2" stroke-linecap="round"/>
<g fill="#f1c2bc" opacity="0.7"><ellipse cx="415" cy="1366" rx="7" ry="11"/><ellipse cx="457" cy="1380" rx="7" ry="11"/><ellipse cx="500" cy="1390" rx="7" ry="11"/><ellipse cx="534" cy="1396" rx="6" ry="10"/></g>
<path d="M410,1282 C425,1305 445,1324 470,1336 C495,1345 520,1347 540,1348 L540,1282 Z" fill="#e87576"/>
<path d="M418,1282 C430,1300 450,1318 472,1328 C495,1337 520,1340 540,1340" fill="none" stroke="#f3b9b6" stroke-width="6"/>
<path d="M410,1282 C425,1305 445,1324 470,1336 C495,1345 520,1347 540,1348" fill="none" stroke="#b8484c" stroke-width="1.6"/>
<path d="M424,1282 C436,1298 454,1314 474,1323 C496,1332 520,1334 540,1334" fill="none" stroke="#b8484c" stroke-width="1" opacity="0.7"/>
<path d="M405,1282 C418,1305 438,1326 465,1340 C490,1351 515,1354 540,1355" fill="none" stroke="#d9bfae" stroke-width="2" opacity="0.7"/>
<ellipse cx="496" cy="1299" rx="18" ry="11" fill="#e52a2e" transform="rotate(25 496 1299)"/>
<ellipse cx="523" cy="1311" rx="14" ry="16" fill="#e52a2e"/>
<path d="M490,1296 q6,2 10,7" stroke="#c21c22" stroke-width="2" fill="none" opacity="0.5"/>
<path d="M518,1306 q6,4 6,10" stroke="#c21c22" stroke-width="2" fill="none" opacity="0.5"/>
</g>
<rect x="403" y="1285" width="135" height="179" fill="none" stroke="#333" stroke-width="2"/>
<!-- viruses -->
<g fill="#2f9a3f">
<circle cx="313" cy="1039" r="4.5"/><circle cx="419" cy="1119" r="3.5"/><circle cx="333" cy="1166" r="3.5"/><circle cx="445" cy="1207" r="3.5"/><circle cx="332" cy="1254" r="3.5"/>
<circle cx="338" cy="1330" r="4"/><circle cx="346" cy="1324" r="4"/><circle cx="343" cy="1339" r="4"/>
<circle cx="343" cy="1383" r="4"/><circle cx="363" cy="1385" r="4"/><circle cx="383" cy="1386" r="4"/><circle cx="323" cy="1392" r="4"/>
<circle cx="447" cy="1293" r="4.5"/><circle cx="464" cy="1356" r="5"/><circle cx="458" cy="1384" r="4"/><circle cx="467" cy="1383" r="4"/><circle cx="462" cy="1393" r="4"/>
<circle cx="431" cy="1452" r="5"/><circle cx="462" cy="1449" r="5"/><circle cx="494" cy="1452" r="5"/><circle cx="521" cy="1456" r="5"/>
</g>
<g stroke="#2f9a3f" stroke-width="1.5">
<path d="M313,1032 v14 M306,1039 h14 M308,1034 l10,10 M318,1034 l-10,10"/>
<path d="M464,1349 v14 M457,1356 h14 M459,1351 l10,10 M469,1351 l-10,10"/>
<path d="M431,1445 v14 M424,1452 h14 M426,1447 l10,10 M436,1447 l-10,10"/>
<path d="M462,1442 v14 M455,1449 h14 M457,1444 l10,10 M467,1444 l-10,10"/>
<path d="M494,1445 v14 M487,1452 h14 M489,1447 l10,10 M499,1447 l-10,10"/>
<path d="M521,1449 v14 M514,1456 h14 M516,1451 l10,10 M526,1451 l-10,10"/>
</g>
<!-- black arrows -->
<g fill="none" stroke="#151515" stroke-width="2.6">
<path d="M333,1262 C336,1280 338,1292 332,1302 C326,1310 328,1316 332,1320"/>
<path d="M344,1348 L344,1370"/>
<path d="M451,1300 C454,1315 455,1328 450,1336 C446,1344 452,1349 458,1351"/>
<path d="M462,1400 L462,1430"/>
</g>
<g fill="#151515">
<path d="M327,1316 L337,1316 L334,1326 Z"/><path d="M338,1368 L350,1368 L344,1380 Z"/><path d="M453,1345 L462,1350 L455,1355 Z"/><path d="M456,1428 L468,1428 L462,1441 Z"/>
</g>
</g>

<!-- bbb -->
<g id="bbb">
<defs>
<radialGradient id="lumG" cx="0.6" cy="0.62" r="0.7">
<stop offset="0" stop-color="#ee8e91"/><stop offset="0.75" stop-color="#f09a9c"/><stop offset="1" stop-color="#e9878b"/>
</radialGradient>
</defs>
<g id="astro" fill="#f3d49a" stroke="#c6a36b" stroke-width="1">
<path d="M978.4,819.3 L978.2,818.4 L977.9,817.2 L977.6,815.9 L977.2,814.4 L976.8,812.7 L976.4,811.1 L976.0,809.4 L975.7,807.7 L975.4,806.1 L975.1,804.6 L974.9,803.1 L974.6,801.6 L974.4,800.1 L974.1,798.6 L973.9,797.2 L973.8,795.8 L973.7,794.4 L973.6,793.0 L973.6,791.7 L973.7,790.3 L973.9,789.0 L974.1,787.6 L974.4,786.3 L974.7,784.9 L975.0,783.6 L975.5,782.2 L976.0,780.8 L976.6,779.4 L977.3,777.8 L978.1,776.2 L979.1,774.4 L980.2,772.5 L981.4,770.6 L982.8,768.5 L984.2,766.4 L985.7,764.3 L987.2,762.2 L988.7,760.2 L990.2,758.2 L991.6,756.2 L993.0,754.4 L994.5,752.5 L995.9,750.6 L997.4,748.8 L998.9,746.9 L1000.4,745.2 L1001.7,743.5 L1003.0,741.9 L1004.2,740.4 L1005.3,739.0 L1006.2,737.8 L1007.1,736.7 L1007.8,735.6 L1008.5,734.7 L1009.1,733.8 L1009.6,733.0 L1010.0,732.4 L1010.4,731.7 L1010.8,731.2 L1011.0,730.8 L1009.0,729.2 L1008.6,729.6 L1008.2,730.1 L1007.7,730.7 L1007.2,731.3 L1006.7,732.1 L1006.0,732.9 L1005.3,733.7 L1004.5,734.7 L1003.7,735.8 L1002.7,737.0 L1001.6,738.2 L1000.4,739.7 L999.0,741.2 L997.6,742.8 L996.1,744.6 L994.5,746.3 L993.0,748.2 L991.4,750.0 L989.9,751.9 L988.4,753.8 L986.9,755.7 L985.4,757.6 L983.8,759.7 L982.2,761.7 L980.6,763.8 L979.1,765.9 L977.6,768.0 L976.3,770.0 L975.0,772.0 L973.9,773.8 L972.9,775.6 L972.1,777.3 L971.3,778.9 L970.7,780.5 L970.1,782.0 L969.6,783.5 L969.2,785.1 L968.8,786.6 L968.5,788.1 L968.3,789.7 L968.1,791.3 L967.9,793.0 L967.9,794.6 L968.0,796.2 L968.1,797.8 L968.2,799.4 L968.4,800.9 L968.5,802.4 L968.7,803.9 L968.9,805.4 L969.1,807.1 L969.4,808.8 L969.7,810.6 L970.0,812.4 L970.3,814.1 L970.6,815.8 L970.9,817.3 L971.2,818.7 L971.4,819.8 L971.6,820.7 Z"/>
<path d="M962.2,838.8 L961.2,838.7 L960.0,838.7 L958.5,838.6 L956.8,838.5 L955.0,838.4 L953.0,838.3 L951.0,838.2 L949.0,838.2 L947.0,838.1 L945.0,838.1 L943.1,838.2 L941.2,838.2 L939.2,838.3 L937.1,838.4 L935.1,838.5 L933.0,838.7 L930.9,838.8 L928.8,839.0 L926.8,839.3 L924.7,839.5 L922.6,839.9 L920.6,840.3 L918.5,840.7 L916.4,841.1 L914.4,841.6 L912.4,842.1 L910.4,842.6 L908.4,843.0 L906.5,843.5 L904.6,844.0 L902.7,844.4 L900.8,844.8 L898.8,845.2 L896.9,845.7 L895.0,846.1 L893.1,846.5 L891.3,847.0 L889.6,847.4 L888.0,847.9 L886.5,848.4 L885.0,848.9 L883.7,849.5 L882.4,850.2 L881.2,850.8 L880.1,851.4 L879.2,852.1 L878.3,852.6 L877.5,853.1 L876.9,853.5 L876.4,853.9 L877.6,856.1 L878.2,855.9 L878.9,855.5 L879.7,855.1 L880.6,854.6 L881.6,854.1 L882.7,853.5 L883.8,853.0 L885.0,852.5 L886.2,852.0 L887.5,851.6 L888.9,851.2 L890.5,850.8 L892.2,850.5 L893.9,850.1 L895.8,849.8 L897.7,849.4 L899.6,849.1 L901.5,848.7 L903.5,848.4 L905.4,848.0 L907.4,847.7 L909.3,847.3 L911.3,846.8 L913.3,846.4 L915.4,846.0 L917.4,845.7 L919.4,845.3 L921.4,845.0 L923.4,844.7 L925.3,844.5 L927.3,844.3 L929.3,844.1 L931.3,844.0 L933.3,843.9 L935.3,843.9 L937.3,843.8 L939.3,843.8 L941.2,843.8 L943.1,843.8 L945.0,843.9 L946.8,843.9 L948.7,844.0 L950.7,844.2 L952.6,844.3 L954.5,844.5 L956.3,844.7 L958.0,844.8 L959.5,845.0 L960.8,845.1 L961.8,845.2 Z"/>
<path d="M965.2,868.8 L964.3,869.1 L963.1,869.5 L961.6,869.9 L960.0,870.3 L958.2,870.8 L956.4,871.3 L954.5,871.9 L952.7,872.4 L950.9,872.9 L949.3,873.3 L947.8,873.8 L946.3,874.3 L944.8,874.8 L943.4,875.2 L942.0,875.7 L940.6,876.2 L939.2,876.6 L937.8,877.0 L936.2,877.4 L934.6,877.8 L932.8,878.1 L931.0,878.5 L929.0,878.8 L927.0,879.1 L925.0,879.4 L922.9,879.7 L920.9,879.9 L918.9,880.1 L916.9,880.2 L915.1,880.2 L913.2,880.2 L911.2,880.0 L909.1,879.8 L907.1,879.4 L905.1,879.1 L903.1,878.8 L901.3,878.4 L899.7,878.1 L898.3,877.9 L897.2,877.7 L896.8,880.3 L897.8,880.5 L899.1,880.9 L900.7,881.3 L902.5,881.7 L904.4,882.1 L906.5,882.6 L908.6,883.0 L910.8,883.3 L912.9,883.6 L914.9,883.8 L917.0,883.8 L919.0,883.8 L921.1,883.8 L923.3,883.6 L925.4,883.5 L927.5,883.2 L929.6,883.0 L931.6,882.8 L933.6,882.5 L935.4,882.2 L937.2,882.0 L938.8,881.6 L940.4,881.3 L942.0,880.9 L943.5,880.5 L944.9,880.2 L946.3,879.8 L947.8,879.4 L949.2,879.0 L950.7,878.7 L952.3,878.3 L954.1,877.9 L955.9,877.5 L957.8,877.1 L959.7,876.7 L961.4,876.3 L963.1,875.9 L964.6,875.6 L965.8,875.3 L966.8,875.2 Z"/>
<path d="M1010.5,816.0 L1011.2,815.1 L1012.1,813.9 L1013.0,812.5 L1014.0,811.1 L1015.2,809.5 L1016.4,807.9 L1017.7,806.3 L1019.0,804.8 L1020.4,803.5 L1021.7,802.3 L1023.2,801.2 L1024.9,800.1 L1026.7,799.0 L1028.6,798.0 L1030.6,797.0 L1032.7,796.0 L1034.8,795.0 L1036.9,794.1 L1038.9,793.2 L1040.9,792.3 L1042.8,791.5 L1044.7,790.8 L1046.6,790.1 L1048.4,789.5 L1050.4,788.9 L1052.3,788.2 L1054.3,787.5 L1056.4,786.8 L1058.6,785.9 L1060.8,784.9 L1063.1,783.8 L1065.5,782.7 L1068.0,781.6 L1070.5,780.4 L1073.0,779.1 L1075.6,777.7 L1078.2,776.3 L1080.8,774.7 L1083.4,773.1 L1086.0,771.4 L1088.6,769.5 L1091.4,767.2 L1094.3,764.8 L1097.2,762.3 L1100.0,759.8 L1102.8,757.4 L1105.3,755.1 L1107.5,753.0 L1109.4,751.3 L1110.9,750.0 L1109.1,748.0 L1107.6,749.3 L1105.7,751.0 L1103.4,753.0 L1100.8,755.2 L1098.1,757.6 L1095.2,760.0 L1092.3,762.4 L1089.4,764.7 L1086.6,766.8 L1084.0,768.6 L1081.6,770.2 L1079.0,771.7 L1076.5,773.1 L1073.9,774.4 L1071.3,775.7 L1068.8,776.9 L1066.3,778.0 L1063.9,779.1 L1061.5,780.1 L1059.2,781.1 L1057.0,782.0 L1054.9,782.7 L1052.9,783.4 L1051.0,784.0 L1049.0,784.5 L1047.1,785.1 L1045.1,785.6 L1043.1,786.2 L1041.1,786.9 L1039.1,787.7 L1037.0,788.5 L1034.9,789.4 L1032.7,790.3 L1030.5,791.2 L1028.4,792.2 L1026.2,793.2 L1024.1,794.2 L1022.1,795.3 L1020.1,796.5 L1018.3,797.7 L1016.5,799.1 L1014.8,800.7 L1013.2,802.4 L1011.7,804.1 L1010.3,805.8 L1009.1,807.4 L1007.9,808.9 L1006.9,810.2 L1006.1,811.2 L1005.5,812.0 Z"/>
<path d="M1031.2,829.0 L1032.0,828.7 L1033.1,828.2 L1034.4,827.7 L1035.9,827.1 L1037.5,826.4 L1039.2,825.7 L1041.0,825.0 L1042.8,824.2 L1044.5,823.3 L1046.2,822.5 L1047.9,821.6 L1049.5,820.7 L1051.2,819.7 L1053.0,818.7 L1054.7,817.6 L1056.5,816.5 L1058.2,815.4 L1059.9,814.2 L1061.6,813.1 L1063.3,811.9 L1065.0,810.6 L1066.6,809.3 L1068.1,808.0 L1069.7,806.7 L1071.2,805.3 L1072.8,803.9 L1074.3,802.5 L1075.9,801.2 L1077.5,799.8 L1079.1,798.4 L1080.9,796.9 L1082.8,795.4 L1084.8,793.7 L1086.9,792.1 L1088.9,790.4 L1090.9,788.8 L1092.7,787.3 L1094.4,786.0 L1095.7,784.9 L1096.8,784.0 L1095.2,782.0 L1094.1,782.8 L1092.7,783.8 L1091.0,785.1 L1089.1,786.5 L1087.1,788.0 L1084.9,789.5 L1082.8,791.1 L1080.7,792.7 L1078.7,794.2 L1076.9,795.6 L1075.2,796.9 L1073.5,798.3 L1071.8,799.6 L1070.2,800.9 L1068.6,802.2 L1067.0,803.5 L1065.5,804.7 L1063.9,805.9 L1062.3,807.0 L1060.7,808.1 L1059.0,809.2 L1057.3,810.3 L1055.6,811.3 L1053.9,812.3 L1052.2,813.3 L1050.4,814.2 L1048.7,815.1 L1047.0,816.0 L1045.4,816.8 L1043.8,817.5 L1042.2,818.2 L1040.5,818.9 L1038.8,819.6 L1037.1,820.2 L1035.4,820.8 L1033.8,821.4 L1032.3,821.9 L1030.9,822.3 L1029.8,822.7 L1028.8,823.0 Z"/>
<path d="M1032.2,859.2 L1032.8,859.2 L1033.5,859.1 L1034.4,859.0 L1035.4,859.0 L1036.5,858.9 L1037.8,858.7 L1039.0,858.6 L1040.3,858.4 L1041.6,858.1 L1042.8,857.7 L1043.9,857.4 L1044.9,856.9 L1046.0,856.5 L1047.0,856.0 L1048.0,855.4 L1049.0,854.9 L1050.1,854.2 L1051.1,853.6 L1052.2,852.8 L1053.3,852.1 L1054.5,851.2 L1055.8,850.3 L1057.1,849.3 L1058.5,848.3 L1059.9,847.3 L1061.2,846.1 L1062.6,845.0 L1063.9,843.9 L1065.2,842.7 L1066.4,841.5 L1067.6,840.3 L1068.7,839.1 L1069.6,837.8 L1070.6,836.6 L1071.5,835.3 L1072.4,834.1 L1073.3,832.8 L1074.2,831.6 L1075.2,830.4 L1076.2,829.1 L1077.4,827.8 L1078.8,826.4 L1080.2,824.9 L1081.7,823.3 L1083.2,821.8 L1084.6,820.4 L1086.0,819.0 L1087.1,817.8 L1088.2,816.7 L1088.9,815.9 L1087.1,814.1 L1086.3,814.8 L1085.2,815.8 L1084.0,817.0 L1082.6,818.3 L1081.1,819.7 L1079.5,821.2 L1078.0,822.7 L1076.5,824.1 L1075.0,825.5 L1073.8,826.9 L1072.6,828.1 L1071.5,829.4 L1070.4,830.6 L1069.5,831.8 L1068.5,833.0 L1067.6,834.2 L1066.6,835.3 L1065.6,836.4 L1064.6,837.5 L1063.6,838.5 L1062.4,839.5 L1061.1,840.6 L1059.8,841.6 L1058.5,842.6 L1057.1,843.6 L1055.8,844.6 L1054.4,845.5 L1053.1,846.4 L1051.8,847.2 L1050.7,847.9 L1049.5,848.6 L1048.5,849.2 L1047.5,849.8 L1046.5,850.2 L1045.6,850.7 L1044.7,851.1 L1043.8,851.4 L1043.0,851.7 L1042.1,852.0 L1041.2,852.3 L1040.3,852.4 L1039.4,852.6 L1038.3,852.7 L1037.3,852.7 L1036.2,852.8 L1035.2,852.8 L1034.2,852.8 L1033.2,852.8 L1032.4,852.8 L1031.8,852.8 Z"/>
<path d="M1028.3,872.7 L1029.2,873.3 L1030.4,874.0 L1031.9,874.8 L1033.4,875.7 L1035.1,876.7 L1036.8,877.7 L1038.5,878.8 L1040.2,879.9 L1041.7,881.0 L1043.1,882.1 L1044.4,883.3 L1045.7,884.6 L1047.0,885.9 L1048.2,887.3 L1049.5,888.8 L1050.8,890.3 L1052.1,891.8 L1053.4,893.4 L1054.7,895.0 L1056.1,896.6 L1057.5,898.2 L1058.9,899.8 L1060.3,901.6 L1061.8,903.3 L1063.2,905.1 L1064.7,906.8 L1066.1,908.5 L1067.6,910.2 L1069.0,911.8 L1070.4,913.4 L1071.8,914.8 L1073.0,916.3 L1074.3,917.7 L1075.5,919.1 L1076.8,920.5 L1078.1,921.9 L1079.5,923.1 L1080.9,924.4 L1082.5,925.5 L1084.2,926.5 L1086.1,927.4 L1088.2,928.1 L1090.4,928.8 L1092.7,929.3 L1095.0,929.8 L1097.2,930.2 L1099.3,930.5 L1101.1,930.8 L1102.6,931.0 L1103.7,931.3 L1104.3,928.7 L1103.1,928.4 L1101.6,928.1 L1099.8,927.7 L1097.8,927.3 L1095.6,926.8 L1093.4,926.3 L1091.3,925.7 L1089.2,925.1 L1087.4,924.3 L1085.8,923.5 L1084.4,922.6 L1083.1,921.6 L1081.9,920.5 L1080.7,919.3 L1079.6,918.0 L1078.4,916.6 L1077.3,915.2 L1076.1,913.7 L1074.9,912.2 L1073.6,910.6 L1072.2,909.1 L1070.9,907.4 L1069.5,905.7 L1068.2,904.0 L1066.8,902.2 L1065.4,900.4 L1064.0,898.6 L1062.6,896.8 L1061.2,895.1 L1059.9,893.4 L1058.6,891.8 L1057.4,890.2 L1056.1,888.6 L1054.9,887.0 L1053.6,885.4 L1052.4,883.8 L1051.1,882.2 L1049.7,880.7 L1048.3,879.3 L1046.9,877.9 L1045.3,876.5 L1043.6,875.1 L1041.9,873.9 L1040.1,872.6 L1038.3,871.5 L1036.6,870.4 L1035.1,869.4 L1033.7,868.6 L1032.6,867.8 L1031.7,867.3 Z"/>
<path d="M994.8,889.5 L994.6,891.0 L994.4,892.8 L994.1,895.0 L993.7,897.5 L993.4,900.2 L993.0,903.0 L992.5,905.9 L992.1,908.8 L991.6,911.7 L991.2,914.5 L990.7,917.2 L990.3,920.0 L989.8,922.8 L989.3,925.7 L988.8,928.6 L988.2,931.5 L987.6,934.6 L987.0,937.7 L986.3,941.0 L985.6,944.4 L984.7,948.0 L983.7,951.8 L982.5,955.7 L981.3,959.8 L980.0,964.0 L978.8,968.3 L977.7,972.5 L976.9,976.8 L976.2,980.9 L975.9,984.9 L975.9,988.7 L976.2,992.4 L976.7,996.1 L977.3,999.6 L978.1,1003.1 L979.0,1006.5 L980.0,1009.9 L981.1,1013.4 L982.2,1016.9 L983.4,1020.5 L984.7,1024.4 L986.2,1028.6 L987.9,1032.9 L989.7,1037.4 L991.6,1041.8 L993.4,1046.0 L995.0,1049.9 L996.6,1053.3 L997.8,1056.2 L998.8,1058.5 L1001.2,1057.5 L1000.3,1055.2 L999.1,1052.2 L997.7,1048.7 L996.0,1044.8 L994.3,1040.6 L992.6,1036.2 L990.9,1031.8 L989.2,1027.5 L987.8,1023.3 L986.6,1019.5 L985.6,1015.9 L984.5,1012.4 L983.5,1008.9 L982.6,1005.5 L981.8,1002.2 L981.1,998.8 L980.5,995.5 L980.2,992.1 L980.0,988.6 L980.1,985.1 L980.4,981.4 L981.1,977.6 L982.0,973.6 L983.1,969.5 L984.4,965.3 L985.7,961.2 L987.0,957.1 L988.3,953.1 L989.4,949.3 L990.4,945.6 L991.2,942.1 L992.0,938.8 L992.7,935.6 L993.4,932.6 L994.0,929.6 L994.6,926.7 L995.2,923.8 L995.7,921.0 L996.3,918.3 L996.8,915.5 L997.4,912.7 L997.9,909.8 L998.4,906.8 L998.9,903.9 L999.4,901.1 L999.8,898.4 L1000.3,896.0 L1000.6,893.8 L1000.9,892.0 L1001.2,890.5 Z"/>
<path d="M1006.8,889.9 L1006.7,891.7 L1006.7,893.9 L1006.6,896.7 L1006.5,899.7 L1006.4,903.0 L1006.3,906.4 L1006.2,910.0 L1006.2,913.5 L1006.1,916.8 L1006.1,920.0 L1006.2,923.0 L1006.2,926.1 L1006.2,929.2 L1006.3,932.3 L1006.3,935.4 L1006.4,938.4 L1006.6,941.5 L1006.8,944.5 L1007.2,947.5 L1007.6,950.4 L1008.1,953.1 L1008.6,955.8 L1009.3,958.4 L1010.0,961.0 L1010.8,963.5 L1011.6,965.9 L1012.4,968.4 L1013.3,970.8 L1014.1,973.2 L1015.0,975.7 L1015.9,978.2 L1016.9,980.8 L1017.8,983.5 L1018.8,986.2 L1019.9,988.9 L1020.9,991.6 L1022.0,994.1 L1023.2,996.5 L1024.3,998.8 L1025.6,1000.9 L1026.9,1002.8 L1028.4,1004.6 L1030.0,1006.3 L1031.6,1007.8 L1033.1,1009.2 L1034.7,1010.4 L1036.1,1011.5 L1037.3,1012.5 L1038.3,1013.3 L1039.1,1014.0 L1040.9,1012.0 L1040.1,1011.3 L1039.1,1010.4 L1037.9,1009.3 L1036.5,1008.2 L1035.1,1006.9 L1033.7,1005.6 L1032.2,1004.1 L1030.8,1002.5 L1029.6,1000.9 L1028.4,999.1 L1027.4,997.2 L1026.4,995.0 L1025.3,992.7 L1024.4,990.2 L1023.4,987.6 L1022.4,984.9 L1021.5,982.2 L1020.7,979.5 L1019.8,976.9 L1019.0,974.3 L1018.2,971.8 L1017.4,969.4 L1016.6,967.0 L1015.8,964.6 L1015.1,962.2 L1014.5,959.7 L1013.8,957.3 L1013.3,954.8 L1012.8,952.3 L1012.4,949.6 L1012.1,946.9 L1011.9,944.1 L1011.8,941.2 L1011.7,938.3 L1011.7,935.3 L1011.7,932.2 L1011.7,929.2 L1011.8,926.1 L1011.8,923.0 L1011.9,920.0 L1011.9,916.9 L1012.0,913.6 L1012.2,910.1 L1012.3,906.7 L1012.5,903.2 L1012.7,900.0 L1012.8,896.9 L1013.0,894.2 L1013.1,891.9 L1013.2,890.1 Z"/>
<path d="M1013.0,967.3 L1013.9,967.7 L1015.1,968.2 L1016.5,968.8 L1018.0,969.6 L1019.8,970.3 L1021.6,971.1 L1023.5,972.0 L1025.4,972.7 L1027.4,973.5 L1029.3,974.1 L1031.1,974.7 L1033.0,975.3 L1034.9,975.9 L1036.9,976.4 L1038.9,977.0 L1041.0,977.5 L1043.1,977.9 L1045.3,978.4 L1047.5,978.7 L1049.8,979.0 L1052.1,979.2 L1054.6,979.3 L1057.1,979.4 L1059.6,979.4 L1062.2,979.4 L1064.8,979.4 L1067.4,979.2 L1070.0,979.1 L1072.6,978.9 L1075.2,978.7 L1077.7,978.4 L1080.1,978.0 L1082.5,977.5 L1084.9,977.0 L1087.2,976.4 L1089.6,975.9 L1092.0,975.4 L1094.6,975.0 L1097.2,974.7 L1100.0,974.5 L1103.2,974.4 L1106.9,974.5 L1110.8,974.6 L1114.9,974.8 L1119.0,975.1 L1122.9,975.4 L1126.7,975.6 L1130.0,975.9 L1132.8,976.1 L1134.9,976.2 L1135.1,973.8 L1133.0,973.6 L1130.2,973.4 L1126.9,973.1 L1123.1,972.8 L1119.2,972.4 L1115.0,972.1 L1110.9,971.8 L1107.0,971.6 L1103.3,971.5 L1100.0,971.5 L1097.0,971.7 L1094.2,972.0 L1091.5,972.4 L1089.0,972.8 L1086.5,973.3 L1084.2,973.8 L1081.9,974.3 L1079.6,974.7 L1077.2,975.1 L1074.8,975.3 L1072.4,975.4 L1069.8,975.6 L1067.3,975.7 L1064.7,975.7 L1062.2,975.7 L1059.7,975.7 L1057.2,975.6 L1054.8,975.5 L1052.5,975.3 L1050.2,975.0 L1048.1,974.7 L1046.0,974.4 L1043.9,973.9 L1041.9,973.4 L1040.0,972.9 L1038.1,972.3 L1036.2,971.7 L1034.3,971.1 L1032.5,970.5 L1030.7,969.9 L1029.0,969.2 L1027.1,968.5 L1025.3,967.7 L1023.5,966.9 L1021.7,966.0 L1020.1,965.2 L1018.5,964.5 L1017.2,963.8 L1016.0,963.2 L1015.0,962.7 Z"/>
<path d="M972,815 C985,808 998,808 1008,812 C1016,818 1026,822 1031,828 C1033,838 1030,848 1034,856 C1034,866 1030,870 1028,872 C1018,876 1012,884 1006,890 C998,890 990,886 982,884 C974,880 968,876 964,870 C962,860 966,850 962,842 C964,832 968,822 972,815 Z"/>
</g>
<g fill="#f3d49a"><path d="M975,822 L1008,816 L1030,830 L1032,856 L1028,870 L1006,888 L982,882 L964,868 L964,842 Z"/></g>
<ellipse cx="993" cy="846" rx="18" ry="19" fill="#e1bf80" stroke="#c5a26a" stroke-width="1"/>
<!-- vessel end-foot (beige outer) -->
<path d="M808,942 C780,944 752,955 736,972 C722,990 718,1020 720,1045 C723,1080 738,1112 765,1127 C790,1136 822,1134 850,1122 C872,1112 885,1098 890,1085 C898,1070 905,1050 907,1030 C910,1010 912,1000 910,985 C909,968 911,955 918,945 C935,925 955,900 975,876 L966,868 C948,890 928,912 910,930 C895,942 850,942 808,942 Z" fill="#f3d49a" stroke="#c9a56e" stroke-width="1.3"/>
<!-- macrophage teal -->
<path d="M742,1085 C760,1090 790,1100 815,1108 C826,1112 828,1122 815,1127 C790,1132 760,1128 745,1118 C735,1108 734,1095 742,1085 Z" fill="#6fc0be" stroke="#4a9c9a" stroke-width="1"/>
<!-- pericyte -->
<path d="M848,962 C865,958 885,965 895,978 C903,992 902,1010 895,1022 C888,1018 885,1005 878,995 C868,985 855,978 848,962 Z" fill="#e9b3e2" stroke="#b887b5" stroke-width="1"/>
<ellipse cx="877" cy="981" rx="10" ry="7" fill="#d79ad2" transform="rotate(30 877 981)"/>
<!-- vessel wall ring -->
<circle cx="808" cy="1031" r="80" fill="#f6cfcb" stroke="#c88a88" stroke-width="1.2"/>
<circle cx="808" cy="1031" r="74" fill="none" stroke="#fbeae6" stroke-width="2.2"/>
<circle cx="808" cy="1031" r="71.5" fill="#f5c2be" stroke="#d49a98" stroke-width="1"/>
<g fill="#f2adab" stroke="#d89090" stroke-width="1">
<ellipse cx="750" cy="1020" rx="8" ry="20"/>
<ellipse cx="846" cy="1095" rx="16" ry="9" transform="rotate(-25 846 1095)"/>
<ellipse cx="842" cy="974" rx="17" ry="8" transform="rotate(25 842 974)"/>
</g>
<!-- lumen -->
<path d="M765.8,979.0 C772.0,974.8 782.2,970.3 791.2,968.9 C800.2,967.5 813.0,968.1 820.0,970.6 C827.0,973.1 827.0,979.2 833.5,984.0 C840.0,988.8 852.8,994.0 859.0,999.4 C865.2,1004.8 868.5,1008.7 870.8,1016.3 C873.0,1023.9 873.6,1036.0 872.5,1045.0 C871.4,1054.0 868.8,1063.4 864.0,1070.5 C859.2,1077.6 851.6,1083.2 843.7,1087.4 C835.8,1091.7 826.2,1096.0 816.6,1096.0 C807.0,1096.0 795.0,1090.8 786.0,1087.4 C777.0,1084.0 768.6,1081.2 762.4,1075.6 C756.2,1069.9 751.4,1062.8 748.9,1053.5 C746.4,1044.2 746.4,1029.6 747.2,1019.7 C748.1,1009.8 750.9,1001.1 754.0,994.3 C757.1,987.5 759.6,983.2 765.8,979.0 Z" fill="url(#lumG)" stroke="#d9999a" stroke-width="1"/>
<!-- dashed lines -->
<path d="M862,1057 L603,1155" stroke="#444" stroke-width="1.6" stroke-dasharray="9 6" fill="none"/>
<path d="M907,1057 L1105,1155" stroke="#555" stroke-width="1.6" stroke-dasharray="9 6" fill="none"/>
<!-- small box -->
<rect x="862" y="1031" width="45" height="26" fill="none" stroke="#111" stroke-width="2.6"/>
</g>

<!-- inset -->
<g id="inset">
<defs>
<linearGradient id="lumenI" x1="0" y1="0" x2="0" y2="1">
<stop offset="0" stop-color="#e86a70"/><stop offset="0.2" stop-color="#f29b9d"/><stop offset="0.5" stop-color="#f6b2b0"/><stop offset="0.8" stop-color="#f29b9d"/><stop offset="1" stop-color="#e56a70"/>
</linearGradient>
<radialGradient id="monoG" cx="0.4" cy="0.4" r="0.65">
<stop offset="0" stop-color="#cdd6f2"/><stop offset="0.6" stop-color="#b3bfe6"/><stop offset="1" stop-color="#97a3d6"/>
</radialGradient>
<clipPath id="insetClip"><rect x="595" y="1158" width="519" height="305"/></clipPath>
</defs>
<g clip-path="url(#insetClip)">
<rect x="595" y="1158" width="519" height="305" fill="#fbe8df"/>
<!-- lumen -->
<rect x="595" y="1226" width="519" height="112" fill="url(#lumenI)"/>
<!-- top endfoot band -->
<path d="M595,1184 L683,1185 C688,1190 690,1200 688,1204 L595,1204 Z" fill="#f0d08f" stroke="#b89860" stroke-width="1"/>
<path d="M692,1204 C690,1196 694,1188 700,1186 L785,1184 C800,1180 808,1168 810,1158 L852,1158 C855,1170 862,1182 880,1185 L996,1186 C1002,1192 1002,1200 998,1204 Z" fill="#f0d08f" stroke="#b89860" stroke-width="1"/>
<path d="M1004,1204 C1000,1196 1004,1188 1010,1186 L1114,1185 L1114,1204 Z" fill="#f0d08f" stroke="#b89860" stroke-width="1"/>
<!-- top endothelium -->
<path d="M595,1206 C650,1204 750,1205 800,1208 C850,1205 950,1204 1114,1206 L1114,1228 C1000,1232 900,1226 838,1229 C780,1226 700,1232 595,1228 Z" fill="#f7cfcd" stroke="#d39c9a" stroke-width="1"/>
<path d="M595,1210 C700,1208 900,1208 1114,1210" stroke="#fbe5e2" stroke-width="3" fill="none"/>
<g fill="#eea3a6" stroke="#d98a8f" stroke-width="0.8">
<ellipse cx="650" cy="1217" rx="15" ry="6"/><ellipse cx="745" cy="1217" rx="16" ry="6"/><ellipse cx="936" cy="1217" rx="16" ry="6"/><ellipse cx="1034" cy="1217" rx="16" ry="6"/>
</g>
<g stroke="#555" stroke-width="1.2"><path d="M693,1212 h15 M695,1216 h15 M829,1212 h15 M831,1216 h15 M977,1212 h15 M979,1216 h15"/></g>
<!-- bottom endothelium -->
<path d="M595,1336 C700,1334 800,1338 838,1336 C900,1334 1000,1338 1114,1336 L1114,1362 C1000,1364 900,1360 838,1362 C760,1364 700,1360 595,1362 Z" fill="#f7cfcd" stroke="#d39c9a" stroke-width="1"/>
<path d="M595,1357 C700,1356 900,1356 1114,1357" stroke="#fbe5e2" stroke-width="3" fill="none"/>
<g fill="#eea3a6" stroke="#d98a8f" stroke-width="0.8">
<ellipse cx="641" cy="1348" rx="15" ry="6"/><ellipse cx="786" cy="1348" rx="16" ry="6"/><ellipse cx="928" cy="1348" rx="16" ry="6"/><ellipse cx="1034" cy="1348" rx="16" ry="6"/>
</g>
<g stroke="#555" stroke-width="1.2"><path d="M697,1346 h15 M699,1350 h15 M831,1346 h15 M833,1350 h15 M977,1346 h15 M979,1350 h15"/></g>
<!-- bottom endfoot band -->
<path d="M595,1365 L690,1365 C694,1370 694,1374 692,1377 L595,1377 Z" fill="#f0d08f" stroke="#b89860" stroke-width="1"/>
<path d="M698,1377 C696,1372 697,1368 702,1365 L996,1365 C1000,1370 1000,1374 998,1377 Z" fill="#f0d08f" stroke="#b89860" stroke-width="1"/>
<path d="M1004,1377 C1002,1372 1003,1368 1008,1365 L1114,1365 L1114,1377 Z" fill="#f0d08f" stroke="#b89860" stroke-width="1"/>
<!-- RBCs -->
<defs><radialGradient id="rbcG" cx="0.5" cy="0.5" r="0.5"><stop offset="0" stop-color="#e52a2e"/><stop offset="0.55" stop-color="#f03a3a"/><stop offset="0.85" stop-color="#f24040"/><stop offset="1" stop-color="#c8262a"/></radialGradient></defs>
<ellipse cx="905" cy="1280" rx="47" ry="31" fill="url(#rbcG)" stroke="#b81e22" stroke-width="1" transform="rotate(-42 905 1280)"/>
<path d="M878,1297 C892,1290 912,1272 925,1255" stroke="#b81a20" stroke-width="2.5" fill="none" opacity="0.55"/>
<path d="M884,1300 C900,1293 918,1276 930,1260" stroke="#ff7070" stroke-width="1.5" fill="none" opacity="0.5"/>
<ellipse cx="1092" cy="1273" rx="34" ry="42" fill="url(#rbcG)" stroke="#b81e22" stroke-width="1" transform="rotate(-15 1092 1273)"/>
<path d="M1072,1262 C1080,1252 1095,1248 1110,1250" stroke="#b81a20" stroke-width="2.5" fill="none" opacity="0.5"/>
<!-- monocytes -->
<path d="M618,1265 C620,1245 640,1233 662,1236 C685,1240 705,1255 705,1280 C705,1305 690,1325 665,1327 C640,1328 618,1310 615,1292 C613,1280 616,1272 618,1265 Z" fill="url(#monoG)" stroke="#7c86bc" stroke-width="1.2"/>
<path d="M680,1340 C676,1330 690,1328 698,1334 C705,1342 700,1352 697,1358 C695,1365 700,1368 708,1366 C740,1362 775,1378 782,1405 C788,1432 770,1450 740,1451 C710,1452 692,1438 690,1410 C690,1392 694,1380 690,1366 C688,1355 682,1348 680,1340 Z" fill="url(#monoG)" stroke="#7c86bc" stroke-width="1.2"/>
<path d="M793,1442 C795,1418 815,1400 840,1400 C868,1402 888,1422 886,1448 C886,1460 884,1466 880,1470 L795,1470 C792,1460 792,1450 793,1442 Z" fill="url(#monoG)" stroke="#7c86bc" stroke-width="1.2"/>
</g>
<!-- viruses -->
<g fill="#2d9b3c" stroke="#555" stroke-width="0.8">
<circle cx="673" cy="1264" r="5.5"/><circle cx="807" cy="1302" r="5.5"/><circle cx="887" cy="1350" r="5.5"/><circle cx="767" cy="1394" r="5.5"/><circle cx="829" cy="1419" r="5.5"/><circle cx="985" cy="1312" r="5.5"/><circle cx="985" cy="1415" r="5.5"/>
</g>
<g stroke="#2d9b3c" stroke-width="1.6" stroke-linecap="round">
<path d="M673,1256 v16 M665,1264 h16 M667,1258 l12,12 M679,1258 l-12,12"/>
<path d="M807,1294 v16 M799,1302 h16 M801,1296 l12,12 M813,1296 l-12,12"/>
<path d="M887,1342 v16 M879,1350 h16 M881,1344 l12,12 M893,1344 l-12,12"/>
<path d="M767,1386 v16 M759,1394 h16 M761,1388 l12,12 M773,1388 l-12,12"/>
<path d="M829,1411 v16 M821,1419 h16 M823,1413 l12,12 M835,1413 l-12,12"/>
<path d="M985,1304 v16 M977,1312 h16 M979,1306 l12,12 M991,1306 l-12,12"/>
<path d="M985,1407 v16 M977,1415 h16 M979,1409 l12,12 M991,1409 l-12,12"/>
</g>
<!-- arrows -->
<path d="M823,1302 C840,1302 846,1312 846,1325 C846,1342 852,1350 864,1350" fill="none" stroke="#111" stroke-width="2.6"/>
<path d="M862,1343 L876,1350 L862,1357 Z" fill="#111"/>
<path d="M985,1323 L985,1390" stroke="#111" stroke-width="2.6"/>
<path d="M978,1388 L992,1388 L985,1404 Z" fill="#111"/>
<!-- box -->
<rect x="595" y="1158" width="519" height="305" fill="none" stroke="#333" stroke-width="2"/>
</g>

<!-- leaders -->
<g id="leaders" fill="none" stroke="#1c1c1c" stroke-width="1.8" stroke-linejoin="round">
<!-- head -->
<path d="M247.5,205 L247.5,217 L295,306"/>
<path d="M183.5,236 L183.5,249 L227,300"/>
<path d="M145.5,311 L145.5,328 L343,405"/>
<path d="M441,248 L426,248 L386,284"/>
<path d="M537,248 L570.5,248"/>
<path d="M590,188.5 L570.5,188.5 L570.5,319.5 L592,319.5"/>
<path d="M163,603 L163,588 L220,508"/>
<rect x="343" y="400" width="13.5" height="13.5" stroke-width="1.6"/>
<path d="M356.5,400 L386.5,400 L386.5,832"/>
<!-- top block -->
<path d="M641,127.5 L745.5,179"/>
<path d="M644,169.5 L741,195"/>
<path d="M698,204 L765,220"/>
<path d="M883,122 L883,240"/>
<path d="M687,238.5 L726,238.5"/>
<path d="M695.5,274 L736,239.5"/>
<path d="M683,311 L743,244"/>
<path d="M684,347 L745,347"/>
<path d="M1030,274.5 L1102.5,284 L1102.5,600.5 L1085,600"/>
<!-- mid block -->
<path d="M697,507 L764.5,525"/>
<path d="M686,543 L763,553"/>
<path d="M718,579.5 L735,579.5 M747.5,561.5 L735,561.5 L735,598.5 L747.5,598.5"/>
<path d="M683,642.5 L763,606.5"/>
<path d="M708,698 L860,666"/>
<path d="M661,751 L811,693"/>
<path d="M842.5,742 L842.5,912"/>
<!-- arrows heads -->
<path d="M386.5,932 L386.5,982"/>
</g>
<g fill="#1c1c1c">
<path d="M1071,598 L1087,591 L1083,598 L1087,605 Z"/>
<path d="M836.5,908 L848.5,908 L842.5,923 Z"/>
<path d="M380.5,980 L392.5,980 L386.5,995 Z"/>
</g>
<g fill="none" stroke="#1c1c1c" stroke-width="1.8">
<!-- bbb -->
<path d="M742.5,944 L782,968"/>
<path d="M670,974.5 L879,983"/>
<path d="M684,1008.5 L735,1008.5"/>
<path d="M705,1078.5 L801,1035.5"/>
<path d="M702,1112.5 L765,1112.5"/>
<!-- choroid -->
<path d="M288,998.5 L288,1008.5 L309,1034"/>
<path d="M206,1036 L260,1083"/>
<path d="M189,1107 L328,1107"/>
<path d="M236.5,1157.5 L309,1157.5"/>
<path d="M211,1229 L377.5,1229"/>
<path d="M355,1430.5 L424.5,1430.5"/>
<!-- inset -->
<path d="M833.5,1262 L850.5,1262 L893.5,1220.5"/>
<path d="M769.5,1300.5 L793,1300.5"/>
<path d="M720.5,1299.5 L682,1267.5"/>
</g>
<g fill="#111">
<circle cx="801" cy="1035.5" r="4.5"/>
<circle cx="328" cy="1107" r="3.5"/>
<circle cx="377.5" cy="1229" r="3.5"/>
</g>

</g>
<g id="labels">
<text class="l" x="206" y="198">Cerebrum</text>
<text class="l" x="162" y="231.5">Skull</text>
<text class="l" x="117" y="283.5">Choroid</text>
<text class="l" x="117" y="305.5">plexus</text>
<text class="l" x="450" y="253.8">Meninges</text>
<text class="l" x="108" y="620">Cerebellum</text>
<text class="l" x="883" y="96" text-anchor="middle">Superior</text>
<text class="l" x="883" y="117.5" text-anchor="middle">sagittal sinus</text>
<text class="l" x="596.5" y="133.7">Skin</text>
<text class="l" x="596.5" y="170.2">Skull</text>
<text class="l" x="596.5" y="206.6">Dura mater</text>
<text class="l" x="596.5" y="243.2">Arachnoid</text>
<text class="l" x="596.5" y="280">Trabeculae</text>
<text class="l" x="596.5" y="316.4">Pia mater</text>
<text class="l" x="596.5" y="353.5">Cerebral</text>
<text class="l" x="596.5" y="375">cortex</text>
<text class="l" x="592.5" y="510.2">Dura mater</text>
<text class="l" x="592.5" y="548.4">Arachnoid</text>
<text class="l" x="592.5" y="584.5">Subarachnoid</text>
<text class="l" x="592.5" y="606.5">space</text>
<text class="l h" x="780.5" y="584.5">Trabeculae</text>
<text class="l" x="592.5" y="647.7">Pia mater</text>
<text class="l" x="592.5" y="700.6">Blood vessel</text>
<text class="l" x="592.5" y="753">Neuron</text>
<text class="b" x="382.5" y="868.7" text-anchor="middle">Blood-CSF</text>
<text class="b" x="382.5" y="896.6" text-anchor="middle">Barrier</text>
<text class="l" x="382.5" y="917.7" text-anchor="middle" style="font-size:22.3px">(section of choroid plexus)</text>
<text class="b" x="745.5" y="867.3" text-anchor="middle">Blood Brain</text>
<text class="b" x="745.5" y="895.5" text-anchor="middle">Barrier</text>
<text class="l" x="592.5" y="924.4">Endothelial cell</text>
<text class="l" x="592.5" y="947.4">(non-fenestrated)</text>
<text class="l" x="592.5" y="977.9">Pericyte</text>
<text class="l" x="592.5" y="1012.9">Basement</text>
<text class="l" x="592.5" y="1035.9">membrane</text>
<text class="l" x="592.5" y="1080.2">Blood vessel</text>
<text class="l" x="592.5" y="1116.8">Perivascular</text>
<text class="l" x="592.5" y="1138.2">macrophage</text>
<text class="l" x="1016.5" y="946">Astrocyte</text>
<text class="l" x="268" y="991.3">Virus</text>
<text class="l" x="108.5" y="1040.4">Ependymal</text>
<text class="l" x="108.5" y="1061.4">cells</text>
<text class="l" x="108.5" y="1108.6">Capillary</text>
<text class="l" x="108.5" y="1164">Endothelial cell</text>
<text class="l" x="108.5" y="1185">(fenestrated)</text>
<text class="l" x="108.5" y="1233.3">Connective</text>
<text class="l" x="108.5" y="1255.3">tissue</text>
<text class="l" x="281" y="1412" text-anchor="middle">CSF</text>
<text class="l" x="213.5" y="1433.2">(ventrical cavity)</text>
<text class="l h" x="723.5" y="1264.2">Endothelium</text>
<text class="l h" x="985.5" y="1255.2">BLOOD</text>
<text class="l h" x="724.5" y="1305.8">Virus</text>
<text class="l h" x="1021.5" y="1309.4">Red</text>
<text class="l h" x="1021.5" y="1332">blood cell</text>
<text class="l h" x="602.5" y="1404.2">Monocyte</text>
<text class="l h" x="994.5" y="1450.7">BRAIN</text>
</g>
</svg>
<div class="cr">Credit: NIH Medical Arts; https://www.ncbi.nlm.nih.gov/</div>
</body></html>
